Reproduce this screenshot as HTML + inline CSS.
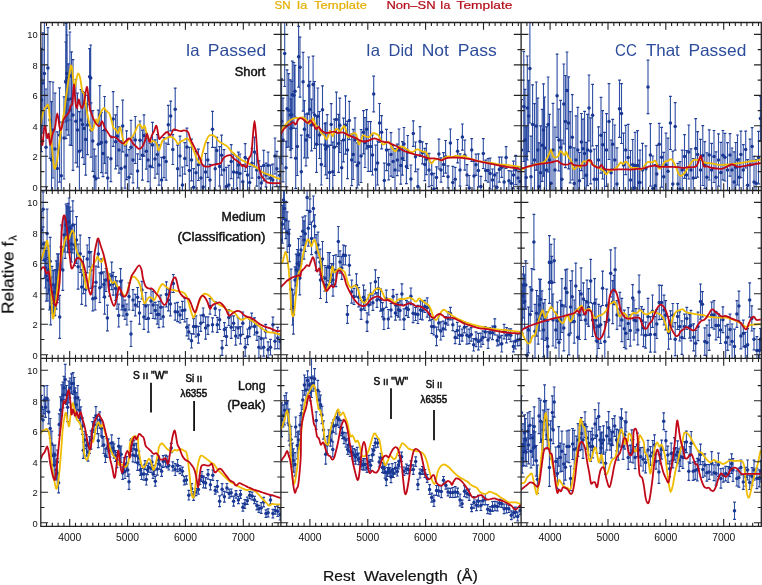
<!DOCTYPE html><html><head><meta charset="utf-8"><style>html,body{margin:0;padding:0;background:#fff;}svg{display:block;}</style></head><body><svg width="762" height="585" viewBox="0 0 762 585" font-family="Liberation Sans, sans-serif"><rect width="762" height="585" fill="#fff"/><clipPath id="c00"><rect x="40.8" y="22.5" width="240.2" height="168"/></clipPath><g clip-path="url(#c00)"><path d="M65.7 42V122M67.1 35V121M69.9 32V120M90.7 45V111M41.5 48.4V151.6M42.8 32.8V133.2M44.4 18.4V128.6M46 89V205.6M47.9 27.7V108.3M50 81.7V158.3M51.5 101.7V218.3M53 82V178M55 93.2V204.6M57.3 131.9V205.3M59.5 87.9V182.1M61.3 122.2V229.2M64 96.8V179M66 23.4V138.6M66.8 17.2V129.8M68.3 63.9V135.1M70 74.8V145.2M71.5 51.9V145.5M73 59.6V170.4M75.9 79.7V162.9M77.5 93.2V166.8M79.4 111.6V190.8M81 89.6V150.4M82.5 91.4V157.6M84.1 92.4V164.4M85.7 103.7V175.1M87.5 95.4V154.6M89.6 48.7V104.7M91 102.8V157.2M92.8 110.6V171.4M94.3 149.1V203.7M95.9 156V201.6M98.3 110.2V178.2M99.8 85.6V144.4M101.4 112.6V172.6M103 130.5V176.7M104.6 96.5V163.5M106 110.8V173.2M107.7 157.1V198.9M110.9 136V181.6M113.2 91.6V146.4M115.6 114.8V168.8M117.2 106.7V165.9M119 126.8V173.2M121.1 140.8V196.4M122.7 100.2V151.8M125 145.8V188.2M126.6 130.8V179.6M129 149.7V204.7M131 120.4V174.2M133 137.2V182.8M135.3 116.5V163.5M137.6 153.8V188M140 121V159.4M142.4 130.2V180.2M144 114.8V156.2M146.3 133.3V169.1M148 138.3V181.7M150.2 143.1V189.3M152.5 122.4V167.6M155 139.8V178.2M157.3 134.7V174.1M159 144.8V185.2M161.6 157.3V202.7M164 137.6V177.6M166.1 143V180.2M168.3 105.3V144.3M170.7 101.1V130.9M172.8 134.7V164.5M175.2 88.1V130.5M177.6 145.1V192.5M180 136.1V175.9M182.4 167V202.8M184.8 142.7V174.1M186.9 128.2V165.6M189.3 147.4V193.4M191.5 139.1V180.9M193.6 168.6V206M196 151.3V194.3M198.4 149.1V180.5M201 159.9V196.1M203.2 165.1V208.9M205.6 153.5V190.5M207.8 142.7V177.3M210 164.4V195.6M212.5 111.3V147.3M215.2 147.4V190.2M216.8 137.3V163.5M219.6 146.7V186.1M221.6 135.2V175.2M224 149.6V190.4M226.4 167.3V205.5M228.8 165.3V204.5M231.2 144.6V178.6M233.6 154.7V189.3M236.8 156.5V188.5M238.4 152.1V177.9M240 154V193.2M242.8 164.7V198.7M245.2 143.7V171.5M247.5 158.7V191.3M249.7 166.4V198.4M252 148.3V178.1M254.5 137.2V166.8M256.7 153.8V186.2M259 160.8V194.4M261.3 166.4V199.6M263.7 150.3V180.9M266 163.1V186.9M268.1 152.2V179M270.5 165.1V190.9M272.8 164.1V195.9M275 138V174M276.9 151.4V186.2M279.8 157.9V192.5" stroke="#2e4ea4" stroke-width="1.1" fill="none"/><path d="M64.3 42h2.8M64.3 122h2.8M65.7 35h2.8M65.7 121h2.8M68.5 32h2.8M68.5 120h2.8M89.3 45h2.8M89.3 111h2.8M40.1 48.4h2.8M40.1 151.6h2.8M41.4 32.8h2.8M41.4 133.2h2.8M43 18.4h2.8M43 128.6h2.8M44.6 89h2.8M44.6 205.6h2.8M46.5 27.7h2.8M46.5 108.3h2.8M48.6 81.7h2.8M48.6 158.3h2.8M50.1 101.7h2.8M50.1 218.3h2.8M51.6 82h2.8M51.6 178h2.8M53.6 93.2h2.8M53.6 204.6h2.8M55.9 131.9h2.8M55.9 205.3h2.8M58.1 87.9h2.8M58.1 182.1h2.8M59.9 122.2h2.8M59.9 229.2h2.8M62.6 96.8h2.8M62.6 179h2.8M64.6 23.4h2.8M64.6 138.6h2.8M65.4 17.2h2.8M65.4 129.8h2.8M66.9 63.9h2.8M66.9 135.1h2.8M68.6 74.8h2.8M68.6 145.2h2.8M70.1 51.9h2.8M70.1 145.5h2.8M71.6 59.6h2.8M71.6 170.4h2.8M74.5 79.7h2.8M74.5 162.9h2.8M76.1 93.2h2.8M76.1 166.8h2.8M78 111.6h2.8M78 190.8h2.8M79.6 89.6h2.8M79.6 150.4h2.8M81.1 91.4h2.8M81.1 157.6h2.8M82.7 92.4h2.8M82.7 164.4h2.8M84.3 103.7h2.8M84.3 175.1h2.8M86.1 95.4h2.8M86.1 154.6h2.8M88.2 48.7h2.8M88.2 104.7h2.8M89.6 102.8h2.8M89.6 157.2h2.8M91.4 110.6h2.8M91.4 171.4h2.8M92.9 149.1h2.8M92.9 203.7h2.8M94.5 156h2.8M94.5 201.6h2.8M96.9 110.2h2.8M96.9 178.2h2.8M98.4 85.6h2.8M98.4 144.4h2.8M100 112.6h2.8M100 172.6h2.8M101.6 130.5h2.8M101.6 176.7h2.8M103.2 96.5h2.8M103.2 163.5h2.8M104.6 110.8h2.8M104.6 173.2h2.8M106.3 157.1h2.8M106.3 198.9h2.8M109.5 136h2.8M109.5 181.6h2.8M111.8 91.6h2.8M111.8 146.4h2.8M114.2 114.8h2.8M114.2 168.8h2.8M115.8 106.7h2.8M115.8 165.9h2.8M117.6 126.8h2.8M117.6 173.2h2.8M119.7 140.8h2.8M119.7 196.4h2.8M121.3 100.2h2.8M121.3 151.8h2.8M123.6 145.8h2.8M123.6 188.2h2.8M125.2 130.8h2.8M125.2 179.6h2.8M127.6 149.7h2.8M127.6 204.7h2.8M129.6 120.4h2.8M129.6 174.2h2.8M131.6 137.2h2.8M131.6 182.8h2.8M133.9 116.5h2.8M133.9 163.5h2.8M136.2 153.8h2.8M136.2 188h2.8M138.6 121h2.8M138.6 159.4h2.8M141 130.2h2.8M141 180.2h2.8M142.6 114.8h2.8M142.6 156.2h2.8M144.9 133.3h2.8M144.9 169.1h2.8M146.6 138.3h2.8M146.6 181.7h2.8M148.8 143.1h2.8M148.8 189.3h2.8M151.1 122.4h2.8M151.1 167.6h2.8M153.6 139.8h2.8M153.6 178.2h2.8M155.9 134.7h2.8M155.9 174.1h2.8M157.6 144.8h2.8M157.6 185.2h2.8M160.2 157.3h2.8M160.2 202.7h2.8M162.6 137.6h2.8M162.6 177.6h2.8M164.7 143h2.8M164.7 180.2h2.8M166.9 105.3h2.8M166.9 144.3h2.8M169.3 101.1h2.8M169.3 130.9h2.8M171.4 134.7h2.8M171.4 164.5h2.8M173.8 88.1h2.8M173.8 130.5h2.8M176.2 145.1h2.8M176.2 192.5h2.8M178.6 136.1h2.8M178.6 175.9h2.8M181 167h2.8M181 202.8h2.8M183.4 142.7h2.8M183.4 174.1h2.8M185.5 128.2h2.8M185.5 165.6h2.8M187.9 147.4h2.8M187.9 193.4h2.8M190.1 139.1h2.8M190.1 180.9h2.8M192.2 168.6h2.8M192.2 206h2.8M194.6 151.3h2.8M194.6 194.3h2.8M197 149.1h2.8M197 180.5h2.8M199.6 159.9h2.8M199.6 196.1h2.8M201.8 165.1h2.8M201.8 208.9h2.8M204.2 153.5h2.8M204.2 190.5h2.8M206.4 142.7h2.8M206.4 177.3h2.8M208.6 164.4h2.8M208.6 195.6h2.8M211.1 111.3h2.8M211.1 147.3h2.8M213.8 147.4h2.8M213.8 190.2h2.8M215.4 137.3h2.8M215.4 163.5h2.8M218.2 146.7h2.8M218.2 186.1h2.8M220.2 135.2h2.8M220.2 175.2h2.8M222.6 149.6h2.8M222.6 190.4h2.8M225 167.3h2.8M225 205.5h2.8M227.4 165.3h2.8M227.4 204.5h2.8M229.8 144.6h2.8M229.8 178.6h2.8M232.2 154.7h2.8M232.2 189.3h2.8M235.4 156.5h2.8M235.4 188.5h2.8M237 152.1h2.8M237 177.9h2.8M238.6 154h2.8M238.6 193.2h2.8M241.4 164.7h2.8M241.4 198.7h2.8M243.8 143.7h2.8M243.8 171.5h2.8M246.1 158.7h2.8M246.1 191.3h2.8M248.3 166.4h2.8M248.3 198.4h2.8M250.6 148.3h2.8M250.6 178.1h2.8M253.1 137.2h2.8M253.1 166.8h2.8M255.3 153.8h2.8M255.3 186.2h2.8M257.6 160.8h2.8M257.6 194.4h2.8M259.9 166.4h2.8M259.9 199.6h2.8M262.3 150.3h2.8M262.3 180.9h2.8M264.6 163.1h2.8M264.6 186.9h2.8M266.7 152.2h2.8M266.7 179h2.8M269.1 165.1h2.8M269.1 190.9h2.8M271.4 164.1h2.8M271.4 195.9h2.8M273.6 138h2.8M273.6 174h2.8M275.5 151.4h2.8M275.5 186.2h2.8M278.4 157.9h2.8M278.4 192.5h2.8" stroke="#1f3d98" stroke-width="1.2" fill="none"/><g fill="#183692"><circle cx="65.7" cy="82" r="1.75"/><circle cx="67.1" cy="78" r="1.75"/><circle cx="69.9" cy="76" r="1.75"/><circle cx="90.7" cy="78" r="1.75"/><circle cx="41.5" cy="100" r="1.75"/><circle cx="42.8" cy="83" r="1.75"/><circle cx="44.4" cy="73.5" r="1.75"/><circle cx="46" cy="147.3" r="1.75"/><circle cx="47.9" cy="68" r="1.75"/><circle cx="50" cy="120" r="1.75"/><circle cx="51.5" cy="160" r="1.75"/><circle cx="53" cy="130" r="1.75"/><circle cx="55" cy="148.9" r="1.75"/><circle cx="57.3" cy="168.6" r="1.75"/><circle cx="59.5" cy="135" r="1.75"/><circle cx="61.3" cy="175.7" r="1.75"/><circle cx="64" cy="137.9" r="1.75"/><circle cx="66" cy="81" r="1.75"/><circle cx="66.8" cy="73.5" r="1.75"/><circle cx="68.3" cy="99.5" r="1.75"/><circle cx="70" cy="110" r="1.75"/><circle cx="71.5" cy="98.7" r="1.75"/><circle cx="73" cy="115" r="1.75"/><circle cx="75.9" cy="121.3" r="1.75"/><circle cx="77.5" cy="130" r="1.75"/><circle cx="79.4" cy="151.2" r="1.75"/><circle cx="81" cy="120" r="1.75"/><circle cx="82.5" cy="124.5" r="1.75"/><circle cx="84.1" cy="128.4" r="1.75"/><circle cx="85.7" cy="139.4" r="1.75"/><circle cx="87.5" cy="125" r="1.75"/><circle cx="89.6" cy="76.7" r="1.75"/><circle cx="91" cy="130" r="1.75"/><circle cx="92.8" cy="141" r="1.75"/><circle cx="94.3" cy="176.4" r="1.75"/><circle cx="95.9" cy="178.8" r="1.75"/><circle cx="98.3" cy="144.2" r="1.75"/><circle cx="99.8" cy="115" r="1.75"/><circle cx="101.4" cy="142.6" r="1.75"/><circle cx="103" cy="153.6" r="1.75"/><circle cx="104.6" cy="130" r="1.75"/><circle cx="106" cy="142" r="1.75"/><circle cx="107.7" cy="178" r="1.75"/><circle cx="110.9" cy="158.8" r="1.75"/><circle cx="113.2" cy="119" r="1.75"/><circle cx="115.6" cy="141.8" r="1.75"/><circle cx="117.2" cy="136.3" r="1.75"/><circle cx="119" cy="150" r="1.75"/><circle cx="121.1" cy="168.6" r="1.75"/><circle cx="122.7" cy="126" r="1.75"/><circle cx="125" cy="167" r="1.75"/><circle cx="126.6" cy="155.2" r="1.75"/><circle cx="129" cy="177.2" r="1.75"/><circle cx="131" cy="147.3" r="1.75"/><circle cx="133" cy="160" r="1.75"/><circle cx="135.3" cy="140" r="1.75"/><circle cx="137.6" cy="170.9" r="1.75"/><circle cx="140" cy="140.2" r="1.75"/><circle cx="142.4" cy="155.2" r="1.75"/><circle cx="144" cy="135.5" r="1.75"/><circle cx="146.3" cy="151.2" r="1.75"/><circle cx="148" cy="160" r="1.75"/><circle cx="150.2" cy="166.2" r="1.75"/><circle cx="152.5" cy="145" r="1.75"/><circle cx="155" cy="159" r="1.75"/><circle cx="157.3" cy="154.4" r="1.75"/><circle cx="159" cy="165" r="1.75"/><circle cx="161.6" cy="180" r="1.75"/><circle cx="164" cy="157.6" r="1.75"/><circle cx="166.1" cy="161.6" r="1.75"/><circle cx="168.3" cy="124.8" r="1.75"/><circle cx="170.7" cy="116" r="1.75"/><circle cx="172.8" cy="149.6" r="1.75"/><circle cx="175.2" cy="109.3" r="1.75"/><circle cx="177.6" cy="168.8" r="1.75"/><circle cx="180" cy="156" r="1.75"/><circle cx="182.4" cy="184.9" r="1.75"/><circle cx="184.8" cy="158.4" r="1.75"/><circle cx="186.9" cy="146.9" r="1.75"/><circle cx="189.3" cy="170.4" r="1.75"/><circle cx="191.5" cy="160" r="1.75"/><circle cx="193.6" cy="187.3" r="1.75"/><circle cx="196" cy="172.8" r="1.75"/><circle cx="198.4" cy="164.8" r="1.75"/><circle cx="201" cy="178" r="1.75"/><circle cx="203.2" cy="187" r="1.75"/><circle cx="205.6" cy="172" r="1.75"/><circle cx="207.8" cy="160" r="1.75"/><circle cx="210" cy="180" r="1.75"/><circle cx="212.5" cy="129.3" r="1.75"/><circle cx="215.2" cy="168.8" r="1.75"/><circle cx="216.8" cy="150.4" r="1.75"/><circle cx="219.6" cy="166.4" r="1.75"/><circle cx="221.6" cy="155.2" r="1.75"/><circle cx="224" cy="170" r="1.75"/><circle cx="226.4" cy="186.4" r="1.75"/><circle cx="228.8" cy="184.9" r="1.75"/><circle cx="231.2" cy="161.6" r="1.75"/><circle cx="233.6" cy="172" r="1.75"/><circle cx="236.8" cy="172.5" r="1.75"/><circle cx="238.4" cy="165" r="1.75"/><circle cx="240" cy="173.6" r="1.75"/><circle cx="242.8" cy="181.7" r="1.75"/><circle cx="245.2" cy="157.6" r="1.75"/><circle cx="247.5" cy="175" r="1.75"/><circle cx="249.7" cy="182.4" r="1.75"/><circle cx="252" cy="163.2" r="1.75"/><circle cx="254.5" cy="152" r="1.75"/><circle cx="256.7" cy="170" r="1.75"/><circle cx="259" cy="177.6" r="1.75"/><circle cx="261.3" cy="183" r="1.75"/><circle cx="263.7" cy="165.6" r="1.75"/><circle cx="266" cy="175" r="1.75"/><circle cx="268.1" cy="165.6" r="1.75"/><circle cx="270.5" cy="178" r="1.75"/><circle cx="272.8" cy="180" r="1.75"/><circle cx="275" cy="156" r="1.75"/><circle cx="276.9" cy="168.8" r="1.75"/><circle cx="279.8" cy="175.2" r="1.75"/></g><path d="M40.8 124.5C41.2 122.4 42.2 114.9 43.1 111.9C44 108.9 45.4 107.2 46.3 106.4C47.2 105.6 47.9 102.2 48.7 107.1C49.5 111.9 50.2 126.3 51 135.5C51.8 144.7 52.7 156.8 53.4 162.3C54.1 167.8 54.4 169.2 55 168.6C55.6 168 56.5 163.7 57.3 159C58.1 154.3 58.9 145.9 59.7 140.2C60.5 134.4 61.2 129.5 62 124.5C62.8 119.5 63.5 116.4 64.4 110C65.3 103.6 66.5 93.4 67.6 86C68.7 78.6 70.1 67.2 71 65.7C71.9 64.2 72.4 73 73 76.7C73.6 80.4 74 87.4 74.6 87.7C75.2 88 75.9 80.7 76.5 78.3C77.1 75.9 77.7 73.5 78.3 73.5C78.9 73.5 79.5 75.4 80.2 78.3C80.9 81.2 81.6 88.3 82.2 90.9C82.8 93.5 83.5 92 84.1 94C84.7 96 85.2 99.8 85.7 103C86.2 106.2 86.4 109.3 87.2 113.4C88 117.5 89.5 124.8 90.4 127.6C91.3 130.4 91.9 131.3 92.8 130C93.7 128.7 95.1 120.9 95.9 119.7C96.7 118.5 96.8 123.7 97.5 122.9C98.2 122.1 98.8 117.5 99.8 115C100.8 112.5 102.8 108.7 103.8 108C104.8 107.3 105.2 110.1 106.1 111C107 111.9 108.4 111.7 109.3 113.4C110.2 115.1 111 118.9 111.7 121.3C112.4 123.7 112.6 126.3 113.2 127.6C113.8 128.9 114.8 128.3 115.6 129.2C116.4 130.1 117.2 133.4 118 133.1C118.8 132.8 119.5 126.7 120.3 127.6C121.1 128.5 121.9 135.7 122.7 138.6C123.5 141.5 124.1 144.7 125 145C125.9 145.3 127.1 141.4 128.2 140.2C129.2 139 130.2 139.1 131.3 137.9C132.4 136.7 133.4 135.1 134.5 133.1C135.6 131.1 136.7 127.4 137.6 126C138.5 124.6 139.2 124.1 140 124.5C140.8 124.9 141.6 128.2 142.4 128.4C143.2 128.7 143.9 124.8 144.7 126C145.5 127.2 146.2 132.9 147.1 135.5C148 138.1 149.1 140.9 150.2 141.8C151.2 142.7 152.3 140.7 153.4 141C154.5 141.3 155.6 141.8 156.5 143.4C157.4 145 157.9 150.9 158.9 150.5C159.9 150.1 161.2 142.8 162.4 140.8C163.7 138.8 165.2 139.1 166.4 138.4C167.6 137.7 168.5 136.9 169.6 136.8C170.7 136.7 171.7 136.9 172.8 137.6C173.9 138.3 175.2 139.7 176 140.8C176.8 141.9 177.1 143.9 177.9 144C178.7 144.1 179.8 142.3 180.8 141.6C181.8 140.9 182.9 140.5 184 140C185.1 139.5 186.1 138 187.2 138.4C188.3 138.8 189.3 140.4 190.4 142.4C191.5 144.4 192.5 147.7 193.6 150.4C194.7 153.1 195.7 156.3 196.8 158.4C197.9 160.5 199.1 164 200 163.2C200.9 162.4 201.5 157.1 202.4 153.6C203.3 150.1 204.5 145.3 205.6 142.4C206.7 139.5 207.7 137.2 208.8 136C209.9 134.8 210.9 135.1 212 135.2C213.1 135.3 214.1 135.9 215.2 136.8C216.3 137.7 217.1 139.6 218.4 140.8C219.7 142 221.7 143.1 223.2 144C224.7 144.9 225.7 145.1 227.2 146.4C228.7 147.7 230.4 150.4 232 152C233.6 153.6 235.2 154.7 236.8 156C238.4 157.3 240.1 158.9 241.7 160C243.3 161.1 244.9 161.6 246.5 162.4C248.1 163.2 249.7 164 251.3 164.8C252.9 165.6 254.5 166.1 256.1 167.2C257.7 168.3 259.3 170.1 260.9 171.2C262.5 172.3 264.1 172.9 265.7 173.6C267.3 174.3 268.9 174.6 270.5 175.2C272.1 175.8 273.6 176.6 275.3 177.3C277 178 279.9 178.9 280.8 179.2" stroke="#f0bc00" stroke-width="1.8" fill="none" stroke-linejoin="round"/><path d="M40.8 135.5C41.1 137.1 41.8 146.6 42.4 145C43 143.4 43.9 127.2 44.7 126C45.5 124.8 46.4 136.6 47.1 137.9C47.8 139.2 48.2 132.7 48.7 133.9C49.2 135.1 49.6 145 50.2 145C50.9 145 51.8 136.8 52.6 133.9C53.4 131 54.2 131 55 127.6C55.8 124.2 56.5 113.4 57.3 113.4C58.1 113.4 59 125 59.7 127.6C60.4 130.2 60.6 130.5 61.3 129.2C61.9 127.9 62.7 122.1 63.6 119.7C64.5 117.3 65.9 116.3 66.8 115C67.7 113.7 68.4 113.4 69.1 111.9C69.8 110.4 70.2 107.2 70.7 105.8C71.2 104.4 71.8 107 72.3 103.5C72.8 100 73.4 84.9 73.9 84.6C74.4 84.3 74.9 98 75.4 101.9C75.9 105.8 76.5 108.4 77 108C77.5 107.6 78.1 100 78.6 99.5C79.1 99 79.6 103.6 80.2 105C80.8 106.4 81.6 108.5 82.2 108C82.8 107.5 83.3 105.4 84.1 101.9C84.9 98.4 86.1 87.8 86.8 87C87.5 86.2 88 93.4 88.5 97.2C89 101 89.8 107.6 90.1 109.8C90.4 112 89.8 108.8 90.4 110.3C91 111.8 92.5 116.6 93.5 119C94.5 121.4 95.7 123.3 96.7 124.5C97.8 125.7 98.9 126.5 99.8 126C100.7 125.5 101.4 121 102.2 121.3C103 121.6 103.7 125.8 104.6 127.6C105.5 129.4 106.7 130.7 107.7 132.3C108.8 133.9 109.9 136.2 110.9 137C112 137.8 113 136.7 114 137C115 137.3 116.2 137.8 117.2 138.6C118.2 139.4 119.2 141 120.3 141.8C121.3 142.6 122.5 143.7 123.5 143.4C124.5 143.1 125.5 141 126.6 140.2C127.6 139.4 128.8 138.1 129.8 138.6C130.9 139.1 131.9 142.1 132.9 143.4C133.9 144.7 135.1 145.6 136.1 146.5C137.1 147.4 138.1 148.9 139.2 148.9C140.2 148.9 141.5 147.7 142.4 146.5C143.3 145.3 143.9 143.9 144.7 141.8C145.5 139.7 146.3 133.9 147.1 133.9C147.9 133.9 148.6 141.5 149.4 141.8C150.2 142.1 151 137.3 151.8 135.5C152.6 133.7 153.4 132.4 154.2 130.8C155 129.2 155.7 124.8 156.5 126C157.3 127.2 158.3 135.8 158.9 137.9C159.5 140 159.3 138.9 160 138.4C160.7 137.9 162 136.3 163.2 135.2C164.4 134.1 166 132 167.2 132C168.4 132 169.3 135.6 170.4 135.2C171.5 134.8 172.4 130.4 173.6 129.6C174.8 128.8 176.4 130.1 177.6 130.4C178.8 130.7 179.7 131.2 180.8 131.2C181.9 131.2 182.8 130.3 184 130.4C185.2 130.5 186.9 130.5 188 132C189.1 133.5 189.5 136.9 190.4 139.2C191.3 141.5 192.5 143.5 193.6 145.6C194.7 147.7 195.7 149.9 196.8 152C197.9 154.1 199.1 156.3 200 158.4C200.9 160.5 201.6 163.5 202.4 164.8C203.2 166.1 203.6 166.1 204.8 166.4C206 166.7 208.3 166.7 209.6 166.4C210.9 166.1 211.5 165.2 212.8 164.8C214.1 164.4 216.3 164.3 217.6 164C218.9 163.7 219.9 164.1 220.8 163.2C221.7 162.3 222.3 159.6 223.2 158.4C224.1 157.2 225.2 156.5 226.4 156C227.6 155.5 229.2 154.8 230.4 155.2C231.6 155.6 232.5 157.5 233.6 158.4C234.7 159.3 235.7 160 236.8 160.8C237.9 161.6 239.1 162.3 240 163.2C240.9 164.1 241.8 166.1 242.5 166.4C243.2 166.7 243.3 164.7 244 164.8C244.7 164.9 245.7 168.3 246.5 167.2C247.3 166.1 248.1 160.7 248.9 158.4C249.7 156.1 250.6 157.3 251.3 153.6C252 149.9 252.4 141.5 252.9 136C253.4 130.5 254 120.8 254.5 120.8C255 120.8 255.5 129.2 256.1 136C256.7 142.8 257.2 155.2 258 161.6C258.8 168 259.9 171.5 260.9 174.4C261.9 177.3 263 177.9 264.1 179.2C265.2 180.5 266 181.7 267.3 182.4C268.6 183.1 269.9 183.1 272.1 183.2C274.4 183.3 279.4 183.2 280.8 183.2" stroke="#c20818" stroke-width="1.8" fill="none" stroke-linejoin="round"/></g><clipPath id="c01"><rect x="280.9" y="22.5" width="240.2" height="168"/></clipPath><g clip-path="url(#c01)"><path d="M281.6 78.8V163.8M283 98.1V181.9M284.7 20.5V86.5M286 141.3V194.3M287.1 69.9V147.5M288.7 73.6V147M290.2 79.8V150.2M291 99.2V157.6M291.8 81.3V148.7M292.3 61.2V128.4M293.9 62.5V128.1M295 65.3V117.1M295.7 128.3V188.3M297.3 117.5V175.5M298.6 26.3V87.1M300 37.2V97.2M301.3 135.2V208.2M303.1 52.3V111.1M304.4 100.6V157.8M306 114.2V165.8M307.6 113.2V157.8M308.7 57V114.4M309.9 81.3V137.7M311.5 99.1V150.9M313.1 56.2V113M314.6 81.5V148.5M316.5 116.1V172.3M317.8 88V144.6M319.5 111.5V158.5M321.3 144.2V185M322.5 85.8V133.8M324.9 123.7V166.3M325.7 122.9V174.9M327.2 114.6V178.4M329.6 145.2V199.8M331.2 103.6V145.4M332.8 142.1V201.3M334.3 119.1V175.5M336.4 92.2V146.6M338.6 114.4V172.4M339.8 98.1V152.5M341.7 140.5V195.1M343.5 118.1V161.9M345.5 95.9V154.1M347.5 121.4V178.6M349.3 101.3V139.7M351.7 134.2V185.6M353.2 129.3V179.5M355 117.9V162.1M357.2 142.8V188M358.7 141V185M361.1 129.5V182.5M363.5 110.7V153.9M365 117.7V167.5M366.6 109.6V148.8M368.2 121.5V171.5M370.6 121.7V171.3M372.5 135V175M373.7 76.2V111.8M375.7 145.2V193.6M377.6 141V185M379.5 103.5V142.3M381.6 115.7V148.9M384.3 163.1V197.7M386.5 129.4V170.6M388.7 149.3V179.9M391 132.6V176.2M393.1 145.7V177.3M395 148.7V191.3M397.3 144.2V175.6M399 129V171M400.8 147V184.2M402.4 141.7V175.1M404 127.5V160.5M406.4 149.1V183.7M407.7 135.5V168.5M410.9 165V192.8M413.3 120.8V146.4M415.5 142V171.6M417.9 169.1V203.9M420 126.7V156.5M422.4 141.8V163.8M424.8 148.3V180.7M426.4 143.7V174.7M429 153.3V186.7M431.7 162.3V185.7M433.9 173.3V204.5M436.5 166.8V188.4M438.9 139.2V169M441 157.8V182.2M443.5 152.6V176.4M445.6 140.5V173.1M448 165.8V187.8M450.4 129V156.8M452.8 166.3V198.5M455.2 167.3V191.1M457.6 139.5V162.9M460 153.8V186.2M462.4 124V150.2M464.8 140.2V170.2M467 164.6V185.4M469.2 175.5V200.7M471.7 138.7V161.3M474 161.4V190.6M476 154.2V175.4M478.4 153.9V186.9M480.9 176.3V196.7M483.3 138.7V168.5M485.7 160.2V180.6M488.1 158.7V182.1M490.1 158.2V189M492.5 169V191M494.7 163.8V186.2M496.9 172.8V201.8M499.3 157.1V182.1M501.7 157V177.4M504.1 165.6V198.4M506.1 146.7V168.5M508.9 170.7V190.9M511.3 171.1V195.3M513.5 161.2V188.8M515.8 155.4V184.6M518 167.5V188.5M520.1 169.6V193.6" stroke="#2e4ea4" stroke-width="1.1" fill="none"/><path d="M280.2 78.8h2.8M280.2 163.8h2.8M281.6 98.1h2.8M281.6 181.9h2.8M283.3 20.5h2.8M283.3 86.5h2.8M284.6 141.3h2.8M284.6 194.3h2.8M285.7 69.9h2.8M285.7 147.5h2.8M287.3 73.6h2.8M287.3 147h2.8M288.8 79.8h2.8M288.8 150.2h2.8M289.6 99.2h2.8M289.6 157.6h2.8M290.4 81.3h2.8M290.4 148.7h2.8M290.9 61.2h2.8M290.9 128.4h2.8M292.5 62.5h2.8M292.5 128.1h2.8M293.6 65.3h2.8M293.6 117.1h2.8M294.3 128.3h2.8M294.3 188.3h2.8M295.9 117.5h2.8M295.9 175.5h2.8M297.2 26.3h2.8M297.2 87.1h2.8M298.6 37.2h2.8M298.6 97.2h2.8M299.9 135.2h2.8M299.9 208.2h2.8M301.7 52.3h2.8M301.7 111.1h2.8M303 100.6h2.8M303 157.8h2.8M304.6 114.2h2.8M304.6 165.8h2.8M306.2 113.2h2.8M306.2 157.8h2.8M307.3 57h2.8M307.3 114.4h2.8M308.5 81.3h2.8M308.5 137.7h2.8M310.1 99.1h2.8M310.1 150.9h2.8M311.7 56.2h2.8M311.7 113h2.8M313.2 81.5h2.8M313.2 148.5h2.8M315.1 116.1h2.8M315.1 172.3h2.8M316.4 88h2.8M316.4 144.6h2.8M318.1 111.5h2.8M318.1 158.5h2.8M319.9 144.2h2.8M319.9 185h2.8M321.1 85.8h2.8M321.1 133.8h2.8M323.5 123.7h2.8M323.5 166.3h2.8M324.3 122.9h2.8M324.3 174.9h2.8M325.8 114.6h2.8M325.8 178.4h2.8M328.2 145.2h2.8M328.2 199.8h2.8M329.8 103.6h2.8M329.8 145.4h2.8M331.4 142.1h2.8M331.4 201.3h2.8M332.9 119.1h2.8M332.9 175.5h2.8M335 92.2h2.8M335 146.6h2.8M337.2 114.4h2.8M337.2 172.4h2.8M338.4 98.1h2.8M338.4 152.5h2.8M340.3 140.5h2.8M340.3 195.1h2.8M342.1 118.1h2.8M342.1 161.9h2.8M344.1 95.9h2.8M344.1 154.1h2.8M346.1 121.4h2.8M346.1 178.6h2.8M347.9 101.3h2.8M347.9 139.7h2.8M350.3 134.2h2.8M350.3 185.6h2.8M351.8 129.3h2.8M351.8 179.5h2.8M353.6 117.9h2.8M353.6 162.1h2.8M355.8 142.8h2.8M355.8 188h2.8M357.3 141h2.8M357.3 185h2.8M359.7 129.5h2.8M359.7 182.5h2.8M362.1 110.7h2.8M362.1 153.9h2.8M363.6 117.7h2.8M363.6 167.5h2.8M365.2 109.6h2.8M365.2 148.8h2.8M366.8 121.5h2.8M366.8 171.5h2.8M369.2 121.7h2.8M369.2 171.3h2.8M371.1 135h2.8M371.1 175h2.8M372.3 76.2h2.8M372.3 111.8h2.8M374.3 145.2h2.8M374.3 193.6h2.8M376.2 141h2.8M376.2 185h2.8M378.1 103.5h2.8M378.1 142.3h2.8M380.2 115.7h2.8M380.2 148.9h2.8M382.9 163.1h2.8M382.9 197.7h2.8M385.1 129.4h2.8M385.1 170.6h2.8M387.3 149.3h2.8M387.3 179.9h2.8M389.6 132.6h2.8M389.6 176.2h2.8M391.7 145.7h2.8M391.7 177.3h2.8M393.6 148.7h2.8M393.6 191.3h2.8M395.9 144.2h2.8M395.9 175.6h2.8M397.6 129h2.8M397.6 171h2.8M399.4 147h2.8M399.4 184.2h2.8M401 141.7h2.8M401 175.1h2.8M402.6 127.5h2.8M402.6 160.5h2.8M405 149.1h2.8M405 183.7h2.8M406.3 135.5h2.8M406.3 168.5h2.8M409.5 165h2.8M409.5 192.8h2.8M411.9 120.8h2.8M411.9 146.4h2.8M414.1 142h2.8M414.1 171.6h2.8M416.5 169.1h2.8M416.5 203.9h2.8M418.6 126.7h2.8M418.6 156.5h2.8M421 141.8h2.8M421 163.8h2.8M423.4 148.3h2.8M423.4 180.7h2.8M425 143.7h2.8M425 174.7h2.8M427.6 153.3h2.8M427.6 186.7h2.8M430.3 162.3h2.8M430.3 185.7h2.8M432.5 173.3h2.8M432.5 204.5h2.8M435.1 166.8h2.8M435.1 188.4h2.8M437.5 139.2h2.8M437.5 169h2.8M439.6 157.8h2.8M439.6 182.2h2.8M442.1 152.6h2.8M442.1 176.4h2.8M444.2 140.5h2.8M444.2 173.1h2.8M446.6 165.8h2.8M446.6 187.8h2.8M449 129h2.8M449 156.8h2.8M451.4 166.3h2.8M451.4 198.5h2.8M453.8 167.3h2.8M453.8 191.1h2.8M456.2 139.5h2.8M456.2 162.9h2.8M458.6 153.8h2.8M458.6 186.2h2.8M461 124h2.8M461 150.2h2.8M463.4 140.2h2.8M463.4 170.2h2.8M465.6 164.6h2.8M465.6 185.4h2.8M467.8 175.5h2.8M467.8 200.7h2.8M470.3 138.7h2.8M470.3 161.3h2.8M472.6 161.4h2.8M472.6 190.6h2.8M474.6 154.2h2.8M474.6 175.4h2.8M477 153.9h2.8M477 186.9h2.8M479.5 176.3h2.8M479.5 196.7h2.8M481.9 138.7h2.8M481.9 168.5h2.8M484.3 160.2h2.8M484.3 180.6h2.8M486.7 158.7h2.8M486.7 182.1h2.8M488.7 158.2h2.8M488.7 189h2.8M491.1 169h2.8M491.1 191h2.8M493.3 163.8h2.8M493.3 186.2h2.8M495.5 172.8h2.8M495.5 201.8h2.8M497.9 157.1h2.8M497.9 182.1h2.8M500.3 157h2.8M500.3 177.4h2.8M502.7 165.6h2.8M502.7 198.4h2.8M504.7 146.7h2.8M504.7 168.5h2.8M507.5 170.7h2.8M507.5 190.9h2.8M509.9 171.1h2.8M509.9 195.3h2.8M512.1 161.2h2.8M512.1 188.8h2.8M514.4 155.4h2.8M514.4 184.6h2.8M516.6 167.5h2.8M516.6 188.5h2.8M518.7 169.6h2.8M518.7 193.6h2.8" stroke="#1f3d98" stroke-width="1.2" fill="none"/><g fill="#183692"><circle cx="281.6" cy="121.3" r="1.75"/><circle cx="283" cy="140" r="1.75"/><circle cx="284.7" cy="53.5" r="1.75"/><circle cx="286" cy="167.8" r="1.75"/><circle cx="287.1" cy="108.7" r="1.75"/><circle cx="288.7" cy="110.3" r="1.75"/><circle cx="290.2" cy="115" r="1.75"/><circle cx="291" cy="128.4" r="1.75"/><circle cx="291.8" cy="115" r="1.75"/><circle cx="292.3" cy="94.8" r="1.75"/><circle cx="293.9" cy="95.3" r="1.75"/><circle cx="295" cy="91.2" r="1.75"/><circle cx="295.7" cy="158.3" r="1.75"/><circle cx="297.3" cy="146.5" r="1.75"/><circle cx="298.6" cy="56.7" r="1.75"/><circle cx="300" cy="67.2" r="1.75"/><circle cx="301.3" cy="171.7" r="1.75"/><circle cx="303.1" cy="81.7" r="1.75"/><circle cx="304.4" cy="129.2" r="1.75"/><circle cx="306" cy="140" r="1.75"/><circle cx="307.6" cy="135.5" r="1.75"/><circle cx="308.7" cy="85.7" r="1.75"/><circle cx="309.9" cy="109.5" r="1.75"/><circle cx="311.5" cy="125" r="1.75"/><circle cx="313.1" cy="84.6" r="1.75"/><circle cx="314.6" cy="115" r="1.75"/><circle cx="316.5" cy="144.2" r="1.75"/><circle cx="317.8" cy="116.3" r="1.75"/><circle cx="319.5" cy="135" r="1.75"/><circle cx="321.3" cy="164.6" r="1.75"/><circle cx="322.5" cy="109.8" r="1.75"/><circle cx="324.9" cy="145" r="1.75"/><circle cx="325.7" cy="148.9" r="1.75"/><circle cx="327.2" cy="146.5" r="1.75"/><circle cx="329.6" cy="172.5" r="1.75"/><circle cx="331.2" cy="124.5" r="1.75"/><circle cx="332.8" cy="171.7" r="1.75"/><circle cx="334.3" cy="147.3" r="1.75"/><circle cx="336.4" cy="119.4" r="1.75"/><circle cx="338.6" cy="143.4" r="1.75"/><circle cx="339.8" cy="125.3" r="1.75"/><circle cx="341.7" cy="167.8" r="1.75"/><circle cx="343.5" cy="140" r="1.75"/><circle cx="345.5" cy="125" r="1.75"/><circle cx="347.5" cy="150" r="1.75"/><circle cx="349.3" cy="120.5" r="1.75"/><circle cx="351.7" cy="159.9" r="1.75"/><circle cx="353.2" cy="154.4" r="1.75"/><circle cx="355" cy="140" r="1.75"/><circle cx="357.2" cy="165.4" r="1.75"/><circle cx="358.7" cy="163" r="1.75"/><circle cx="361.1" cy="156" r="1.75"/><circle cx="363.5" cy="132.3" r="1.75"/><circle cx="365" cy="142.6" r="1.75"/><circle cx="366.6" cy="129.2" r="1.75"/><circle cx="368.2" cy="146.5" r="1.75"/><circle cx="370.6" cy="146.5" r="1.75"/><circle cx="372.5" cy="155" r="1.75"/><circle cx="373.7" cy="94" r="1.75"/><circle cx="375.7" cy="169.4" r="1.75"/><circle cx="377.6" cy="163" r="1.75"/><circle cx="379.5" cy="122.9" r="1.75"/><circle cx="381.6" cy="132.3" r="1.75"/><circle cx="384.3" cy="180.4" r="1.75"/><circle cx="386.5" cy="150" r="1.75"/><circle cx="388.7" cy="164.6" r="1.75"/><circle cx="391" cy="154.4" r="1.75"/><circle cx="393.1" cy="161.5" r="1.75"/><circle cx="395" cy="170" r="1.75"/><circle cx="397.3" cy="159.9" r="1.75"/><circle cx="399" cy="150" r="1.75"/><circle cx="400.8" cy="165.6" r="1.75"/><circle cx="402.4" cy="158.4" r="1.75"/><circle cx="404" cy="144" r="1.75"/><circle cx="406.4" cy="166.4" r="1.75"/><circle cx="407.7" cy="152" r="1.75"/><circle cx="410.9" cy="178.9" r="1.75"/><circle cx="413.3" cy="133.6" r="1.75"/><circle cx="415.5" cy="156.8" r="1.75"/><circle cx="417.9" cy="186.5" r="1.75"/><circle cx="420" cy="141.6" r="1.75"/><circle cx="422.4" cy="152.8" r="1.75"/><circle cx="424.8" cy="164.5" r="1.75"/><circle cx="426.4" cy="159.2" r="1.75"/><circle cx="429" cy="170" r="1.75"/><circle cx="431.7" cy="174" r="1.75"/><circle cx="433.9" cy="188.9" r="1.75"/><circle cx="436.5" cy="177.6" r="1.75"/><circle cx="438.9" cy="154.1" r="1.75"/><circle cx="441" cy="170" r="1.75"/><circle cx="443.5" cy="164.5" r="1.75"/><circle cx="445.6" cy="156.8" r="1.75"/><circle cx="448" cy="176.8" r="1.75"/><circle cx="450.4" cy="142.9" r="1.75"/><circle cx="452.8" cy="182.4" r="1.75"/><circle cx="455.2" cy="179.2" r="1.75"/><circle cx="457.6" cy="151.2" r="1.75"/><circle cx="460" cy="170" r="1.75"/><circle cx="462.4" cy="137.1" r="1.75"/><circle cx="464.8" cy="155.2" r="1.75"/><circle cx="467" cy="175" r="1.75"/><circle cx="469.2" cy="188.1" r="1.75"/><circle cx="471.7" cy="150" r="1.75"/><circle cx="474" cy="176" r="1.75"/><circle cx="476" cy="164.8" r="1.75"/><circle cx="478.4" cy="170.4" r="1.75"/><circle cx="480.9" cy="186.5" r="1.75"/><circle cx="483.3" cy="153.6" r="1.75"/><circle cx="485.7" cy="170.4" r="1.75"/><circle cx="488.1" cy="170.4" r="1.75"/><circle cx="490.1" cy="173.6" r="1.75"/><circle cx="492.5" cy="180" r="1.75"/><circle cx="494.7" cy="175" r="1.75"/><circle cx="496.9" cy="187.3" r="1.75"/><circle cx="499.3" cy="169.6" r="1.75"/><circle cx="501.7" cy="167.2" r="1.75"/><circle cx="504.1" cy="182" r="1.75"/><circle cx="506.1" cy="157.6" r="1.75"/><circle cx="508.9" cy="180.8" r="1.75"/><circle cx="511.3" cy="183.2" r="1.75"/><circle cx="513.5" cy="175" r="1.75"/><circle cx="515.8" cy="170" r="1.75"/><circle cx="518" cy="178" r="1.75"/><circle cx="520.1" cy="181.6" r="1.75"/></g><path d="M280.8 132C281.2 131.3 282.1 129.1 283.1 127.6C284.2 126.1 285.8 124.2 287.1 122.9C288.4 121.6 289.7 120.5 291 119.7C292.3 118.9 293.7 118.5 295 118.2C296.3 117.9 297.6 118 298.9 117.9C300.2 117.8 301.6 117.1 302.8 117.4C304 117.7 304.9 118.7 306 119.7C307.1 120.8 308.2 123.4 309.1 123.7C310 124 310.8 122.2 311.5 121.3C312.2 120.4 312.5 117.7 313.1 118.2C313.8 118.7 314.5 122.9 315.4 124.5C316.3 126.1 317.6 126.2 318.6 127.6C319.6 129 320.4 131.8 321.3 133.1C322.2 134.4 323.2 134.4 324.1 135.5C325 136.6 325.7 139.5 326.5 139.4C327.3 139.3 328.2 136.1 328.8 134.7C329.4 133.3 329.7 130.5 330.4 130.8C331.1 131.1 332 136.4 332.8 136.3C333.6 136.2 334.3 131.2 335.1 130C335.9 128.8 336.8 128.9 337.5 129.2C338.2 129.5 338.8 131.6 339.5 131.6C340.2 131.6 340.9 130.1 341.7 129.2C342.5 128.3 343.6 125.7 344.3 126C345 126.3 345.5 129 346.1 130.8C346.7 132.7 347.2 136.4 348 137.1C348.8 137.8 349.9 135.4 350.9 134.7C351.9 134 353.1 133.1 354 133.1C354.9 133.1 355.6 132.8 356.4 134.7C357.2 136.5 357.9 143.3 358.7 144.2C359.5 145.1 360.4 141.6 361.1 140.2C361.8 138.8 361.9 136.2 362.7 135.5C363.5 134.8 364.8 136 365.8 136.3C366.9 136.6 367.8 137.6 369 137.1C370.2 136.6 371.7 133.6 372.9 133.1C374.1 132.6 375.2 133.5 376.1 133.9C377 134.3 377.8 134.8 378.4 135.5C379 136.2 379.3 136.5 380 137.9C380.7 139.3 381.5 143.3 382.4 144.2C383.3 145.1 384.4 143.8 385.5 143.4C386.6 143 387.8 141.4 388.7 141.8C389.6 142.2 390.2 144.4 391 145.7C391.8 147 392.6 148.8 393.4 149.7C394.2 150.6 394.9 151.6 395.7 151.2C396.5 150.8 397.4 148.1 398.1 147.3C398.8 146.5 399.1 146.5 400 146.5C400.9 146.5 402 146.7 403.2 147.2C404.4 147.7 405.9 148.8 407.2 149.6C408.5 150.4 410 151.7 411.2 152C412.4 152.3 413.6 151.6 414.4 151.2C415.2 150.8 415.2 149.9 416 149.6C416.8 149.3 418.1 149.2 419.2 149.6C420.3 149.9 421.3 151.3 422.4 151.7C423.5 152.1 424.7 151.3 425.6 152C426.5 152.7 427.2 154.3 428 156C428.8 157.7 429.7 161.2 430.4 162.4C431.1 163.6 431.3 163.6 432 163.2C432.7 162.8 433.3 160.7 434.4 160C435.5 159.3 437.2 159.1 438.4 159.2C439.6 159.3 440.5 160.7 441.6 160.4C442.7 160.1 443.7 158.2 444.8 157.6C445.9 156.9 446.7 156.6 448 156.5C449.3 156.4 451.3 157 452.8 156.8C454.3 156.7 455.6 155.6 456.8 155.6C458 155.6 458.8 156.7 460 156.8C461.2 156.9 462.8 155.9 464 156C465.2 156.1 465.9 157.1 467.2 157.6C468.5 158.1 470.4 158.7 472 159.2C473.6 159.7 475.2 160.4 476.8 160.8C478.4 161.2 480.1 161.3 481.7 161.6C483.3 161.9 484.6 162.1 486.5 162.4C488.4 162.7 490.8 162.8 492.9 163.2C495 163.5 497.2 164.2 499.3 164.5C501.4 164.8 503.6 164.6 505.7 164.8C507.8 165 509.6 165.2 512.1 165.6C514.6 166 519.3 166.8 520.8 167" stroke="#f0bc00" stroke-width="1.8" fill="none" stroke-linejoin="round"/><path d="M280.8 134.5C281.2 133.8 282.1 131.4 283.1 130C284.2 128.6 285.8 127 287.1 126C288.4 125 289.9 124.4 291 123.7C292.1 123 292.6 122 293.4 122.1C294.2 122.2 294.9 124.9 295.7 124.5C296.5 124.1 297.3 120.8 298.1 119.7C298.9 118.7 299.6 118.2 300.5 118.2C301.4 118.2 302.4 118.9 303.6 119.7C304.8 120.5 306.4 122.8 307.6 122.9C308.8 123 309.6 120.1 310.7 120.5C311.8 120.9 313 123.8 313.9 125.3C314.8 126.8 315.4 128.9 316.2 129.2C317 129.4 317.8 126.7 318.6 126.8C319.4 126.9 320 129.1 320.9 130C321.8 130.9 323.1 131.8 324.1 132.3C325.2 132.8 326.1 133.1 327.2 133.1C328.2 133.1 329.2 132.6 330.4 132.3C331.6 132.1 333 131.5 334.3 131.6C335.6 131.7 337 133 338.3 133.1C339.6 133.2 340.9 132.2 342.2 132.3C343.5 132.4 344.7 133.2 346.1 133.9C347.6 134.6 349.3 135.6 350.9 136.3C352.5 137 354.2 137.2 355.6 137.9C357 138.6 358.2 139.6 359.5 140.2C360.8 140.8 362.2 141.4 363.5 141.5C364.8 141.6 366.1 141.3 367.4 141C368.7 140.7 370.1 139.8 371.3 139.4C372.5 139 373.4 138.3 374.5 138.3C375.6 138.3 376.6 139 377.6 139.4C378.7 139.8 379.8 140.6 380.8 141C381.9 141.4 382.6 141.5 383.9 141.8C385.2 142.1 387.4 142.2 388.7 142.6C390 143 390.6 143.7 391.8 144.2C393 144.7 394.3 145 395.7 145.7C397.1 146.4 398.5 147.6 400 148.5C401.5 149.4 403.2 150.5 404.8 151.2C406.4 151.9 408 152.3 409.6 152.8C411.2 153.3 412.8 154 414.4 154.4C416 154.8 417.6 154.8 419.2 155.2C420.8 155.6 422.4 156.3 424 156.8C425.6 157.3 427.2 158.1 428.8 158.4C430.4 158.7 432 158.3 433.6 158.4C435.2 158.5 437.1 158.9 438.4 159.2C439.7 159.5 440.4 160.5 441.6 160.4C442.8 160.3 444 158.9 445.6 158.4C447.2 157.9 449.2 157.7 451.2 157.6C453.2 157.5 455.5 157.5 457.6 157.6C459.7 157.7 461.9 157.8 464 158.1C466.1 158.4 468.3 158.8 470.4 159.2C472.5 159.6 474.6 160.3 476.8 160.8C479 161.3 481.2 161.9 483.3 162.4C485.4 162.9 487.6 163.2 489.7 163.6C491.8 164 494 164.4 496.1 164.8C498.2 165.2 500.4 165.7 502.5 166.1C504.6 166.5 506.8 166.9 508.9 167.2C511 167.5 513.3 167.6 515.3 168C517.3 168.4 519.9 169.2 520.8 169.4" stroke="#c20818" stroke-width="1.8" fill="none" stroke-linejoin="round"/></g><clipPath id="c02"><rect x="521.1" y="22.5" width="240.2" height="168"/></clipPath><g clip-path="url(#c02)"><path d="M519.8 138.4V224.8M521.5 99.7V200.3M523.8 51.5V161.5M525 89.4V190.6M526.2 126.8V228.4M527.3 56V160M528.6 80.4V151.6M529.9 14V123M531 136.1V217.5M532.6 84.8V164.2M534.5 103.7V216.3M536.3 82V170.2M537.8 98.1V201.9M539 142.8V230.2M540.6 125.9V219.7M542.2 109.3V181.3M543.5 83.8V176.2M544.6 97V199M546.5 126.8V213.2M548.1 77V172M549.5 114.3V205.7M551 150.5V215.9M553 103.3V196.7M555 127.1V212.9M557.1 54.1V137.3M558.8 109.2V170.8M560.6 100.4V194.6M561.9 140.2V218.2M563.8 64V144M565.4 75.5V167.7M567 52V128.8M568.6 76.9V168.9M570.2 111.6V182.8M572.3 94.6V180M574.2 147.9V219.3M576 115.8V204.2M577.8 107.4V192.6M579.5 152.5V209.1M581.4 113.5V170.7M583 119.1V178.5M584.6 111.4V195.8M586.2 142.4V208M587.6 114.3V185.7M589 75V141M590.7 117.9V183.9M592.6 84.4V146M594.2 149.2V209.2M596.6 145.7V212.7M598.5 126.8V193.2M601 97.3V173.1M602.6 110.6V179M604.5 132.3V207.7M606.5 113.7V186.3M609 83.7V159.5M611.1 140V205.6M612.7 119.4V169.2M614.8 125V195M617 147.8V220.2M619.5 80.2V137.4M621.5 83.7V143.5M623.5 133.1V196.9M625.7 125.4V174.6M628.2 124.3V190.9M630.5 150.5V209.5M632.7 139.5V190.1M634.3 165.9V210.1M635.1 132.4V198.8M637.5 130.6V200.6M639.1 160.1V204.7M640 150.2V214.6M642.5 143.4V196.6M645.9 145.9V191.7M648 60.2V113.6M650.4 123.7V186.1M652.8 156V221M655.2 164.7V206.7M656.8 145.4V202.8M659.2 123.4V165.2M661.6 127.3V187.1M663.7 152.3V201.3M666 133.2V196.8M668 138.2V204.2M670.4 96.3V149.5M672.8 151.1V216.9M675.2 102.7V150.1M677.9 163.4V204.6M680 161.6V216.2M682.2 150.2V189.8M684.5 134.6V178.4M686.5 150.5V199.5M688.8 125V179M691 148.9V191.1M693.3 158.5V197.5M695.7 118.6V178.4M697.6 131.6V177.2M700.5 139.3V200.7M702.8 125.7V185.5M704.8 141.6V188.4M706.9 152.9V201.7M709.2 129.8V180M711.6 143.4V196.6M714 130.5V182.5M716 151.8V202.8M718.5 133.8V186.2M720.9 142.4V202.6M722.9 130.5V179.9M724.9 133.4V181M727.5 142.7V197.3M730 133.6V176.2M732 148V192M734.1 151.8V212.4M735.7 142.5V191.9M737.5 135V185M739.3 158.9V195.7M740.9 131.1V177.7M743.3 144.7V195.3M745.7 131.2V168M747.6 159.7V210.9M750 139.2V190.8M752.1 127.6V165.2M754 156.4V207.8M756.1 159.6V207M758.5 131.4V183.8M760.4 96.1V140.7" stroke="#2e4ea4" stroke-width="1.1" fill="none"/><path d="M518.4 138.4h2.8M518.4 224.8h2.8M520.1 99.7h2.8M520.1 200.3h2.8M522.4 51.5h2.8M522.4 161.5h2.8M523.6 89.4h2.8M523.6 190.6h2.8M524.8 126.8h2.8M524.8 228.4h2.8M525.9 56h2.8M525.9 160h2.8M527.2 80.4h2.8M527.2 151.6h2.8M528.5 14h2.8M528.5 123h2.8M529.6 136.1h2.8M529.6 217.5h2.8M531.2 84.8h2.8M531.2 164.2h2.8M533.1 103.7h2.8M533.1 216.3h2.8M534.9 82h2.8M534.9 170.2h2.8M536.4 98.1h2.8M536.4 201.9h2.8M537.6 142.8h2.8M537.6 230.2h2.8M539.2 125.9h2.8M539.2 219.7h2.8M540.8 109.3h2.8M540.8 181.3h2.8M542.1 83.8h2.8M542.1 176.2h2.8M543.2 97h2.8M543.2 199h2.8M545.1 126.8h2.8M545.1 213.2h2.8M546.7 77h2.8M546.7 172h2.8M548.1 114.3h2.8M548.1 205.7h2.8M549.6 150.5h2.8M549.6 215.9h2.8M551.6 103.3h2.8M551.6 196.7h2.8M553.6 127.1h2.8M553.6 212.9h2.8M555.7 54.1h2.8M555.7 137.3h2.8M557.4 109.2h2.8M557.4 170.8h2.8M559.2 100.4h2.8M559.2 194.6h2.8M560.5 140.2h2.8M560.5 218.2h2.8M562.4 64h2.8M562.4 144h2.8M564 75.5h2.8M564 167.7h2.8M565.6 52h2.8M565.6 128.8h2.8M567.2 76.9h2.8M567.2 168.9h2.8M568.8 111.6h2.8M568.8 182.8h2.8M570.9 94.6h2.8M570.9 180h2.8M572.8 147.9h2.8M572.8 219.3h2.8M574.6 115.8h2.8M574.6 204.2h2.8M576.4 107.4h2.8M576.4 192.6h2.8M578.1 152.5h2.8M578.1 209.1h2.8M580 113.5h2.8M580 170.7h2.8M581.6 119.1h2.8M581.6 178.5h2.8M583.2 111.4h2.8M583.2 195.8h2.8M584.8 142.4h2.8M584.8 208h2.8M586.2 114.3h2.8M586.2 185.7h2.8M587.6 75h2.8M587.6 141h2.8M589.3 117.9h2.8M589.3 183.9h2.8M591.2 84.4h2.8M591.2 146h2.8M592.8 149.2h2.8M592.8 209.2h2.8M595.2 145.7h2.8M595.2 212.7h2.8M597.1 126.8h2.8M597.1 193.2h2.8M599.6 97.3h2.8M599.6 173.1h2.8M601.2 110.6h2.8M601.2 179h2.8M603.1 132.3h2.8M603.1 207.7h2.8M605.1 113.7h2.8M605.1 186.3h2.8M607.6 83.7h2.8M607.6 159.5h2.8M609.7 140h2.8M609.7 205.6h2.8M611.3 119.4h2.8M611.3 169.2h2.8M613.4 125h2.8M613.4 195h2.8M615.6 147.8h2.8M615.6 220.2h2.8M618.1 80.2h2.8M618.1 137.4h2.8M620.1 83.7h2.8M620.1 143.5h2.8M622.1 133.1h2.8M622.1 196.9h2.8M624.3 125.4h2.8M624.3 174.6h2.8M626.8 124.3h2.8M626.8 190.9h2.8M629.1 150.5h2.8M629.1 209.5h2.8M631.3 139.5h2.8M631.3 190.1h2.8M632.9 165.9h2.8M632.9 210.1h2.8M633.7 132.4h2.8M633.7 198.8h2.8M636.1 130.6h2.8M636.1 200.6h2.8M637.7 160.1h2.8M637.7 204.7h2.8M638.6 150.2h2.8M638.6 214.6h2.8M641.1 143.4h2.8M641.1 196.6h2.8M644.5 145.9h2.8M644.5 191.7h2.8M646.6 60.2h2.8M646.6 113.6h2.8M649 123.7h2.8M649 186.1h2.8M651.4 156h2.8M651.4 221h2.8M653.8 164.7h2.8M653.8 206.7h2.8M655.4 145.4h2.8M655.4 202.8h2.8M657.8 123.4h2.8M657.8 165.2h2.8M660.2 127.3h2.8M660.2 187.1h2.8M662.3 152.3h2.8M662.3 201.3h2.8M664.6 133.2h2.8M664.6 196.8h2.8M666.6 138.2h2.8M666.6 204.2h2.8M669 96.3h2.8M669 149.5h2.8M671.4 151.1h2.8M671.4 216.9h2.8M673.8 102.7h2.8M673.8 150.1h2.8M676.5 163.4h2.8M676.5 204.6h2.8M678.6 161.6h2.8M678.6 216.2h2.8M680.8 150.2h2.8M680.8 189.8h2.8M683.1 134.6h2.8M683.1 178.4h2.8M685.1 150.5h2.8M685.1 199.5h2.8M687.4 125h2.8M687.4 179h2.8M689.6 148.9h2.8M689.6 191.1h2.8M691.9 158.5h2.8M691.9 197.5h2.8M694.3 118.6h2.8M694.3 178.4h2.8M696.2 131.6h2.8M696.2 177.2h2.8M699.1 139.3h2.8M699.1 200.7h2.8M701.4 125.7h2.8M701.4 185.5h2.8M703.4 141.6h2.8M703.4 188.4h2.8M705.5 152.9h2.8M705.5 201.7h2.8M707.8 129.8h2.8M707.8 180h2.8M710.2 143.4h2.8M710.2 196.6h2.8M712.6 130.5h2.8M712.6 182.5h2.8M714.6 151.8h2.8M714.6 202.8h2.8M717.1 133.8h2.8M717.1 186.2h2.8M719.5 142.4h2.8M719.5 202.6h2.8M721.5 130.5h2.8M721.5 179.9h2.8M723.5 133.4h2.8M723.5 181h2.8M726.1 142.7h2.8M726.1 197.3h2.8M728.6 133.6h2.8M728.6 176.2h2.8M730.6 148h2.8M730.6 192h2.8M732.7 151.8h2.8M732.7 212.4h2.8M734.3 142.5h2.8M734.3 191.9h2.8M736.1 135h2.8M736.1 185h2.8M737.9 158.9h2.8M737.9 195.7h2.8M739.5 131.1h2.8M739.5 177.7h2.8M741.9 144.7h2.8M741.9 195.3h2.8M744.3 131.2h2.8M744.3 168h2.8M746.2 159.7h2.8M746.2 210.9h2.8M748.6 139.2h2.8M748.6 190.8h2.8M750.7 127.6h2.8M750.7 165.2h2.8M752.6 156.4h2.8M752.6 207.8h2.8M754.7 159.6h2.8M754.7 207h2.8M757.1 131.4h2.8M757.1 183.8h2.8M759 96.1h2.8M759 140.7h2.8" stroke="#1f3d98" stroke-width="1.2" fill="none"/><g fill="#183692"><circle cx="519.8" cy="181.6" r="1.75"/><circle cx="521.5" cy="150" r="1.75"/><circle cx="523.8" cy="106.5" r="1.75"/><circle cx="525" cy="140" r="1.75"/><circle cx="526.2" cy="177.6" r="1.75"/><circle cx="527.3" cy="108" r="1.75"/><circle cx="528.6" cy="116" r="1.75"/><circle cx="529.9" cy="68.5" r="1.75"/><circle cx="531" cy="176.8" r="1.75"/><circle cx="532.6" cy="124.5" r="1.75"/><circle cx="534.5" cy="160" r="1.75"/><circle cx="536.3" cy="126.1" r="1.75"/><circle cx="537.8" cy="150" r="1.75"/><circle cx="539" cy="186.5" r="1.75"/><circle cx="540.6" cy="172.8" r="1.75"/><circle cx="542.2" cy="145.3" r="1.75"/><circle cx="543.5" cy="130" r="1.75"/><circle cx="544.6" cy="148" r="1.75"/><circle cx="546.5" cy="170" r="1.75"/><circle cx="548.1" cy="124.5" r="1.75"/><circle cx="549.5" cy="160" r="1.75"/><circle cx="551" cy="183.2" r="1.75"/><circle cx="553" cy="150" r="1.75"/><circle cx="555" cy="170" r="1.75"/><circle cx="557.1" cy="95.7" r="1.75"/><circle cx="558.8" cy="140" r="1.75"/><circle cx="560.6" cy="147.5" r="1.75"/><circle cx="561.9" cy="179.2" r="1.75"/><circle cx="563.8" cy="104" r="1.75"/><circle cx="565.4" cy="121.6" r="1.75"/><circle cx="567" cy="90.4" r="1.75"/><circle cx="568.6" cy="122.9" r="1.75"/><circle cx="570.2" cy="147.2" r="1.75"/><circle cx="572.3" cy="137.3" r="1.75"/><circle cx="574.2" cy="183.6" r="1.75"/><circle cx="576" cy="160" r="1.75"/><circle cx="577.8" cy="150" r="1.75"/><circle cx="579.5" cy="180.8" r="1.75"/><circle cx="581.4" cy="142.1" r="1.75"/><circle cx="583" cy="148.8" r="1.75"/><circle cx="584.6" cy="153.6" r="1.75"/><circle cx="586.2" cy="175.2" r="1.75"/><circle cx="587.6" cy="150" r="1.75"/><circle cx="589" cy="108" r="1.75"/><circle cx="590.7" cy="150.9" r="1.75"/><circle cx="592.6" cy="115.2" r="1.75"/><circle cx="594.2" cy="179.2" r="1.75"/><circle cx="596.6" cy="179.2" r="1.75"/><circle cx="598.5" cy="160" r="1.75"/><circle cx="601" cy="135.2" r="1.75"/><circle cx="602.6" cy="144.8" r="1.75"/><circle cx="604.5" cy="170" r="1.75"/><circle cx="606.5" cy="150" r="1.75"/><circle cx="609" cy="121.6" r="1.75"/><circle cx="611.1" cy="172.8" r="1.75"/><circle cx="612.7" cy="144.3" r="1.75"/><circle cx="614.8" cy="160" r="1.75"/><circle cx="617" cy="184" r="1.75"/><circle cx="619.5" cy="108.8" r="1.75"/><circle cx="621.5" cy="113.6" r="1.75"/><circle cx="623.5" cy="165" r="1.75"/><circle cx="625.7" cy="150" r="1.75"/><circle cx="628.2" cy="157.6" r="1.75"/><circle cx="630.5" cy="180" r="1.75"/><circle cx="632.7" cy="164.8" r="1.75"/><circle cx="634.3" cy="188" r="1.75"/><circle cx="635.1" cy="165.6" r="1.75"/><circle cx="637.5" cy="165.6" r="1.75"/><circle cx="639.1" cy="182.4" r="1.75"/><circle cx="640" cy="182.4" r="1.75"/><circle cx="642.5" cy="170" r="1.75"/><circle cx="645.9" cy="168.8" r="1.75"/><circle cx="648" cy="86.9" r="1.75"/><circle cx="650.4" cy="154.9" r="1.75"/><circle cx="652.8" cy="188.5" r="1.75"/><circle cx="655.2" cy="185.7" r="1.75"/><circle cx="656.8" cy="174.1" r="1.75"/><circle cx="659.2" cy="144.3" r="1.75"/><circle cx="661.6" cy="157.2" r="1.75"/><circle cx="663.7" cy="176.8" r="1.75"/><circle cx="666" cy="165" r="1.75"/><circle cx="668" cy="171.2" r="1.75"/><circle cx="670.4" cy="122.9" r="1.75"/><circle cx="672.8" cy="184" r="1.75"/><circle cx="675.2" cy="126.4" r="1.75"/><circle cx="677.9" cy="184" r="1.75"/><circle cx="680" cy="188.9" r="1.75"/><circle cx="682.2" cy="170" r="1.75"/><circle cx="684.5" cy="156.5" r="1.75"/><circle cx="686.5" cy="175" r="1.75"/><circle cx="688.8" cy="152" r="1.75"/><circle cx="691" cy="170" r="1.75"/><circle cx="693.3" cy="178" r="1.75"/><circle cx="695.7" cy="148.5" r="1.75"/><circle cx="697.6" cy="154.4" r="1.75"/><circle cx="700.5" cy="170" r="1.75"/><circle cx="702.8" cy="155.6" r="1.75"/><circle cx="704.8" cy="165" r="1.75"/><circle cx="706.9" cy="177.3" r="1.75"/><circle cx="709.2" cy="154.9" r="1.75"/><circle cx="711.6" cy="170" r="1.75"/><circle cx="714" cy="156.5" r="1.75"/><circle cx="716" cy="177.3" r="1.75"/><circle cx="718.5" cy="160" r="1.75"/><circle cx="720.9" cy="172.5" r="1.75"/><circle cx="722.9" cy="155.2" r="1.75"/><circle cx="724.9" cy="157.2" r="1.75"/><circle cx="727.5" cy="170" r="1.75"/><circle cx="730" cy="154.9" r="1.75"/><circle cx="732" cy="170" r="1.75"/><circle cx="734.1" cy="182.1" r="1.75"/><circle cx="735.7" cy="167.2" r="1.75"/><circle cx="737.5" cy="160" r="1.75"/><circle cx="739.3" cy="177.3" r="1.75"/><circle cx="740.9" cy="154.4" r="1.75"/><circle cx="743.3" cy="170" r="1.75"/><circle cx="745.7" cy="149.6" r="1.75"/><circle cx="747.6" cy="185.3" r="1.75"/><circle cx="750" cy="165" r="1.75"/><circle cx="752.1" cy="146.4" r="1.75"/><circle cx="754" cy="182.1" r="1.75"/><circle cx="756.1" cy="183.3" r="1.75"/><circle cx="758.5" cy="157.6" r="1.75"/><circle cx="760.4" cy="118.4" r="1.75"/></g><path d="M520.8 170.8C521 170.6 521.2 170.2 522.2 169.6C523.2 169 525.4 167.9 527 167.2C528.6 166.5 530.2 166.1 531.8 165.6C533.4 165.1 535 164.4 536.6 164C538.2 163.6 540.1 163.6 541.4 163.2C542.7 162.8 543.7 162.4 544.6 161.6C545.5 160.8 546.3 159.5 547 158.4C547.7 157.3 547.9 156.7 548.6 155.2C549.3 153.7 550.3 149.6 551 149.6C551.7 149.6 551.9 153.9 552.6 155.2C553.3 156.5 554.1 157.5 555 157.6C555.9 157.7 557.3 157.1 558.2 156C559.1 154.9 559.6 151.7 560.3 151.2C561 150.7 561.8 152.1 562.5 152.8C563.2 153.5 564 155.3 564.6 155.2C565.2 155.1 565.5 151.6 566.2 152C566.9 152.4 567.8 156.3 568.6 157.6C569.4 158.9 570.2 158.1 571 160C571.8 161.9 572.6 167.5 573.4 168.8C574.2 170.1 575 168.5 575.8 168C576.6 167.5 577.4 165.7 578.2 165.6C579 165.5 579.8 167.9 580.6 167.2C581.4 166.5 582.1 162.5 583 161.6C583.9 160.7 585.3 161.9 586.2 161.6C587.1 161.3 587.8 159.7 588.6 160C589.4 160.3 590.1 162.3 591 163.2C591.9 164.1 593.1 164.9 594.2 165.6C595.3 166.3 596.3 166.7 597.4 167.2C598.5 167.7 599.6 168.1 600.7 168.8C601.8 169.5 603 170.3 603.9 171.2C604.8 172.1 605.5 174.4 606.3 174.4C607.1 174.4 607.8 171.9 608.7 171.2C609.6 170.5 610.8 170.8 611.9 170.4C613 170 614 169.6 615.1 168.8C616.2 168 617.4 166.7 618.3 165.6C619.2 164.5 619.9 162.7 620.7 162.4C621.5 162.1 622.3 164.1 623.1 164C623.9 163.9 624.7 161.7 625.5 161.6C626.3 161.5 627.1 162.3 627.9 163.2C628.7 164.1 629.2 166.4 630.3 167.2C631.4 168 633.1 167.9 634.3 168C635.5 168.1 636.5 167.7 637.5 168C638.5 168.3 639 169.6 640 169.6C641 169.6 642.3 168.9 643.2 168C644.1 167.1 644.8 165 645.6 164C646.4 163 646.9 162.3 648 162C649.1 161.7 650.8 162.6 652 162.4C653.2 162.2 654.3 160.3 655.2 160.8C656.1 161.3 656.9 164.3 657.6 165.6C658.3 166.9 658.7 168.8 659.5 168.8C660.3 168.8 661.5 166.8 662.4 165.6C663.3 164.4 663.9 162.4 664.8 161.6C665.7 160.8 666.9 161.2 668 160.8C669.1 160.4 670.3 158.9 671.2 159.2C672.1 159.5 672.8 161.1 673.6 162.4C674.4 163.7 675.2 165.3 676 167.2C676.8 169.1 677.6 172.1 678.4 173.6C679.2 175.1 679.9 176 680.8 176C681.7 176 682.9 174.8 684 173.6C685.1 172.4 686.1 170.4 687.2 168.8C688.3 167.2 689.3 165.5 690.4 164C691.5 162.5 692.4 160.7 693.6 160C694.8 159.3 696.4 160.1 697.6 160C698.8 159.9 699.7 158.8 700.8 159.2C701.9 159.6 702.7 161.7 704 162.4C705.3 163.1 707.2 163 708.8 163.2C710.4 163.4 712 163.4 713.6 163.7C715.2 164 716.8 164.6 718.4 164.8C720 165 721.4 164.9 723.3 164.8C725.2 164.7 727.6 164.6 729.7 164.4C731.8 164.2 733.7 163.9 736.1 163.6C738.5 163.3 741.4 162.8 744.1 162.4C746.8 162 749.3 161.6 752.1 161.2C754.9 160.8 759.3 159.9 760.8 159.7" stroke="#f0bc00" stroke-width="1.8" fill="none" stroke-linejoin="round"/><path d="M520.8 168C521.3 168 522.5 168.3 523.8 168C525.1 167.7 526.7 166.9 528.6 166.4C530.5 165.9 532.9 165.2 535 164.8C537.1 164.4 539.3 164 541.4 163.7C543.5 163.4 545.9 163.2 547.8 162.9C549.7 162.6 551 162.3 552.6 162C554.2 161.7 556.1 160.6 557.4 160.8C558.7 161 559.5 162.6 560.6 163.2C561.7 163.8 562.6 164.3 563.8 164.5C565 164.7 566.6 164.8 567.8 164.5C569 164.2 570.1 162.8 571 162.9C571.9 163 572.3 164.4 573.4 164.8C574.5 165.2 575.9 165.5 577.4 165.6C578.9 165.7 580.7 165.7 582.2 165.6C583.7 165.5 585.3 166 586.2 165.2C587.1 164.4 587 161.5 587.8 160.8C588.6 160.1 590.2 160.1 591 160.8C591.8 161.5 591.8 163.8 592.6 164.8C593.4 165.8 594.7 166.3 595.8 166.8C596.9 167.3 598 168 599 167.7C600 167.4 600.7 164.6 601.5 164.8C602.3 165 602.7 168 603.9 168.8C605.1 169.6 606.8 169.5 608.7 169.6C610.6 169.7 612.7 169.6 615.1 169.6C617.5 169.6 620.4 169.3 623.1 169.3C625.8 169.3 628.7 169.7 631.1 169.6C633.5 169.5 636 168.9 637.5 168.8C639 168.7 638.8 168.9 640 168.8C641.2 168.7 643.2 168.4 644.8 168C646.4 167.6 647.9 166.8 649.6 166.4C651.3 166 653.6 165.5 655.2 165.6C656.8 165.7 657.5 166.6 659.2 166.8C660.9 167 663.5 166.9 665.6 166.9C667.7 166.9 669.9 166.8 672 166.8C674.1 166.9 676.5 167 678.4 167.2C680.3 167.4 681.6 168 683.2 168C684.8 168 686.4 167.3 688 167.2C689.6 167.1 691.3 167.5 692.8 167.2C694.3 166.9 695.7 167.1 696.8 165.6C697.9 164.1 698.9 160 699.6 158.4C700.3 156.8 700.3 155.6 700.8 156C701.3 156.4 701.9 159.1 702.4 160.8C702.9 162.5 703.2 165.5 704 166.4C704.8 167.3 705.9 166.1 707.2 166.4C708.5 166.7 710.4 167.7 712 168C713.6 168.3 715.2 168.4 716.8 168.5C718.4 168.6 720.1 169.1 721.7 168.8C723.3 168.5 724.9 167.6 726.5 166.9C728.1 166.2 730 164.8 731.3 164.5C732.6 164.2 733.4 164.8 734.5 165.2C735.6 165.6 736.1 166.8 737.7 166.9C739.3 167.1 741.7 166.5 744.1 166.1C746.5 165.7 749.3 165 752.1 164.5C754.9 164 759.3 163.2 760.8 163" stroke="#c20818" stroke-width="1.8" fill="none" stroke-linejoin="round"/></g><clipPath id="c10"><rect x="40.8" y="190.5" width="240.2" height="168"/></clipPath><g clip-path="url(#c10)"><path d="M45.5 248V288M47.8 259V301M49.4 270V310M51.3 277V313M54.2 284V316M55.8 270V306M58 264V300M66 204V246M67.5 208V252M70 207V249M72.8 211V253M41.5 211.4V248.6M43.1 191.8V226.8M43.1 227.1V260.7M44.8 242.1V277.9M46.3 250.6V301.2M47.1 209.2V257.6M48.5 246.1V293.9M50.2 237.4V285M50.7 289.9V324.9M52 266.3V303.7M53.4 270.6V314.4M55 269.5V315.5M56.2 260.8V309.2M57.3 253.9V302.7M58.5 253.8V286.2M59.7 295.4V338.4M61.3 225V269.2M62.8 249.5V290.3M64 218V252M65.2 218.4V258.4M66.8 205.8V238M68 203.4V252.6M69.1 198V245.8M70.3 211.4V252.6M71.5 225.8V262M72.8 200.8V249.2M74.5 224.3V265.7M76.5 216.7V263.3M78.1 244.2V289.2M80.2 235.1V272.5M81.7 269.6V304.4M83.5 256.4V293.6M85.7 272.7V305.9M87.2 245V272.8M89.3 237.7V266.9M91 251.7V288.3M92.8 286.8V310.8M95.1 286.2V309.8M95.9 266.1V298.3M98.3 241V267.2M99.8 272.9V302.5M101.4 258.9V287.1M103.8 271.8V297.4M104.6 279.7V314.1M106 268.5V291.5M107.4 305.2V330.8M109.5 273.9V296.1M111.7 262.1V289.7M113.2 272.4V295.2M115.6 276.7V300.3M117 280.8V309.2M118.7 304.2V327M120.6 268.6V294.2M121.8 280.1V309.9M123.1 296V315.8M125 300.2V319.4M126.9 304V325M129 282.8V310M131 321.3V346.5M133 289.7V310.3M135.3 294.4V315.8M137.6 287.5V306.9M139.5 301.6V324.2M142 281.3V298.9M143.9 304.5V329.3M145.8 292.5V319.3M148.3 304.9V332.1M151 288.9V313.3M153.1 291.7V318.5M155.3 302.4V318.8M157.3 304.9V324.1M158.9 301.4V327.6M160.8 295.2V319.2M163.2 306.8V326.8M166.4 281.8V307M168.4 289.1V310.9M170.4 292.2V315.8M173.3 274.5V292.5M175.2 303.2V320.2M177.6 302.4V321.6M180 306.9V322.9M182.4 301.3V319.5M184.8 298.3V321.9M186.9 318.5V335.9M188.8 324.9V339.1M191.5 333.6V348M193.6 318.7V334.1M196 315.9V336.9M198.4 326.4V343.2M200.8 315.1V331.3M203.2 308V322.4M205.6 316.8V339.2M208 316.9V334.3M210 298.7V314.1M212.5 317.8V331.8M215.2 301.5V315.5M217.3 317.3V332.3M219.6 309.9V329.5M222.1 340.6V355.4M224.4 322.7V336.5M226.4 327.4V345.4M228.8 309.7V325.5M231.2 316V338.4M233.6 315.9V330.5M235.7 326.9V345.1M238.1 317.8V338.2M240.5 326.6V343.8M242.8 312V334.4M245.2 338.3V356.1M247.6 329V344.6M249.7 319.4V336.6M251.7 313.1V326.9M254.5 317.8V335M256.9 324.6V340.4M258.9 336.4V358M261.2 327.9V348.9M263.7 338.2V356.2M265.7 324.3V338.1M268.1 341.9V357.7M270.5 339.4V355M272.9 317.1V332.5M275 333.4V349M277.7 327.3V348.7M280.1 334.2V349" stroke="#2e4ea4" stroke-width="1.1" fill="none"/><path d="M44.1 248h2.8M44.1 288h2.8M46.4 259h2.8M46.4 301h2.8M48 270h2.8M48 310h2.8M49.9 277h2.8M49.9 313h2.8M52.8 284h2.8M52.8 316h2.8M54.4 270h2.8M54.4 306h2.8M56.6 264h2.8M56.6 300h2.8M64.6 204h2.8M64.6 246h2.8M66.1 208h2.8M66.1 252h2.8M68.6 207h2.8M68.6 249h2.8M71.4 211h2.8M71.4 253h2.8M40.1 211.4h2.8M40.1 248.6h2.8M41.7 191.8h2.8M41.7 226.8h2.8M41.7 227.1h2.8M41.7 260.7h2.8M43.4 242.1h2.8M43.4 277.9h2.8M44.9 250.6h2.8M44.9 301.2h2.8M45.7 209.2h2.8M45.7 257.6h2.8M47.1 246.1h2.8M47.1 293.9h2.8M48.8 237.4h2.8M48.8 285h2.8M49.3 289.9h2.8M49.3 324.9h2.8M50.6 266.3h2.8M50.6 303.7h2.8M52 270.6h2.8M52 314.4h2.8M53.6 269.5h2.8M53.6 315.5h2.8M54.8 260.8h2.8M54.8 309.2h2.8M55.9 253.9h2.8M55.9 302.7h2.8M57.1 253.8h2.8M57.1 286.2h2.8M58.3 295.4h2.8M58.3 338.4h2.8M59.9 225h2.8M59.9 269.2h2.8M61.4 249.5h2.8M61.4 290.3h2.8M62.6 218h2.8M62.6 252h2.8M63.8 218.4h2.8M63.8 258.4h2.8M65.4 205.8h2.8M65.4 238h2.8M66.6 203.4h2.8M66.6 252.6h2.8M67.7 198h2.8M67.7 245.8h2.8M68.9 211.4h2.8M68.9 252.6h2.8M70.1 225.8h2.8M70.1 262h2.8M71.4 200.8h2.8M71.4 249.2h2.8M73.1 224.3h2.8M73.1 265.7h2.8M75.1 216.7h2.8M75.1 263.3h2.8M76.7 244.2h2.8M76.7 289.2h2.8M78.8 235.1h2.8M78.8 272.5h2.8M80.3 269.6h2.8M80.3 304.4h2.8M82.1 256.4h2.8M82.1 293.6h2.8M84.3 272.7h2.8M84.3 305.9h2.8M85.8 245h2.8M85.8 272.8h2.8M87.9 237.7h2.8M87.9 266.9h2.8M89.6 251.7h2.8M89.6 288.3h2.8M91.4 286.8h2.8M91.4 310.8h2.8M93.7 286.2h2.8M93.7 309.8h2.8M94.5 266.1h2.8M94.5 298.3h2.8M96.9 241h2.8M96.9 267.2h2.8M98.4 272.9h2.8M98.4 302.5h2.8M100 258.9h2.8M100 287.1h2.8M102.4 271.8h2.8M102.4 297.4h2.8M103.2 279.7h2.8M103.2 314.1h2.8M104.6 268.5h2.8M104.6 291.5h2.8M106 305.2h2.8M106 330.8h2.8M108.1 273.9h2.8M108.1 296.1h2.8M110.3 262.1h2.8M110.3 289.7h2.8M111.8 272.4h2.8M111.8 295.2h2.8M114.2 276.7h2.8M114.2 300.3h2.8M115.6 280.8h2.8M115.6 309.2h2.8M117.3 304.2h2.8M117.3 327h2.8M119.2 268.6h2.8M119.2 294.2h2.8M120.4 280.1h2.8M120.4 309.9h2.8M121.7 296h2.8M121.7 315.8h2.8M123.6 300.2h2.8M123.6 319.4h2.8M125.5 304h2.8M125.5 325h2.8M127.6 282.8h2.8M127.6 310h2.8M129.6 321.3h2.8M129.6 346.5h2.8M131.6 289.7h2.8M131.6 310.3h2.8M133.9 294.4h2.8M133.9 315.8h2.8M136.2 287.5h2.8M136.2 306.9h2.8M138.1 301.6h2.8M138.1 324.2h2.8M140.6 281.3h2.8M140.6 298.9h2.8M142.5 304.5h2.8M142.5 329.3h2.8M144.4 292.5h2.8M144.4 319.3h2.8M146.9 304.9h2.8M146.9 332.1h2.8M149.6 288.9h2.8M149.6 313.3h2.8M151.7 291.7h2.8M151.7 318.5h2.8M153.9 302.4h2.8M153.9 318.8h2.8M155.9 304.9h2.8M155.9 324.1h2.8M157.5 301.4h2.8M157.5 327.6h2.8M159.4 295.2h2.8M159.4 319.2h2.8M161.8 306.8h2.8M161.8 326.8h2.8M165 281.8h2.8M165 307h2.8M167 289.1h2.8M167 310.9h2.8M169 292.2h2.8M169 315.8h2.8M171.9 274.5h2.8M171.9 292.5h2.8M173.8 303.2h2.8M173.8 320.2h2.8M176.2 302.4h2.8M176.2 321.6h2.8M178.6 306.9h2.8M178.6 322.9h2.8M181 301.3h2.8M181 319.5h2.8M183.4 298.3h2.8M183.4 321.9h2.8M185.5 318.5h2.8M185.5 335.9h2.8M187.4 324.9h2.8M187.4 339.1h2.8M190.1 333.6h2.8M190.1 348h2.8M192.2 318.7h2.8M192.2 334.1h2.8M194.6 315.9h2.8M194.6 336.9h2.8M197 326.4h2.8M197 343.2h2.8M199.4 315.1h2.8M199.4 331.3h2.8M201.8 308h2.8M201.8 322.4h2.8M204.2 316.8h2.8M204.2 339.2h2.8M206.6 316.9h2.8M206.6 334.3h2.8M208.6 298.7h2.8M208.6 314.1h2.8M211.1 317.8h2.8M211.1 331.8h2.8M213.8 301.5h2.8M213.8 315.5h2.8M215.9 317.3h2.8M215.9 332.3h2.8M218.2 309.9h2.8M218.2 329.5h2.8M220.7 340.6h2.8M220.7 355.4h2.8M223 322.7h2.8M223 336.5h2.8M225 327.4h2.8M225 345.4h2.8M227.4 309.7h2.8M227.4 325.5h2.8M229.8 316h2.8M229.8 338.4h2.8M232.2 315.9h2.8M232.2 330.5h2.8M234.3 326.9h2.8M234.3 345.1h2.8M236.7 317.8h2.8M236.7 338.2h2.8M239.1 326.6h2.8M239.1 343.8h2.8M241.4 312h2.8M241.4 334.4h2.8M243.8 338.3h2.8M243.8 356.1h2.8M246.2 329h2.8M246.2 344.6h2.8M248.3 319.4h2.8M248.3 336.6h2.8M250.3 313.1h2.8M250.3 326.9h2.8M253.1 317.8h2.8M253.1 335h2.8M255.5 324.6h2.8M255.5 340.4h2.8M257.5 336.4h2.8M257.5 358h2.8M259.8 327.9h2.8M259.8 348.9h2.8M262.3 338.2h2.8M262.3 356.2h2.8M264.3 324.3h2.8M264.3 338.1h2.8M266.7 341.9h2.8M266.7 357.7h2.8M269.1 339.4h2.8M269.1 355h2.8M271.5 317.1h2.8M271.5 332.5h2.8M273.6 333.4h2.8M273.6 349h2.8M276.3 327.3h2.8M276.3 348.7h2.8M278.7 334.2h2.8M278.7 349h2.8" stroke="#1f3d98" stroke-width="1.2" fill="none"/><g fill="#183692"><circle cx="45.5" cy="268" r="1.75"/><circle cx="47.8" cy="280" r="1.75"/><circle cx="49.4" cy="290" r="1.75"/><circle cx="51.3" cy="295" r="1.75"/><circle cx="54.2" cy="300" r="1.75"/><circle cx="55.8" cy="288" r="1.75"/><circle cx="58" cy="282" r="1.75"/><circle cx="66" cy="225" r="1.75"/><circle cx="67.5" cy="230" r="1.75"/><circle cx="70" cy="228" r="1.75"/><circle cx="72.8" cy="232" r="1.75"/><circle cx="41.5" cy="230" r="1.75"/><circle cx="43.1" cy="209.3" r="1.75"/><circle cx="43.1" cy="243.9" r="1.75"/><circle cx="44.8" cy="260" r="1.75"/><circle cx="46.3" cy="275.9" r="1.75"/><circle cx="47.1" cy="233.4" r="1.75"/><circle cx="48.5" cy="270" r="1.75"/><circle cx="50.2" cy="261.2" r="1.75"/><circle cx="50.7" cy="307.4" r="1.75"/><circle cx="52" cy="285" r="1.75"/><circle cx="53.4" cy="292.5" r="1.75"/><circle cx="55" cy="292.5" r="1.75"/><circle cx="56.2" cy="285" r="1.75"/><circle cx="57.3" cy="278.3" r="1.75"/><circle cx="58.5" cy="270" r="1.75"/><circle cx="59.7" cy="316.9" r="1.75"/><circle cx="61.3" cy="247.1" r="1.75"/><circle cx="62.8" cy="269.9" r="1.75"/><circle cx="64" cy="235" r="1.75"/><circle cx="65.2" cy="238.4" r="1.75"/><circle cx="66.8" cy="221.9" r="1.75"/><circle cx="68" cy="228" r="1.75"/><circle cx="69.1" cy="221.9" r="1.75"/><circle cx="70.3" cy="232" r="1.75"/><circle cx="71.5" cy="243.9" r="1.75"/><circle cx="72.8" cy="225" r="1.75"/><circle cx="74.5" cy="245" r="1.75"/><circle cx="76.5" cy="240" r="1.75"/><circle cx="78.1" cy="266.7" r="1.75"/><circle cx="80.2" cy="253.8" r="1.75"/><circle cx="81.7" cy="287" r="1.75"/><circle cx="83.5" cy="275" r="1.75"/><circle cx="85.7" cy="289.3" r="1.75"/><circle cx="87.2" cy="258.9" r="1.75"/><circle cx="89.3" cy="252.3" r="1.75"/><circle cx="91" cy="270" r="1.75"/><circle cx="92.8" cy="298.8" r="1.75"/><circle cx="95.1" cy="298" r="1.75"/><circle cx="95.9" cy="282.2" r="1.75"/><circle cx="98.3" cy="254.1" r="1.75"/><circle cx="99.8" cy="287.7" r="1.75"/><circle cx="101.4" cy="273" r="1.75"/><circle cx="103.8" cy="284.6" r="1.75"/><circle cx="104.6" cy="296.9" r="1.75"/><circle cx="106" cy="280" r="1.75"/><circle cx="107.4" cy="318" r="1.75"/><circle cx="109.5" cy="285" r="1.75"/><circle cx="111.7" cy="275.9" r="1.75"/><circle cx="113.2" cy="283.8" r="1.75"/><circle cx="115.6" cy="288.5" r="1.75"/><circle cx="117" cy="295" r="1.75"/><circle cx="118.7" cy="315.6" r="1.75"/><circle cx="120.6" cy="281.4" r="1.75"/><circle cx="121.8" cy="295" r="1.75"/><circle cx="123.1" cy="305.9" r="1.75"/><circle cx="125" cy="309.8" r="1.75"/><circle cx="126.9" cy="314.5" r="1.75"/><circle cx="129" cy="296.4" r="1.75"/><circle cx="131" cy="333.9" r="1.75"/><circle cx="133" cy="300" r="1.75"/><circle cx="135.3" cy="305.1" r="1.75"/><circle cx="137.6" cy="297.2" r="1.75"/><circle cx="139.5" cy="312.9" r="1.75"/><circle cx="142" cy="290.1" r="1.75"/><circle cx="143.9" cy="316.9" r="1.75"/><circle cx="145.8" cy="305.9" r="1.75"/><circle cx="148.3" cy="318.5" r="1.75"/><circle cx="151" cy="301.1" r="1.75"/><circle cx="153.1" cy="305.1" r="1.75"/><circle cx="155.3" cy="310.6" r="1.75"/><circle cx="157.3" cy="314.5" r="1.75"/><circle cx="158.9" cy="314.5" r="1.75"/><circle cx="160.8" cy="307.2" r="1.75"/><circle cx="163.2" cy="316.8" r="1.75"/><circle cx="166.4" cy="294.4" r="1.75"/><circle cx="168.4" cy="300" r="1.75"/><circle cx="170.4" cy="304" r="1.75"/><circle cx="173.3" cy="283.5" r="1.75"/><circle cx="175.2" cy="311.7" r="1.75"/><circle cx="177.6" cy="312" r="1.75"/><circle cx="180" cy="314.9" r="1.75"/><circle cx="182.4" cy="310.4" r="1.75"/><circle cx="184.8" cy="310.1" r="1.75"/><circle cx="186.9" cy="327.2" r="1.75"/><circle cx="188.8" cy="332" r="1.75"/><circle cx="191.5" cy="340.8" r="1.75"/><circle cx="193.6" cy="326.4" r="1.75"/><circle cx="196" cy="326.4" r="1.75"/><circle cx="198.4" cy="334.8" r="1.75"/><circle cx="200.8" cy="323.2" r="1.75"/><circle cx="203.2" cy="315.2" r="1.75"/><circle cx="205.6" cy="328" r="1.75"/><circle cx="208" cy="325.6" r="1.75"/><circle cx="210" cy="306.4" r="1.75"/><circle cx="212.5" cy="324.8" r="1.75"/><circle cx="215.2" cy="308.5" r="1.75"/><circle cx="217.3" cy="324.8" r="1.75"/><circle cx="219.6" cy="319.7" r="1.75"/><circle cx="222.1" cy="348" r="1.75"/><circle cx="224.4" cy="329.6" r="1.75"/><circle cx="226.4" cy="336.4" r="1.75"/><circle cx="228.8" cy="317.6" r="1.75"/><circle cx="231.2" cy="327.2" r="1.75"/><circle cx="233.6" cy="323.2" r="1.75"/><circle cx="235.7" cy="336" r="1.75"/><circle cx="238.1" cy="328" r="1.75"/><circle cx="240.5" cy="335.2" r="1.75"/><circle cx="242.8" cy="323.2" r="1.75"/><circle cx="245.2" cy="347.2" r="1.75"/><circle cx="247.6" cy="336.8" r="1.75"/><circle cx="249.7" cy="328" r="1.75"/><circle cx="251.7" cy="320" r="1.75"/><circle cx="254.5" cy="326.4" r="1.75"/><circle cx="256.9" cy="332.5" r="1.75"/><circle cx="258.9" cy="347.2" r="1.75"/><circle cx="261.2" cy="338.4" r="1.75"/><circle cx="263.7" cy="347.2" r="1.75"/><circle cx="265.7" cy="331.2" r="1.75"/><circle cx="268.1" cy="349.8" r="1.75"/><circle cx="270.5" cy="347.2" r="1.75"/><circle cx="272.9" cy="324.8" r="1.75"/><circle cx="275" cy="341.2" r="1.75"/><circle cx="277.7" cy="338" r="1.75"/><circle cx="280.1" cy="341.6" r="1.75"/></g><path d="M40.8 260.4C41.2 259.3 42.3 256.4 43.1 254.1C43.9 251.8 44.8 248.5 45.5 246.3C46.2 244.1 46.6 240 47.1 240.8C47.6 241.6 48.2 246.2 48.7 251C49.2 255.8 49.8 263.4 50.2 269.9C50.6 276.4 50.6 282.2 51 290C51.4 297.8 52.1 312.8 52.6 316.9C53.1 321 53.7 316.7 54.2 314.5C54.7 312.3 55.2 308 55.7 303.5C56.2 299 56.8 292.9 57.3 287.7C57.8 282.4 58.2 277.6 59 272C59.8 266.4 61.1 258.9 62 254.1C62.9 249.3 63.7 246 64.4 243.1C65.1 240.2 65.3 237.3 66 236.8C66.7 236.3 67.5 240.5 68.3 240C69.1 239.5 70 235.3 70.7 233.7C71.4 232.1 72 230.2 72.6 230.5C73.2 230.8 73.8 232.3 74.3 235.2C74.8 238.1 75.3 244.7 75.9 247.8C76.5 251 77.1 252.5 77.8 254.1C78.5 255.7 79.4 255.2 80.2 257.3C81 259.4 81.8 263.6 82.5 266.7C83.2 269.8 83.4 272.4 84.1 276C84.8 279.6 85.7 287.6 86.5 288.5C87.3 289.4 88.1 284.3 88.8 281.4C89.5 278.5 89.7 273.7 90.4 271C91.1 268.3 91.9 267 92.8 265.2C93.7 263.4 95.1 261.8 95.9 260.4C96.7 258.9 96.9 256.5 97.5 256.5C98.1 256.5 98.8 259.5 99.5 260.4C100.2 261.3 101.1 262.4 101.7 262C102.3 261.6 102.7 257.8 103.3 258.1C103.9 258.4 104.7 261.3 105.4 263.6C106.1 265.9 106.9 269.4 107.7 272C108.5 274.6 109.3 277.3 110.1 279.1C110.9 280.9 111.6 282.6 112.4 283C113.2 283.4 114 280.9 114.8 281.4C115.6 281.9 116.4 285 117.2 286.2C118 287.4 118.7 287.4 119.5 288.5C120.3 289.6 121.1 291.3 121.9 292.5C122.7 293.7 123.5 295.4 124.3 295.6C125.1 295.9 125.8 295.8 126.6 294C127.4 292.2 128.2 287.2 129 284.6C129.8 282 130.5 279.6 131.3 278.3C132.1 277 132.9 276.7 133.7 276.7C134.5 276.7 135.3 277.5 136.1 278.3C136.9 279.1 137.6 279.8 138.4 281.4C139.2 283 140 284.7 140.8 287.7C141.6 290.7 142.4 297 143.1 299.6C143.8 302.2 144 303.5 144.7 303.5C145.4 303.5 146.3 300.7 147.1 299.6C147.9 298.6 148.6 297.5 149.4 297.2C150.2 296.9 151 297.5 151.8 298C152.6 298.5 153.4 300.7 154.2 300.3C155 299.9 155.7 297.4 156.5 295.6C157.3 293.8 158.3 290.7 158.9 289.3C159.5 287.9 159.4 288.1 160 287.2C160.6 286.3 161.5 284.1 162.4 284C163.3 283.9 164.5 285.6 165.6 286.4C166.7 287.2 167.7 288.3 168.8 288.8C169.9 289.3 170.9 289.3 172 289.6C173.1 289.9 174.1 290.1 175.2 290.4C176.3 290.7 177.3 290.9 178.4 291.2C179.5 291.5 180.5 291.6 181.6 292C182.7 292.4 183.9 292.7 184.8 293.6C185.7 294.5 186.4 295.5 187.2 297.6C188 299.7 188.8 303.6 189.6 306.4C190.4 309.2 191.3 312.5 192 314.4C192.7 316.3 193 317.9 193.6 317.6C194.2 317.3 194.7 315.1 195.5 312.8C196.3 310.5 197.4 306.7 198.4 304C199.4 301.3 200.4 298.5 201.3 296.8C202.2 295.1 203 294.3 204 293.9C205 293.5 206.1 293.9 207.2 294.4C208.3 294.9 209.5 295.9 210.4 296.8C211.3 297.7 212 299.1 212.8 300C213.6 300.9 214.4 301.8 215.2 302.4C216 303 216.7 303.2 217.6 303.7C218.5 304.2 219.7 305 220.8 305.6C221.9 306.2 222.9 306.4 224 307.2C225.1 307.9 226.1 309.5 227.2 310.1C228.3 310.7 229.5 310.4 230.4 310.7C231.3 311 232 311.6 232.8 312C233.6 312.4 234.4 312.5 235.2 313.3C236 314.1 236.8 315.8 237.6 316.8C238.4 317.8 239.3 318.7 240.1 319.2C240.9 319.7 241.7 319.8 242.5 319.7C243.3 319.6 244.1 318.8 244.9 318.4C245.7 318 246.4 317.3 247.3 317.6C248.2 317.9 249.3 319.2 250.5 320C251.7 320.8 253.2 321.5 254.5 322.4C255.8 323.3 257.2 324.5 258.5 325.6C259.8 326.7 261.2 327.8 262.5 328.8C263.8 329.8 265.2 331 266.5 331.6C267.8 332.2 269.2 332.3 270.5 332.5C271.8 332.7 273.2 332.5 274.5 332.8C275.8 333.1 277.4 333.8 278.5 334.1C279.6 334.4 280.4 334.7 280.8 334.8" stroke="#f0bc00" stroke-width="1.8" fill="none" stroke-linejoin="round"/><path d="M40.8 270C41.1 269.6 41.8 267.8 42.4 267.5C43 267.2 44.1 267.3 44.7 268.3C45.4 269.3 45.6 273 46.3 273.6C47 274.2 48.1 270.7 48.7 272C49.4 273.3 49.6 277.5 50.2 281.4C50.9 285.3 51.8 291.7 52.6 295.6C53.4 299.5 54.4 303.6 55 305C55.6 306.4 56 305.9 56.5 304.3C57 302.7 57.6 299.4 58.1 295.6C58.6 291.8 59.3 287 59.7 281.4C60.1 275.8 60.1 271 60.5 262C60.9 253 61.4 235.1 62 227.4C62.6 219.7 63.2 216.7 63.9 215.6C64.6 214.5 65.3 217.3 66 221.1C66.7 224.9 67.3 232.4 68 238.4C68.7 244.4 69.3 252.3 69.9 257.3C70.5 262.3 70.8 267 71.5 268.3C72.2 269.6 73.1 266.8 73.9 265.2C74.7 263.6 75.4 260.1 76.2 258.9C77 257.7 77.8 258 78.6 258.1C79.4 258.2 80.1 258.8 80.9 259.7C81.7 260.6 82.5 261.4 83.3 263.6C84.1 265.8 85 270 85.7 273C86.4 276 86.6 278.1 87.2 281.4C87.8 284.6 88.9 290.4 89.6 292.5C90.3 294.6 90.7 295.3 91.2 294C91.7 292.7 92.4 288.1 92.8 284.6C93.2 281.1 93.2 277.8 93.5 273C93.8 268.2 93.8 260.8 94.3 255.7C94.8 250.6 96 245.2 96.7 242.3C97.4 239.4 97.7 237.9 98.3 238.4C98.9 238.9 99.8 243.1 100.6 245.5C101.4 247.9 102.2 249.8 103 252.6C103.8 255.3 104.6 258.1 105.4 262C106.2 265.9 107.2 271.7 107.7 276C108.2 280.3 108 283.9 108.5 287.7C109 291.5 110 295.8 110.9 298.8C111.8 301.8 113.1 305.8 114 305.9C114.9 306 115.6 302.6 116.4 299.6C117.2 296.6 118.1 289.4 118.7 287.7C119.3 286 119.6 288 120.3 289.3C121 290.6 121.9 294.4 122.7 295.6C123.5 296.8 124.2 296.9 125 296.4C125.8 295.9 126.6 294.7 127.4 292.5C128.2 290.3 129.2 285.6 129.8 283C130.5 280.4 130.7 278.4 131.3 276.7C132 274.9 133.2 273.4 133.7 272.5C134.2 271.6 133.6 272.7 134.5 271.5C135.4 270.3 137.7 265.8 138.9 265.5C140.1 265.2 140.9 267.7 141.6 270C142.3 272.3 142.4 276.4 143.1 279.1C143.8 281.8 144.6 284.6 145.5 286.2C146.4 287.8 147.6 288.1 148.7 288.5C149.8 288.9 150.9 288.1 151.8 288.5C152.7 288.9 153.4 290 154.2 290.9C155 291.8 155.7 293.1 156.5 294C157.3 294.9 158.1 295.1 158.9 296.4C159.8 297.7 160.8 300.2 161.6 301.6C162.4 303 163.2 304.5 164 304.8C164.8 305.1 165.6 304.7 166.4 303.2C167.2 301.7 168 299.1 168.8 296C169.6 292.9 170.4 287.7 171.2 284.8C172 281.9 172.9 279.6 173.6 278.4C174.3 277.2 175 277.1 175.5 277.6C176 278.1 176.2 279.3 176.8 281.6C177.4 283.9 178.3 288.8 179.2 291.2C180.1 293.6 181.3 294.9 182.4 296C183.5 297.1 184.5 297.4 185.6 297.9C186.7 298.4 187.9 298.2 188.8 299.2C189.7 300.2 190.4 302.1 191.2 304C192 305.9 192.9 309.1 193.6 310.4C194.3 311.7 194.8 312.8 195.5 312C196.2 311.2 196.8 307.9 197.6 305.6C198.3 303.3 199.2 300 200 298.4C200.8 296.8 201.6 295.8 202.4 295.7C203.2 295.6 204.2 296.5 205.1 297.6C206 298.7 206.8 300.5 207.6 302.4C208.4 304.3 209.3 308.3 210 308.8C210.7 309.3 211.3 306.4 212 305.6C212.7 304.8 213.6 304.4 214.4 304C215.2 303.6 216 303.5 216.8 303.2C217.6 302.9 218.4 302.3 219.2 302.4C220 302.5 220.8 303 221.6 303.7C222.4 304.4 223.2 305.3 224 306.4C224.8 307.5 225.6 308.9 226.4 310.4C227.2 311.9 228 314.8 228.8 315.5C229.6 316.2 230.3 315 231.2 314.4C232.1 313.8 233.3 312.6 234.4 312C235.5 311.4 236.5 310.9 237.6 310.9C238.7 310.9 239.8 311.3 240.9 312C242 312.7 243 314.4 244.1 315.2C245.2 316 246.2 316.4 247.3 316.8C248.4 317.2 249.3 317.1 250.5 317.6C251.7 318.1 253.2 319.1 254.5 320C255.8 320.9 257.2 322.3 258.5 323.2C259.8 324.1 261.2 324.9 262.5 325.6C263.8 326.3 265.2 326.7 266.5 327.2C267.8 327.7 269.2 327.9 270.5 328.4C271.8 328.9 273.2 329.9 274.5 330.4C275.8 330.9 277.4 331.2 278.5 331.2C279.6 331.2 280.4 330.7 280.8 330.6" stroke="#c20818" stroke-width="1.8" fill="none" stroke-linejoin="round"/></g><clipPath id="c11"><rect x="280.9" y="190.5" width="240.2" height="168"/></clipPath><g clip-path="url(#c11)"><path d="M281 222V258M282.4 205.3V243.1M283.5 180.7V219.3M284.4 188V229M285.8 201.3V238.7M287.1 211.9V252.3M288.7 221V246.4M289.4 229.3V261.7M291 269.2V309.4M292.6 289.8V325M293.4 294.9V334.1M295 266.9V293.1M296.2 254.1V285.9M297.3 249.5V277.7M298.5 238.6V271.4M299.7 261.7V294.9M299.9 253.1V277.3M301 236.3V263.7M302.8 217.2V245.4M304 220.9V259.1M305.2 215.9V251.5M307.1 184.4V210.4M308.3 210.3V246.1M309.9 198.9V224.3M311.5 222.1V254.7M313.4 196V221M314.6 214.8V237.8M316.2 234.6V270.6M318 232.1V257.9M320 249.1V274.9M320.5 261.5V298.5M322.5 241.5V276.3M324.9 265.5V291.1M326.5 267.6V302.4M328 252.5V280.9M329.6 252.6V282.4M331.5 263.5V286.5M333 263.8V296.2M333.5 255.5V284.5M335.9 254.8V286.6M338.3 226.5V256.5M340 250.9V273.1M341.8 256.7V279.3M343.3 245V264.8M345.4 245.8V265M347.4 305.6V323.4M349.3 255.2V275.2M351.7 280.2V303.2M354 288.3V304.5M356.4 273.8V297M358.7 287.5V306.9M361.1 300.3V319.3M363.5 285.2V309.2M365 290.1V310.5M367.1 312.9V331.3M368.8 295V315M370.6 283V305M372.9 295V310.4M375.4 269.8V293.8M377 292.7V307.3M378.4 277.7V299.3M380.5 288.9V311.1M382.4 302.7V316.9M383.9 308.3V329.5M386.3 290.2V307.4M388.3 309.5V328.3M391 303.3V316.9M393.1 289.6V303.2M395.4 305.6V320.2M396.9 294.4V315.6M398.4 302.5V317.1M400 300.8V320M401.9 283.8V304.4M404 308.9V329.5M406.4 300.3V315.7M408.3 301.9V317.3M410.9 288V304.6M413.1 304V322.6M415.5 307.5V320.5M417.9 305.3V323.5M420.5 300.9V319.3M422.4 301V319.8M424.8 300.3V312.5M427.2 297.9V317.1M429.6 308.2V320.6M431.7 319.3V333.5M433.9 318.7V334.9M436.5 327.2V345.6M438.7 316V329.8M440.8 321.8V340M443.2 321.2V336.4M445.6 316.5V329.9M448 311.7V325.1M450.4 307.4V319.8M452.8 319V330.6M455.2 331.6V343.6M457.3 322.4V338.4M459.6 326.1V344.3M462.1 329.2V341.2M464.4 321.6V332.8M466.9 326.3V344.1M469.2 329.1V343.7M471.2 327.6V341.2M473.6 338.6V351M476 331.8V346.6M478.4 333.4V349.8M480.9 333.2V346.8M482.9 330.9V344.3M485.3 326.6V337.4M488.1 331.6V348.4M490 327.5V338.1M492.5 326V339.6M494.8 318.8V334.8M497.3 335V346M499.3 329.7V344.9M501.7 335.4V352M504.1 324.4V338.8M506.5 327.5V342.9M508.9 328.8V339.4M510.8 328.8V341.6M513.4 341V351.8M515.3 333.5V348.9M517.7 334.1V345.9M520.1 332.8V345.6" stroke="#2e4ea4" stroke-width="1.1" fill="none"/><path d="M279.6 222h2.8M279.6 258h2.8M281 205.3h2.8M281 243.1h2.8M282.1 180.7h2.8M282.1 219.3h2.8M283 188h2.8M283 229h2.8M284.4 201.3h2.8M284.4 238.7h2.8M285.7 211.9h2.8M285.7 252.3h2.8M287.3 221h2.8M287.3 246.4h2.8M288 229.3h2.8M288 261.7h2.8M289.6 269.2h2.8M289.6 309.4h2.8M291.2 289.8h2.8M291.2 325h2.8M292 294.9h2.8M292 334.1h2.8M293.6 266.9h2.8M293.6 293.1h2.8M294.8 254.1h2.8M294.8 285.9h2.8M295.9 249.5h2.8M295.9 277.7h2.8M297.1 238.6h2.8M297.1 271.4h2.8M298.3 261.7h2.8M298.3 294.9h2.8M298.5 253.1h2.8M298.5 277.3h2.8M299.6 236.3h2.8M299.6 263.7h2.8M301.4 217.2h2.8M301.4 245.4h2.8M302.6 220.9h2.8M302.6 259.1h2.8M303.8 215.9h2.8M303.8 251.5h2.8M305.7 184.4h2.8M305.7 210.4h2.8M306.9 210.3h2.8M306.9 246.1h2.8M308.5 198.9h2.8M308.5 224.3h2.8M310.1 222.1h2.8M310.1 254.7h2.8M312 196h2.8M312 221h2.8M313.2 214.8h2.8M313.2 237.8h2.8M314.8 234.6h2.8M314.8 270.6h2.8M316.6 232.1h2.8M316.6 257.9h2.8M318.6 249.1h2.8M318.6 274.9h2.8M319.1 261.5h2.8M319.1 298.5h2.8M321.1 241.5h2.8M321.1 276.3h2.8M323.5 265.5h2.8M323.5 291.1h2.8M325.1 267.6h2.8M325.1 302.4h2.8M326.6 252.5h2.8M326.6 280.9h2.8M328.2 252.6h2.8M328.2 282.4h2.8M330.1 263.5h2.8M330.1 286.5h2.8M331.6 263.8h2.8M331.6 296.2h2.8M332.1 255.5h2.8M332.1 284.5h2.8M334.5 254.8h2.8M334.5 286.6h2.8M336.9 226.5h2.8M336.9 256.5h2.8M338.6 250.9h2.8M338.6 273.1h2.8M340.4 256.7h2.8M340.4 279.3h2.8M341.9 245h2.8M341.9 264.8h2.8M344 245.8h2.8M344 265h2.8M346 305.6h2.8M346 323.4h2.8M347.9 255.2h2.8M347.9 275.2h2.8M350.3 280.2h2.8M350.3 303.2h2.8M352.6 288.3h2.8M352.6 304.5h2.8M355 273.8h2.8M355 297h2.8M357.3 287.5h2.8M357.3 306.9h2.8M359.7 300.3h2.8M359.7 319.3h2.8M362.1 285.2h2.8M362.1 309.2h2.8M363.6 290.1h2.8M363.6 310.5h2.8M365.7 312.9h2.8M365.7 331.3h2.8M367.4 295h2.8M367.4 315h2.8M369.2 283h2.8M369.2 305h2.8M371.5 295h2.8M371.5 310.4h2.8M374 269.8h2.8M374 293.8h2.8M375.6 292.7h2.8M375.6 307.3h2.8M377 277.7h2.8M377 299.3h2.8M379.1 288.9h2.8M379.1 311.1h2.8M381 302.7h2.8M381 316.9h2.8M382.5 308.3h2.8M382.5 329.5h2.8M384.9 290.2h2.8M384.9 307.4h2.8M386.9 309.5h2.8M386.9 328.3h2.8M389.6 303.3h2.8M389.6 316.9h2.8M391.7 289.6h2.8M391.7 303.2h2.8M394 305.6h2.8M394 320.2h2.8M395.5 294.4h2.8M395.5 315.6h2.8M397 302.5h2.8M397 317.1h2.8M398.6 300.8h2.8M398.6 320h2.8M400.5 283.8h2.8M400.5 304.4h2.8M402.6 308.9h2.8M402.6 329.5h2.8M405 300.3h2.8M405 315.7h2.8M406.9 301.9h2.8M406.9 317.3h2.8M409.5 288h2.8M409.5 304.6h2.8M411.7 304h2.8M411.7 322.6h2.8M414.1 307.5h2.8M414.1 320.5h2.8M416.5 305.3h2.8M416.5 323.5h2.8M419.1 300.9h2.8M419.1 319.3h2.8M421 301h2.8M421 319.8h2.8M423.4 300.3h2.8M423.4 312.5h2.8M425.8 297.9h2.8M425.8 317.1h2.8M428.2 308.2h2.8M428.2 320.6h2.8M430.3 319.3h2.8M430.3 333.5h2.8M432.5 318.7h2.8M432.5 334.9h2.8M435.1 327.2h2.8M435.1 345.6h2.8M437.3 316h2.8M437.3 329.8h2.8M439.4 321.8h2.8M439.4 340h2.8M441.8 321.2h2.8M441.8 336.4h2.8M444.2 316.5h2.8M444.2 329.9h2.8M446.6 311.7h2.8M446.6 325.1h2.8M449 307.4h2.8M449 319.8h2.8M451.4 319h2.8M451.4 330.6h2.8M453.8 331.6h2.8M453.8 343.6h2.8M455.9 322.4h2.8M455.9 338.4h2.8M458.2 326.1h2.8M458.2 344.3h2.8M460.7 329.2h2.8M460.7 341.2h2.8M463 321.6h2.8M463 332.8h2.8M465.5 326.3h2.8M465.5 344.1h2.8M467.8 329.1h2.8M467.8 343.7h2.8M469.8 327.6h2.8M469.8 341.2h2.8M472.2 338.6h2.8M472.2 351h2.8M474.6 331.8h2.8M474.6 346.6h2.8M477 333.4h2.8M477 349.8h2.8M479.5 333.2h2.8M479.5 346.8h2.8M481.5 330.9h2.8M481.5 344.3h2.8M483.9 326.6h2.8M483.9 337.4h2.8M486.7 331.6h2.8M486.7 348.4h2.8M488.6 327.5h2.8M488.6 338.1h2.8M491.1 326h2.8M491.1 339.6h2.8M493.4 318.8h2.8M493.4 334.8h2.8M495.9 335h2.8M495.9 346h2.8M497.9 329.7h2.8M497.9 344.9h2.8M500.3 335.4h2.8M500.3 352h2.8M502.7 324.4h2.8M502.7 338.8h2.8M505.1 327.5h2.8M505.1 342.9h2.8M507.5 328.8h2.8M507.5 339.4h2.8M509.4 328.8h2.8M509.4 341.6h2.8M512 341h2.8M512 351.8h2.8M513.9 333.5h2.8M513.9 348.9h2.8M516.3 334.1h2.8M516.3 345.9h2.8M518.7 332.8h2.8M518.7 345.6h2.8" stroke="#1f3d98" stroke-width="1.2" fill="none"/><g fill="#183692"><circle cx="281" cy="240" r="1.75"/><circle cx="282.4" cy="224.2" r="1.75"/><circle cx="283.5" cy="200" r="1.75"/><circle cx="284.4" cy="208.5" r="1.75"/><circle cx="285.8" cy="220" r="1.75"/><circle cx="287.1" cy="232.1" r="1.75"/><circle cx="288.7" cy="233.7" r="1.75"/><circle cx="289.4" cy="245.5" r="1.75"/><circle cx="291" cy="289.3" r="1.75"/><circle cx="292.6" cy="307.4" r="1.75"/><circle cx="293.4" cy="314.5" r="1.75"/><circle cx="295" cy="280" r="1.75"/><circle cx="296.2" cy="270" r="1.75"/><circle cx="297.3" cy="263.6" r="1.75"/><circle cx="298.5" cy="255" r="1.75"/><circle cx="299.7" cy="278.3" r="1.75"/><circle cx="299.9" cy="265.2" r="1.75"/><circle cx="301" cy="250" r="1.75"/><circle cx="302.8" cy="231.3" r="1.75"/><circle cx="304" cy="240" r="1.75"/><circle cx="305.2" cy="233.7" r="1.75"/><circle cx="307.1" cy="197.4" r="1.75"/><circle cx="308.3" cy="228.2" r="1.75"/><circle cx="309.9" cy="211.6" r="1.75"/><circle cx="311.5" cy="238.4" r="1.75"/><circle cx="313.4" cy="208.5" r="1.75"/><circle cx="314.6" cy="226.3" r="1.75"/><circle cx="316.2" cy="252.6" r="1.75"/><circle cx="318" cy="245" r="1.75"/><circle cx="320" cy="262" r="1.75"/><circle cx="320.5" cy="280" r="1.75"/><circle cx="322.5" cy="258.9" r="1.75"/><circle cx="324.9" cy="278.3" r="1.75"/><circle cx="326.5" cy="285" r="1.75"/><circle cx="328" cy="266.7" r="1.75"/><circle cx="329.6" cy="267.5" r="1.75"/><circle cx="331.5" cy="275" r="1.75"/><circle cx="333" cy="280" r="1.75"/><circle cx="333.5" cy="270" r="1.75"/><circle cx="335.9" cy="270.7" r="1.75"/><circle cx="338.3" cy="241.5" r="1.75"/><circle cx="340" cy="262" r="1.75"/><circle cx="341.8" cy="268" r="1.75"/><circle cx="343.3" cy="254.9" r="1.75"/><circle cx="345.4" cy="255.4" r="1.75"/><circle cx="347.4" cy="314.5" r="1.75"/><circle cx="349.3" cy="265.2" r="1.75"/><circle cx="351.7" cy="291.7" r="1.75"/><circle cx="354" cy="296.4" r="1.75"/><circle cx="356.4" cy="285.4" r="1.75"/><circle cx="358.7" cy="297.2" r="1.75"/><circle cx="361.1" cy="309.8" r="1.75"/><circle cx="363.5" cy="297.2" r="1.75"/><circle cx="365" cy="300.3" r="1.75"/><circle cx="367.1" cy="322.1" r="1.75"/><circle cx="368.8" cy="305" r="1.75"/><circle cx="370.6" cy="294" r="1.75"/><circle cx="372.9" cy="302.7" r="1.75"/><circle cx="375.4" cy="281.8" r="1.75"/><circle cx="377" cy="300" r="1.75"/><circle cx="378.4" cy="288.5" r="1.75"/><circle cx="380.5" cy="300" r="1.75"/><circle cx="382.4" cy="309.8" r="1.75"/><circle cx="383.9" cy="318.9" r="1.75"/><circle cx="386.3" cy="298.8" r="1.75"/><circle cx="388.3" cy="318.9" r="1.75"/><circle cx="391" cy="310.1" r="1.75"/><circle cx="393.1" cy="296.4" r="1.75"/><circle cx="395.4" cy="312.9" r="1.75"/><circle cx="396.9" cy="305" r="1.75"/><circle cx="398.4" cy="309.8" r="1.75"/><circle cx="400" cy="310.4" r="1.75"/><circle cx="401.9" cy="294.1" r="1.75"/><circle cx="404" cy="319.2" r="1.75"/><circle cx="406.4" cy="308" r="1.75"/><circle cx="408.3" cy="309.6" r="1.75"/><circle cx="410.9" cy="296.3" r="1.75"/><circle cx="413.1" cy="313.3" r="1.75"/><circle cx="415.5" cy="314" r="1.75"/><circle cx="417.9" cy="314.4" r="1.75"/><circle cx="420.5" cy="310.1" r="1.75"/><circle cx="422.4" cy="310.4" r="1.75"/><circle cx="424.8" cy="306.4" r="1.75"/><circle cx="427.2" cy="307.5" r="1.75"/><circle cx="429.6" cy="314.4" r="1.75"/><circle cx="431.7" cy="326.4" r="1.75"/><circle cx="433.9" cy="326.8" r="1.75"/><circle cx="436.5" cy="336.4" r="1.75"/><circle cx="438.7" cy="322.9" r="1.75"/><circle cx="440.8" cy="330.9" r="1.75"/><circle cx="443.2" cy="328.8" r="1.75"/><circle cx="445.6" cy="323.2" r="1.75"/><circle cx="448" cy="318.4" r="1.75"/><circle cx="450.4" cy="313.6" r="1.75"/><circle cx="452.8" cy="324.8" r="1.75"/><circle cx="455.2" cy="337.6" r="1.75"/><circle cx="457.3" cy="330.4" r="1.75"/><circle cx="459.6" cy="335.2" r="1.75"/><circle cx="462.1" cy="335.2" r="1.75"/><circle cx="464.4" cy="327.2" r="1.75"/><circle cx="466.9" cy="335.2" r="1.75"/><circle cx="469.2" cy="336.4" r="1.75"/><circle cx="471.2" cy="334.4" r="1.75"/><circle cx="473.6" cy="344.8" r="1.75"/><circle cx="476" cy="339.2" r="1.75"/><circle cx="478.4" cy="341.6" r="1.75"/><circle cx="480.9" cy="340" r="1.75"/><circle cx="482.9" cy="337.6" r="1.75"/><circle cx="485.3" cy="332" r="1.75"/><circle cx="488.1" cy="340" r="1.75"/><circle cx="490" cy="332.8" r="1.75"/><circle cx="492.5" cy="332.8" r="1.75"/><circle cx="494.8" cy="326.8" r="1.75"/><circle cx="497.3" cy="340.5" r="1.75"/><circle cx="499.3" cy="337.3" r="1.75"/><circle cx="501.7" cy="343.7" r="1.75"/><circle cx="504.1" cy="331.6" r="1.75"/><circle cx="506.5" cy="335.2" r="1.75"/><circle cx="508.9" cy="334.1" r="1.75"/><circle cx="510.8" cy="335.2" r="1.75"/><circle cx="513.4" cy="346.4" r="1.75"/><circle cx="515.3" cy="341.2" r="1.75"/><circle cx="517.7" cy="340" r="1.75"/><circle cx="520.1" cy="339.2" r="1.75"/></g><path d="M280.8 263.4C281.1 263.2 281.9 263 282.4 262C282.9 261 283.4 259 283.9 257.3C284.4 255.6 285 251.8 285.5 251.8C286 251.8 286.6 254.3 287.1 257.3C287.6 260.3 288.2 264.3 288.7 269.9C289.2 275.5 289.8 284.5 290.2 290.9C290.6 297.3 290.9 304 291.3 308.2C291.7 312.4 292.1 315.3 292.6 316.1C293.1 316.9 293.7 316 294.2 312.9C294.7 309.8 295.2 302.4 295.7 297.2C296.2 291.9 296.8 285.6 297.3 281.4C297.9 277.2 298.5 273.9 299 272C299.5 270.1 299.9 272.6 300.5 269.9C301.1 267.2 302 259.6 302.8 255.7C303.6 251.8 304.4 249 305.2 246.3C306 243.6 306.9 240.5 307.6 239.7C308.3 238.9 309 240.4 309.6 241.5C310.2 242.6 310.8 246.6 311.5 246.3C312.2 246.1 313.2 240.5 313.9 240C314.6 239.5 315.2 241.3 315.9 243.1C316.5 244.9 317.1 248.4 317.8 251C318.5 253.6 319.6 256 320.2 258.9C320.8 261.8 321.3 264.8 321.7 268.3C322.1 271.8 321.8 276.1 322.5 279.9C323.2 283.7 324.8 289.7 325.7 290.9C326.6 292.1 327.2 288.8 328 287C328.8 285.2 329.7 283.3 330.4 279.9C331.1 276.5 331.7 268 332.3 266.7C332.9 265.4 333.3 271.2 333.8 272C334.3 272.8 334.9 271.9 335.5 271.5C336.1 271.1 336.8 270.4 337.5 269.9C338.2 269.4 338.7 268.3 339.5 268.3C340.3 268.3 341.3 269.3 342.2 269.9C343.1 270.5 344 270.9 344.6 272C345.2 273.1 345.5 274.6 346.1 276.7C346.8 278.8 347.7 282.8 348.5 284.6C349.3 286.4 350.1 287.4 350.9 287.7C351.7 288 352.4 286.6 353.2 286.2C354 285.8 354.8 284.9 355.6 285.4C356.4 285.9 357.2 287.2 358 289.3C358.8 291.4 359.5 295.9 360.3 298C361.1 300.1 361.9 301.1 362.7 301.9C363.5 302.7 364.2 303.2 365 302.7C365.8 302.2 366.6 300.2 367.4 298.8C368.2 297.4 369 294.8 369.8 294C370.6 293.2 371.3 294.6 372.1 294C372.9 293.4 373.6 291 374.5 290.1C375.4 289.2 376.6 288.6 377.6 288.5C378.7 288.4 379.9 288.4 380.8 289.3C381.7 290.2 382.3 292.3 383.1 294C383.9 295.7 384.6 298.8 385.5 299.6C386.4 300.4 387.6 298.8 388.7 298.8C389.8 298.8 390.8 299 391.8 299.6C392.9 300.2 394.1 302.6 395 302.7C395.9 302.8 396.5 300.9 397.3 300.3C398.1 299.7 399 299.2 400 299C401 298.8 402.1 299.3 403.2 299.2C404.3 299.1 405.3 298.7 406.4 298.4C407.5 298.1 408.5 297.5 409.6 297.6C410.7 297.7 411.7 298.5 412.8 299.2C413.9 299.9 414.9 301.7 416 301.6C417.1 301.5 418.1 298.5 419.2 298.4C420.3 298.3 421.3 300 422.4 300.8C423.5 301.6 424.5 302.4 425.6 303.2C426.7 304 427.9 304.4 428.8 305.6C429.7 306.8 430.4 308.4 431.2 310.4C432 312.4 432.8 316 433.6 317.6C434.4 319.2 435.2 320.1 436 320C436.8 319.9 437.5 318.2 438.4 316.8C439.3 315.4 440.4 312.9 441.3 311.7C442.2 310.5 443 309.6 444 309.6C445 309.7 446.1 311.3 447.2 312C448.3 312.7 449.3 313.2 450.4 314C451.5 314.8 452.4 315.7 453.6 316.5C454.8 317.3 456.1 318 457.6 318.7C459.1 319.4 460.8 320.1 462.4 320.8C464 321.5 465.3 322.2 467.2 322.9C469.1 323.6 471.5 324.2 473.6 324.8C475.7 325.4 477.9 325.9 480 326.4C482.1 326.9 484.4 327.3 486.5 327.7C488.6 328.1 490.8 328.5 492.9 328.8C495 329.1 497.2 329.4 499.3 329.6C501.4 329.8 503.6 329.8 505.7 330C507.8 330.2 509.6 330.6 512.1 330.9C514.6 331.2 519.3 331.6 520.8 331.8" stroke="#f0bc00" stroke-width="1.8" fill="none" stroke-linejoin="round"/><path d="M280.8 287C281.2 286.6 282.1 285.7 283.1 284.6C284.2 283.6 285.8 281.8 287.1 280.7C288.4 279.6 289.8 279 291 278.3C292.2 277.6 293.1 277.1 294.2 276.7C295.2 276.3 296.5 276.3 297.3 276C298.1 275.7 298.4 275.1 298.9 275.1C299.4 275.1 300.1 276.5 300.5 275.9C300.9 275.3 300.7 272.8 301.3 271.5C301.9 270.2 303.5 269.4 304.4 268.3C305.3 267.2 306 265.6 306.8 265.2C307.6 264.8 308.5 266.5 309.1 266C309.8 265.5 310 263.4 310.7 262C311.4 260.6 312.4 257 313.1 257.3C313.8 257.6 314.4 261.2 315 263.6C315.6 266 316.3 270.7 317 271.5C317.7 272.3 318.5 268.1 319.1 268.3C319.7 268.6 320.2 271.3 320.6 273C321 274.7 321.1 276.4 321.7 278.3C322.3 280.2 323.3 282.5 324.1 284.6C324.9 286.7 325.7 290.2 326.5 290.9C327.3 291.5 328 289.4 328.8 288.5C329.6 287.6 330.4 285.6 331.2 285.4C332 285.1 332.7 287.7 333.5 287C334.3 286.3 335.3 283.6 335.9 281.4C336.5 279.2 336.6 275.8 337 274C337.4 272.2 337.7 271.2 338.3 270.7C338.9 270.2 339.8 270.5 340.6 271.1C341.4 271.7 342.3 273.2 343 274.4C343.7 275.6 344.1 276.7 344.6 278.3C345.1 279.9 345.5 282 346.1 283.8C346.8 285.6 347.7 287.6 348.5 289.3C349.3 291 350.1 292.6 350.9 294C351.7 295.4 352.4 296.8 353.2 298C354 299.2 354.7 300.1 355.6 301.1C356.5 302.2 357.6 303.5 358.7 304.3C359.8 305.1 360.8 305.6 361.9 305.9C362.9 306.2 363.9 306.4 365 305.9C366.1 305.4 367.1 303.9 368.2 302.7C369.2 301.5 370.2 299.7 371.3 298.8C372.4 297.9 373.4 297.6 374.5 297.2C375.6 296.8 376.6 296.3 377.6 296.4C378.7 296.5 379.8 297.4 380.8 298C381.9 298.6 382.8 300 383.9 300.3C384.9 300.6 386.1 299.9 387.1 300C388.2 300.1 389.1 300.5 390.2 301.1C391.2 301.7 392.3 303 393.4 303.5C394.4 304 395.4 304.1 396.5 304.3C397.6 304.5 398.9 304.7 400 304.9C401.1 305.1 402 305.8 403.2 305.6C404.4 305.5 406 304.4 407.2 304C408.4 303.6 409.3 303.1 410.4 303.2C411.5 303.3 412.5 304.3 413.6 304.8C414.7 305.3 415.7 306.1 416.8 306.4C417.9 306.7 418.9 306.1 420 306.4C421.1 306.7 422.1 307.3 423.2 308C424.3 308.7 425.3 309.3 426.4 310.4C427.5 311.5 428.7 313.2 429.6 314.4C430.5 315.6 431.2 317.1 432 317.6C432.8 318.1 433.6 318 434.4 317.6C435.2 317.2 435.9 315.8 436.8 315.2C437.7 314.6 438.8 314 439.7 314C440.6 314 441.5 314.6 442.4 315.2C443.3 315.8 444.2 317.2 445.1 317.6C446 318 447 317.6 448 317.6C449 317.6 450.1 317.5 451.2 317.6C452.3 317.7 453.3 318 454.4 318.4C455.5 318.8 456.5 319.5 457.6 320C458.7 320.5 459.5 320.9 460.8 321.6C462.1 322.3 464 323.3 465.6 324C467.2 324.7 468.8 325.1 470.4 325.6C472 326.1 473.6 326.7 475.2 327.2C476.8 327.7 478.4 328.1 480 328.4C481.6 328.7 483.3 328.6 484.9 328.8C486.5 329 487.8 329.2 489.7 329.6C491.6 330 494 330.5 496.1 330.9C498.2 331.3 500.4 331.7 502.5 332C504.6 332.3 506.8 332.6 508.9 332.8C511 333 513.3 333.1 515.3 333.2C517.3 333.3 519.9 333.5 520.8 333.6" stroke="#c20818" stroke-width="1.8" fill="none" stroke-linejoin="round"/></g><clipPath id="c12"><rect x="521.1" y="190.5" width="240.2" height="168"/></clipPath><g clip-path="url(#c12)"><path d="M519.8 271.4V328.6M521 291.1V348.9M522.2 284.2V333.4M523 274.2V317.8M523.5 266.5V303.5M524.6 274.9V328.3M525.8 260.8V309.2M527 327.6V383M528.5 307.1V352.9M530.2 286.8V342M531.8 268.6V311.4M533.9 214.3V269.7M535 304.4V358M536.6 290.5V336.1M538.2 295.8V344.2M539.4 279.2V330.8M540.6 279.3V319.1M542 290.9V339.1M543.5 303.1V356.9M545 299.5V340.5M547 311.9V364.9M547.8 321.3V371.5M549.4 235.6V289.2M549.4 261.4V303.4M551 244.3V280.5M551.8 256.3V308.5M553 294V346M554.2 239V282.6M555.8 312.2V347.8M557.4 302V339.6M559 318.8V366M560.5 300.3V339.7M561.9 278.7V332.5M563.8 305.2V350.8M565.4 269.8V306.8M567 269.1V315.9M569 314.7V354.9M570.6 280.7V333.1M572.2 270.9V322.7M574.2 300V343.2M575.8 263.2V309M577.8 313.9V360.7M579.5 290.5V339.5M581.1 267.9V320.3M583.4 282.8V315M585.3 300.5V339.5M587 280.1V324.1M588.6 288.7V326.3M590.7 259.3V302.7M592.6 303.5V336.5M594.6 278.7V327.7M596 299.2V340.8M597.1 325V358.2M598.7 304.3V348.5M600.7 306.3V343.3M602.6 271.1V305.5M604.8 321.6V361.6M606.7 289.1V322.1M608.7 302.9V337.1M610.7 249.8V296.8M612.7 280.6V323.6M614 275.4V304.6M615.1 247.9V291.5M617 300.7V329.3M619.9 292.3V325.9M621.8 298.3V341.7M624.3 310.1V347.5M625.9 317.5V348.9M628.2 307.7V339.5M630.3 314.7V346.1M632.7 284.7V311.1M634 300V340M635.9 308.6V333M637.8 315.2V344.8M639.1 275V309M641.6 306.6V335M643.5 309.4V346.6M645.6 322.2V348.2M648 298.3V335.3M650.4 316.6V352.2M652.5 295V327.4M654.9 316.6V352.2M656.8 309.5V338.5M659.2 285.1V319.7M661.6 285.4V319.4M664 295.2V325M665.6 300.6V329.8M668.5 316.5V349.1M670.5 310.9V339.1M672.8 303.5V326.9M675.2 322.7V355.7M677.6 303.5V329.5M679.7 311.8V341M681.9 320.9V354.3M684.5 314.2V338.6M686.8 307.3V329.5M689.6 314.6V338.2M690.9 310.4V340.8M693.6 323.8V350.8M695.7 330.4V356M698 312.2V340.6M700.5 284V319.2M702.4 291.6V317M704.8 327.8V355.4M706.9 325.2V359.6M709.2 320V350.4M711.7 302.2V327.6M714 300.7V329.1M716 311.4V339.8M718.4 313.8V337.4M720.5 316.5V343.5M722.9 306.8V332.6M725.7 325.9V358.9M727.7 324.3V350.3M730 314.2V345M732.1 324V359.2M734.5 329.2V363.6M736.9 300.7V327.3M738.9 291.1V320.9M740.9 323.1V348.9M743.3 320.2V347M745.3 332.3V360.5M747.6 328.6V361M749.7 282.8V317.2M751.8 305.8V331M754 328.6V349.8M756.9 336.7V364.1M759.3 339.5V361.3M760.4 328.5V349.9" stroke="#2e4ea4" stroke-width="1.1" fill="none"/><path d="M518.4 271.4h2.8M518.4 328.6h2.8M519.6 291.1h2.8M519.6 348.9h2.8M520.8 284.2h2.8M520.8 333.4h2.8M521.6 274.2h2.8M521.6 317.8h2.8M522.1 266.5h2.8M522.1 303.5h2.8M523.2 274.9h2.8M523.2 328.3h2.8M524.4 260.8h2.8M524.4 309.2h2.8M525.6 327.6h2.8M525.6 383h2.8M527.1 307.1h2.8M527.1 352.9h2.8M528.8 286.8h2.8M528.8 342h2.8M530.4 268.6h2.8M530.4 311.4h2.8M532.5 214.3h2.8M532.5 269.7h2.8M533.6 304.4h2.8M533.6 358h2.8M535.2 290.5h2.8M535.2 336.1h2.8M536.8 295.8h2.8M536.8 344.2h2.8M538 279.2h2.8M538 330.8h2.8M539.2 279.3h2.8M539.2 319.1h2.8M540.6 290.9h2.8M540.6 339.1h2.8M542.1 303.1h2.8M542.1 356.9h2.8M543.6 299.5h2.8M543.6 340.5h2.8M545.6 311.9h2.8M545.6 364.9h2.8M546.4 321.3h2.8M546.4 371.5h2.8M548 235.6h2.8M548 289.2h2.8M548 261.4h2.8M548 303.4h2.8M549.6 244.3h2.8M549.6 280.5h2.8M550.4 256.3h2.8M550.4 308.5h2.8M551.6 294h2.8M551.6 346h2.8M552.8 239h2.8M552.8 282.6h2.8M554.4 312.2h2.8M554.4 347.8h2.8M556 302h2.8M556 339.6h2.8M557.6 318.8h2.8M557.6 366h2.8M559.1 300.3h2.8M559.1 339.7h2.8M560.5 278.7h2.8M560.5 332.5h2.8M562.4 305.2h2.8M562.4 350.8h2.8M564 269.8h2.8M564 306.8h2.8M565.6 269.1h2.8M565.6 315.9h2.8M567.6 314.7h2.8M567.6 354.9h2.8M569.2 280.7h2.8M569.2 333.1h2.8M570.8 270.9h2.8M570.8 322.7h2.8M572.8 300h2.8M572.8 343.2h2.8M574.4 263.2h2.8M574.4 309h2.8M576.4 313.9h2.8M576.4 360.7h2.8M578.1 290.5h2.8M578.1 339.5h2.8M579.7 267.9h2.8M579.7 320.3h2.8M582 282.8h2.8M582 315h2.8M583.9 300.5h2.8M583.9 339.5h2.8M585.6 280.1h2.8M585.6 324.1h2.8M587.2 288.7h2.8M587.2 326.3h2.8M589.3 259.3h2.8M589.3 302.7h2.8M591.2 303.5h2.8M591.2 336.5h2.8M593.2 278.7h2.8M593.2 327.7h2.8M594.6 299.2h2.8M594.6 340.8h2.8M595.7 325h2.8M595.7 358.2h2.8M597.3 304.3h2.8M597.3 348.5h2.8M599.3 306.3h2.8M599.3 343.3h2.8M601.2 271.1h2.8M601.2 305.5h2.8M603.4 321.6h2.8M603.4 361.6h2.8M605.3 289.1h2.8M605.3 322.1h2.8M607.3 302.9h2.8M607.3 337.1h2.8M609.3 249.8h2.8M609.3 296.8h2.8M611.3 280.6h2.8M611.3 323.6h2.8M612.6 275.4h2.8M612.6 304.6h2.8M613.7 247.9h2.8M613.7 291.5h2.8M615.6 300.7h2.8M615.6 329.3h2.8M618.5 292.3h2.8M618.5 325.9h2.8M620.4 298.3h2.8M620.4 341.7h2.8M622.9 310.1h2.8M622.9 347.5h2.8M624.5 317.5h2.8M624.5 348.9h2.8M626.8 307.7h2.8M626.8 339.5h2.8M628.9 314.7h2.8M628.9 346.1h2.8M631.3 284.7h2.8M631.3 311.1h2.8M632.6 300h2.8M632.6 340h2.8M634.5 308.6h2.8M634.5 333h2.8M636.4 315.2h2.8M636.4 344.8h2.8M637.7 275h2.8M637.7 309h2.8M640.2 306.6h2.8M640.2 335h2.8M642.1 309.4h2.8M642.1 346.6h2.8M644.2 322.2h2.8M644.2 348.2h2.8M646.6 298.3h2.8M646.6 335.3h2.8M649 316.6h2.8M649 352.2h2.8M651.1 295h2.8M651.1 327.4h2.8M653.5 316.6h2.8M653.5 352.2h2.8M655.4 309.5h2.8M655.4 338.5h2.8M657.8 285.1h2.8M657.8 319.7h2.8M660.2 285.4h2.8M660.2 319.4h2.8M662.6 295.2h2.8M662.6 325h2.8M664.2 300.6h2.8M664.2 329.8h2.8M667.1 316.5h2.8M667.1 349.1h2.8M669.1 310.9h2.8M669.1 339.1h2.8M671.4 303.5h2.8M671.4 326.9h2.8M673.8 322.7h2.8M673.8 355.7h2.8M676.2 303.5h2.8M676.2 329.5h2.8M678.3 311.8h2.8M678.3 341h2.8M680.5 320.9h2.8M680.5 354.3h2.8M683.1 314.2h2.8M683.1 338.6h2.8M685.4 307.3h2.8M685.4 329.5h2.8M688.2 314.6h2.8M688.2 338.2h2.8M689.5 310.4h2.8M689.5 340.8h2.8M692.2 323.8h2.8M692.2 350.8h2.8M694.3 330.4h2.8M694.3 356h2.8M696.6 312.2h2.8M696.6 340.6h2.8M699.1 284h2.8M699.1 319.2h2.8M701 291.6h2.8M701 317h2.8M703.4 327.8h2.8M703.4 355.4h2.8M705.5 325.2h2.8M705.5 359.6h2.8M707.8 320h2.8M707.8 350.4h2.8M710.3 302.2h2.8M710.3 327.6h2.8M712.6 300.7h2.8M712.6 329.1h2.8M714.6 311.4h2.8M714.6 339.8h2.8M717 313.8h2.8M717 337.4h2.8M719.1 316.5h2.8M719.1 343.5h2.8M721.5 306.8h2.8M721.5 332.6h2.8M724.3 325.9h2.8M724.3 358.9h2.8M726.3 324.3h2.8M726.3 350.3h2.8M728.6 314.2h2.8M728.6 345h2.8M730.7 324h2.8M730.7 359.2h2.8M733.1 329.2h2.8M733.1 363.6h2.8M735.5 300.7h2.8M735.5 327.3h2.8M737.5 291.1h2.8M737.5 320.9h2.8M739.5 323.1h2.8M739.5 348.9h2.8M741.9 320.2h2.8M741.9 347h2.8M743.9 332.3h2.8M743.9 360.5h2.8M746.2 328.6h2.8M746.2 361h2.8M748.3 282.8h2.8M748.3 317.2h2.8M750.4 305.8h2.8M750.4 331h2.8M752.6 328.6h2.8M752.6 349.8h2.8M755.5 336.7h2.8M755.5 364.1h2.8M757.9 339.5h2.8M757.9 361.3h2.8M759 328.5h2.8M759 349.9h2.8" stroke="#1f3d98" stroke-width="1.2" fill="none"/><g fill="#183692"><circle cx="519.8" cy="300" r="1.75"/><circle cx="521" cy="320" r="1.75"/><circle cx="522.2" cy="308.8" r="1.75"/><circle cx="523" cy="296" r="1.75"/><circle cx="523.5" cy="285" r="1.75"/><circle cx="524.6" cy="301.6" r="1.75"/><circle cx="525.8" cy="285" r="1.75"/><circle cx="527" cy="355.3" r="1.75"/><circle cx="528.5" cy="330" r="1.75"/><circle cx="530.2" cy="314.4" r="1.75"/><circle cx="531.8" cy="290" r="1.75"/><circle cx="533.9" cy="242" r="1.75"/><circle cx="535" cy="331.2" r="1.75"/><circle cx="536.6" cy="313.3" r="1.75"/><circle cx="538.2" cy="320" r="1.75"/><circle cx="539.4" cy="305" r="1.75"/><circle cx="540.6" cy="299.2" r="1.75"/><circle cx="542" cy="315" r="1.75"/><circle cx="543.5" cy="330" r="1.75"/><circle cx="545" cy="320" r="1.75"/><circle cx="547" cy="338.4" r="1.75"/><circle cx="547.8" cy="346.4" r="1.75"/><circle cx="549.4" cy="262.4" r="1.75"/><circle cx="549.4" cy="282.4" r="1.75"/><circle cx="551" cy="262.4" r="1.75"/><circle cx="551.8" cy="282.4" r="1.75"/><circle cx="553" cy="320" r="1.75"/><circle cx="554.2" cy="260.8" r="1.75"/><circle cx="555.8" cy="330" r="1.75"/><circle cx="557.4" cy="320.8" r="1.75"/><circle cx="559" cy="342.4" r="1.75"/><circle cx="560.5" cy="320" r="1.75"/><circle cx="561.9" cy="305.6" r="1.75"/><circle cx="563.8" cy="328" r="1.75"/><circle cx="565.4" cy="288.3" r="1.75"/><circle cx="567" cy="292.5" r="1.75"/><circle cx="569" cy="334.8" r="1.75"/><circle cx="570.6" cy="306.9" r="1.75"/><circle cx="572.2" cy="296.8" r="1.75"/><circle cx="574.2" cy="321.6" r="1.75"/><circle cx="575.8" cy="286.1" r="1.75"/><circle cx="577.8" cy="337.3" r="1.75"/><circle cx="579.5" cy="315" r="1.75"/><circle cx="581.1" cy="294.1" r="1.75"/><circle cx="583.4" cy="298.9" r="1.75"/><circle cx="585.3" cy="320" r="1.75"/><circle cx="587" cy="302.1" r="1.75"/><circle cx="588.6" cy="307.5" r="1.75"/><circle cx="590.7" cy="281" r="1.75"/><circle cx="592.6" cy="320" r="1.75"/><circle cx="594.6" cy="303.2" r="1.75"/><circle cx="596" cy="320" r="1.75"/><circle cx="597.1" cy="341.6" r="1.75"/><circle cx="598.7" cy="326.4" r="1.75"/><circle cx="600.7" cy="324.8" r="1.75"/><circle cx="602.6" cy="288.3" r="1.75"/><circle cx="604.8" cy="341.6" r="1.75"/><circle cx="606.7" cy="305.6" r="1.75"/><circle cx="608.7" cy="320" r="1.75"/><circle cx="610.7" cy="273.3" r="1.75"/><circle cx="612.7" cy="302.1" r="1.75"/><circle cx="614" cy="290" r="1.75"/><circle cx="615.1" cy="269.7" r="1.75"/><circle cx="617" cy="315" r="1.75"/><circle cx="619.9" cy="309.1" r="1.75"/><circle cx="621.8" cy="320" r="1.75"/><circle cx="624.3" cy="328.8" r="1.75"/><circle cx="625.9" cy="333.2" r="1.75"/><circle cx="628.2" cy="323.6" r="1.75"/><circle cx="630.3" cy="330.4" r="1.75"/><circle cx="632.7" cy="297.9" r="1.75"/><circle cx="634" cy="320" r="1.75"/><circle cx="635.9" cy="320.8" r="1.75"/><circle cx="637.8" cy="330" r="1.75"/><circle cx="639.1" cy="292" r="1.75"/><circle cx="641.6" cy="320.8" r="1.75"/><circle cx="643.5" cy="328" r="1.75"/><circle cx="645.6" cy="335.2" r="1.75"/><circle cx="648" cy="316.8" r="1.75"/><circle cx="650.4" cy="334.4" r="1.75"/><circle cx="652.5" cy="311.2" r="1.75"/><circle cx="654.9" cy="334.4" r="1.75"/><circle cx="656.8" cy="324" r="1.75"/><circle cx="659.2" cy="302.4" r="1.75"/><circle cx="661.6" cy="302.4" r="1.75"/><circle cx="664" cy="310.1" r="1.75"/><circle cx="665.6" cy="315.2" r="1.75"/><circle cx="668.5" cy="332.8" r="1.75"/><circle cx="670.5" cy="325" r="1.75"/><circle cx="672.8" cy="315.2" r="1.75"/><circle cx="675.2" cy="339.2" r="1.75"/><circle cx="677.6" cy="316.5" r="1.75"/><circle cx="679.7" cy="326.4" r="1.75"/><circle cx="681.9" cy="337.6" r="1.75"/><circle cx="684.5" cy="326.4" r="1.75"/><circle cx="686.8" cy="318.4" r="1.75"/><circle cx="689.6" cy="326.4" r="1.75"/><circle cx="690.9" cy="325.6" r="1.75"/><circle cx="693.6" cy="337.3" r="1.75"/><circle cx="695.7" cy="343.2" r="1.75"/><circle cx="698" cy="326.4" r="1.75"/><circle cx="700.5" cy="301.6" r="1.75"/><circle cx="702.4" cy="304.3" r="1.75"/><circle cx="704.8" cy="341.6" r="1.75"/><circle cx="706.9" cy="342.4" r="1.75"/><circle cx="709.2" cy="335.2" r="1.75"/><circle cx="711.7" cy="314.9" r="1.75"/><circle cx="714" cy="314.9" r="1.75"/><circle cx="716" cy="325.6" r="1.75"/><circle cx="718.4" cy="325.6" r="1.75"/><circle cx="720.5" cy="330" r="1.75"/><circle cx="722.9" cy="319.7" r="1.75"/><circle cx="725.7" cy="342.4" r="1.75"/><circle cx="727.7" cy="337.3" r="1.75"/><circle cx="730" cy="329.6" r="1.75"/><circle cx="732.1" cy="341.6" r="1.75"/><circle cx="734.5" cy="346.4" r="1.75"/><circle cx="736.9" cy="314" r="1.75"/><circle cx="738.9" cy="306" r="1.75"/><circle cx="740.9" cy="336" r="1.75"/><circle cx="743.3" cy="333.6" r="1.75"/><circle cx="745.3" cy="346.4" r="1.75"/><circle cx="747.6" cy="344.8" r="1.75"/><circle cx="749.7" cy="300" r="1.75"/><circle cx="751.8" cy="318.4" r="1.75"/><circle cx="754" cy="339.2" r="1.75"/><circle cx="756.9" cy="350.4" r="1.75"/><circle cx="759.3" cy="350.4" r="1.75"/><circle cx="760.4" cy="339.2" r="1.75"/></g><path d="M520.8 330C520.9 330.2 520.8 329.8 521.4 331.2C522 332.6 523.5 336.4 524.6 338.4C525.7 340.4 526.9 342.5 527.8 343.2C528.7 343.9 529.4 343.6 530.2 342.4C531 341.2 531.8 337.2 532.6 336C533.4 334.8 534.2 337.1 535 335.2C535.8 333.3 536.6 327.9 537.4 324.8C538.2 321.7 538.9 319.2 539.8 316.8C540.7 314.4 541.9 310 542.7 310.1C543.6 310.2 544 317.2 544.9 317.6C545.8 318.1 546.8 314.6 547.8 312.8C548.8 311 550 307.2 551 306.9C552 306.6 553 309.9 553.9 311.2C554.8 312.4 555.6 312.8 556.6 314.4C557.6 316 558.7 319.3 559.8 320.8C560.9 322.3 562 323.7 563 323.2C564 322.7 564.9 318.9 565.7 317.6C566.5 316.3 567 314.5 567.8 315.2C568.5 315.9 569.4 321.2 570.2 321.6C571 322 571.8 319.2 572.6 317.6C573.4 316 574.1 313.2 575 311.7C575.9 310.2 577.1 309.8 578.2 308.8C579.3 307.8 580.5 305.5 581.4 305.6C582.3 305.7 583 308.8 583.8 309.6C584.6 310.4 585.3 310.5 586.2 310.4C587.1 310.3 588.3 308.1 589.4 308.8C590.5 309.5 591.7 312.8 592.6 314.4C593.5 316 594 318.1 595 318.4C596 318.7 597.1 316.7 598.3 316C599.5 315.3 601 315.3 602.3 314.4C603.6 313.5 605.1 312.1 606.3 310.4C607.5 308.7 608.6 305.2 609.5 304C610.4 302.8 611.1 303.6 611.9 303.2C612.7 302.8 613.5 301.1 614.3 301.6C615.1 302.1 615.9 304 616.7 306.4C617.5 308.8 618.3 314.7 619.1 316C619.9 317.3 620.7 314.9 621.5 314.4C622.3 313.9 623.1 312.7 623.9 312.8C624.7 312.9 625.5 314.1 626.3 315.2C627.1 316.3 627.9 319.2 628.7 319.2C629.5 319.2 630.3 316.3 631.1 315.2C631.9 314.1 632.6 313.1 633.5 312.8C634.4 312.5 635.6 313.8 636.7 313.3C637.8 312.9 638.9 310.2 640 310.1C641.1 310 642.1 312.1 643.2 312.8C644.3 313.5 645.3 314.3 646.4 314.4C647.5 314.5 648.5 313.8 649.6 313.3C650.7 312.9 651.7 311.8 652.8 311.7C653.9 311.6 654.9 312.4 656 312.8C657.1 313.2 658.1 313.3 659.2 314C660.3 314.7 661.5 315.5 662.4 316.8C663.3 318.1 664.1 319.9 664.8 321.6C665.5 323.3 665.9 325.5 666.4 327.2C666.9 328.9 667.5 331 668 331.6C668.5 332.2 669.1 332.3 669.6 330.9C670.1 329.5 670.5 325.7 671.2 323.2C671.9 320.7 672.7 318 673.6 316C674.5 314 675.7 312.2 676.8 311.2C677.9 310.2 679.1 310.5 680 310.1C680.9 309.8 681.6 308.9 682.4 309.1C683.2 309.3 683.9 310.6 684.8 311.2C685.7 311.8 686.7 312.4 688 312.8C689.3 313.2 691.2 313.3 692.8 313.6C694.4 313.9 696 314.2 697.6 314.4C699.2 314.6 700.8 314.5 702.4 314.9C704 315.2 705.6 316.1 707.2 316.5C708.8 316.9 710.4 316.9 712 317.1C713.6 317.3 715.2 317.5 716.8 317.6C718.4 317.7 720.1 317.6 721.7 317.6C723.3 317.6 724.9 317.3 726.5 317.6C728.1 317.9 729.7 318.7 731.3 319.2C732.9 319.7 734.6 320.2 736.1 320.8C737.6 321.4 738.8 322.1 740.1 322.9C741.4 323.7 742.6 325 743.7 325.6C744.8 326.2 745.4 326.9 746.5 326.8C747.6 326.7 749 325.2 750.5 324.8C752 324.4 753.6 324.6 755.3 324.5C757 324.4 759.9 324.1 760.8 324" stroke="#f0bc00" stroke-width="1.8" fill="none" stroke-linejoin="round"/><path d="M520.8 331C521.3 330.6 522.5 329.6 523.8 328.8C525.1 328 527 327.1 528.6 326.4C530.2 325.7 531.8 325.1 533.4 324.5C535 323.9 536.6 323.4 538.2 322.9C539.8 322.4 541.4 321.8 543 321.3C544.6 320.8 546.2 320.4 547.8 320C549.4 319.6 551 319.1 552.6 318.7C554.2 318.3 555.8 318 557.4 317.6C559 317.2 560.6 316.9 562.2 316.5C563.8 316.1 565.4 315.6 567 315.2C568.6 314.8 570.5 314.3 571.8 313.9C573.1 313.5 574.1 313.4 575 312.8C575.9 312.2 576.6 310.4 577.4 310.4C578.1 310.4 578.8 313.3 579.5 312.8C580.2 312.3 581.1 307.2 581.8 307.2C582.5 307.2 583.2 311.6 583.8 312.8C584.4 314 584.9 314.8 585.4 314.4C585.9 314 586.3 311.1 587 310.4C587.7 309.7 588.7 310.1 589.4 310.4C590.1 310.7 590.9 310.4 591.4 312C591.9 313.6 592.1 317.1 592.6 320C593.1 322.9 593.7 326.9 594.2 329.6C594.7 332.3 595.1 334.4 595.8 336C596.5 337.6 597.5 338.5 598.3 338.9C599.1 339.3 599.9 339.1 600.7 338.4C601.5 337.6 602.3 336.4 603.1 334.4C603.9 332.4 604.8 329.6 605.5 326.4C606.2 323.2 606.8 320 607.5 315.2C608.2 310.4 608.8 301.7 609.5 297.6C610.2 293.6 611.1 292.2 611.9 290.9C612.7 289.6 613.5 289.4 614.3 289.9C615.1 290.3 616 291.8 616.7 293.6C617.4 295.4 617.9 298 618.6 300.8C619.3 303.6 620 308 620.7 310.4C621.5 312.8 622.3 314 623.1 315.2C623.9 316.4 624.7 317 625.5 317.6C626.3 318.2 627 318.6 627.9 318.7C628.8 318.8 630 318.6 631.1 318.4C632.2 318.2 633.2 317.7 634.3 317.6C635.4 317.5 636.5 317.5 637.5 317.6C638.5 317.7 639.2 317.2 640 318.4C640.8 319.6 641.6 323.1 642.4 324.8C643.2 326.5 644 327.9 644.8 328.4C645.6 328.9 646.4 328.9 647.2 328C648 327.1 648.8 324.4 649.6 323.2C650.4 322 651.2 322.3 652 320.8C652.8 319.3 653.6 316.4 654.4 314.4C655.2 312.4 656 310.3 656.8 308.8C657.6 307.3 658.4 306.3 659.2 305.6C660 304.9 660.8 304.5 661.6 304.8C662.4 305.1 663.2 306 664 307.2C664.8 308.4 665.6 309.9 666.4 312C667.2 314.1 668 317.3 668.8 320C669.6 322.7 670.4 325.9 671.2 328C672 330.1 672.8 331.5 673.6 332.8C674.4 334.1 675.2 335.6 676 336C676.8 336.4 677.6 336 678.4 335.2C679.2 334.4 680 332.1 680.8 331.2C681.6 330.3 682.3 330.3 683.2 329.6C684.1 328.9 685.3 327.3 686.4 327.2C687.5 327.1 688.5 328.3 689.6 328.8C690.7 329.3 691.9 330.3 692.8 330.4C693.7 330.5 694.4 330.4 695.2 329.6C696 328.8 696.7 327 697.6 325.6C698.5 324.2 699.7 322.2 700.8 321.3C701.9 320.4 703.1 320.6 704 320C704.9 319.4 705.6 318.6 706.4 317.6C707.2 316.6 708 315.1 708.8 313.9C709.6 312.6 710.5 310.8 711.2 310.1C712 309.4 712.6 309.3 713.3 309.6C714 309.9 714.4 311.3 715.2 312C716.1 312.7 717.3 313.1 718.4 313.9C719.5 314.6 720.6 316.1 721.7 316.5C722.8 316.9 723.8 315.9 724.9 316C726 316.1 727 316.4 728.1 316.8C729.2 317.2 730.2 317.9 731.3 318.4C732.4 318.9 733.4 319.3 734.5 319.7C735.6 320.1 736.6 320.2 737.7 320.8C738.8 321.4 739.9 322.1 740.9 323.2C741.9 324.3 742.8 326.2 743.7 327.2C744.6 328.2 745.6 330 746.5 329.3C747.4 328.6 748.1 325 748.9 323.2C749.7 321.4 750.4 319.5 751.3 318.4C752.1 317.3 753.1 316.5 754 316.8C754.9 317.1 755.5 319.6 756.6 320C757.7 320.4 760.1 319.6 760.8 319.5" stroke="#c20818" stroke-width="1.8" fill="none" stroke-linejoin="round"/></g><clipPath id="c20"><rect x="40.8" y="358.4" width="240.2" height="168"/></clipPath><g clip-path="url(#c20)"><path d="M41.6 395.4V419M43 409.3V430.7M44.2 386.1V413.9M45.5 397.1V417.3M47.1 385.5V411.5M48.7 400V423.8M50.2 418.5V438.3M51.8 431.2V456.6M53.4 445.3V464.7M54.2 453V477.4M55 445.1V464.9M56.2 460V480M57.3 450V474M57.3 458.6V487.6M58.6 472.7V492.9M59.2 413.8V435.2M60.5 396.8V423.2M61.8 384.9V415.1M63 382.2V407.8M64 376.3V399.7M65.2 364.4V394.8M66.5 385.5V404.5M67.6 392.8V421.6M68.8 381.1V402.9M70 378V398M71.5 373.8V393.4M73.1 372.7V394.5M74.3 377.5V405.3M75.2 387.9V408.1M76.2 392.6V417M77.8 385.5V409.9M79.4 399.9V420.7M80.8 406.9V429.1M82.5 417.9V434.3M83.3 442.1V458.3M84.8 431.4V448.6M86.5 434.9V456.1M88 442.9V461.1M89.5 436.7V453.3M91 430.8V449.2M92.5 421.7V438.3M94 417.6V432.4M95.9 406.7V424.9M97.5 416.3V433.7M98.3 433.9V447.7M99.8 411.9V428.1M101 420.2V435.8M102.2 428V446.2M103.8 436.5V453.5M105.4 448.9V462.5M107 438.7V457.3M108.5 439V451M110 442.9V457.1M111.7 434.9V451.3M113 442V454M114 443.9V458.1M115.5 450.5V461.5M117 452.3V467.7M118.7 438.4V454.2M120 447.8V462.2M121.1 446V462.4M122.7 466.9V479.3M124 457.6V472.4M125 464.5V478.5M126.6 456.7V470.5M127.8 463.6V476.4M129 474V489.4M130.5 440.1V455.9M131.5 438.7V451.3M132.9 448.1V461.9M134 440.1V449.9M135.3 448.8V462.6M136.5 443.4V456.6M137.6 455.2V470.4M139 451V465M140.3 464.7V475.3M141.6 468.3V479.5M143.9 467.6V480.2M145 460.6V469.4M146.3 473.8V485M147.5 465.3V474.7M148.7 463.1V472.1M151 464.1V472.5M152 455.9V468.1M153.1 469.5V478.3M154.2 465.4V474.6M155.3 476.4V486.2M157.3 463V475.2M158.5 456V464M159.7 459.5V469.3M161.6 466.1V476.3M163.2 455.7V467.5M165.6 455V466.6M167.2 456.1V467.9M168.8 461.2V470M171.2 443.3V452.7M172.8 461.8V471M175.2 463.7V475.5M177.6 459.5V471.7M180 465.5V473.7M182.4 467.1V475.3M184.3 476.6V485M186.4 475.8V484.2M188.8 490.4V500M191.7 483.7V493.9M193.6 491.7V500.3M196 488.4V495.6M198.4 485V494.2M200 475.5V484.5M201.9 471.5V481.5M203.5 476.1V487.9M205.6 477.6V488.2M208 469.6V479.2M210.4 479.7V489.9M212.8 470V480.4M215.2 486.7V494.1M217.3 480.7V492.1M219.6 495.8V506.6M222.1 483.7V494.9M224.4 491.4V502.2M226.9 483.5V492.5M229.2 489.1V498.1M231.2 489V496.6M233.6 496.2V506.2M236 490.7V498.1M238.4 496.3V503.7M240.5 490.4V498.4M242.9 503.3V511.1M244.9 499.7V508.3M247.3 497.2V504.4M249.7 491.7V498.7M252.1 492.2V499.8M254.5 496.3V503.7M256.9 501.3V509.9M258.9 505.3V512.3M261.2 502.6V513.4M263.7 497.3V506.9M266 509.8V517.4M268.1 508.8V516.8M270.5 495.8V504.2M272.9 509.4V517.8M275.3 506.7V514.1M277.7 505.9V516.5M280.1 508.8V520" stroke="#2e4ea4" stroke-width="1.1" fill="none"/><path d="M40.2 395.4h2.8M40.2 419h2.8M41.6 409.3h2.8M41.6 430.7h2.8M42.8 386.1h2.8M42.8 413.9h2.8M44.1 397.1h2.8M44.1 417.3h2.8M45.7 385.5h2.8M45.7 411.5h2.8M47.3 400h2.8M47.3 423.8h2.8M48.8 418.5h2.8M48.8 438.3h2.8M50.4 431.2h2.8M50.4 456.6h2.8M52 445.3h2.8M52 464.7h2.8M52.8 453h2.8M52.8 477.4h2.8M53.6 445.1h2.8M53.6 464.9h2.8M54.8 460h2.8M54.8 480h2.8M55.9 450h2.8M55.9 474h2.8M55.9 458.6h2.8M55.9 487.6h2.8M57.2 472.7h2.8M57.2 492.9h2.8M57.8 413.8h2.8M57.8 435.2h2.8M59.1 396.8h2.8M59.1 423.2h2.8M60.4 384.9h2.8M60.4 415.1h2.8M61.6 382.2h2.8M61.6 407.8h2.8M62.6 376.3h2.8M62.6 399.7h2.8M63.8 364.4h2.8M63.8 394.8h2.8M65.1 385.5h2.8M65.1 404.5h2.8M66.2 392.8h2.8M66.2 421.6h2.8M67.4 381.1h2.8M67.4 402.9h2.8M68.6 378h2.8M68.6 398h2.8M70.1 373.8h2.8M70.1 393.4h2.8M71.7 372.7h2.8M71.7 394.5h2.8M72.9 377.5h2.8M72.9 405.3h2.8M73.8 387.9h2.8M73.8 408.1h2.8M74.8 392.6h2.8M74.8 417h2.8M76.4 385.5h2.8M76.4 409.9h2.8M78 399.9h2.8M78 420.7h2.8M79.4 406.9h2.8M79.4 429.1h2.8M81.1 417.9h2.8M81.1 434.3h2.8M81.9 442.1h2.8M81.9 458.3h2.8M83.4 431.4h2.8M83.4 448.6h2.8M85.1 434.9h2.8M85.1 456.1h2.8M86.6 442.9h2.8M86.6 461.1h2.8M88.1 436.7h2.8M88.1 453.3h2.8M89.6 430.8h2.8M89.6 449.2h2.8M91.1 421.7h2.8M91.1 438.3h2.8M92.6 417.6h2.8M92.6 432.4h2.8M94.5 406.7h2.8M94.5 424.9h2.8M96.1 416.3h2.8M96.1 433.7h2.8M96.9 433.9h2.8M96.9 447.7h2.8M98.4 411.9h2.8M98.4 428.1h2.8M99.6 420.2h2.8M99.6 435.8h2.8M100.8 428h2.8M100.8 446.2h2.8M102.4 436.5h2.8M102.4 453.5h2.8M104 448.9h2.8M104 462.5h2.8M105.6 438.7h2.8M105.6 457.3h2.8M107.1 439h2.8M107.1 451h2.8M108.6 442.9h2.8M108.6 457.1h2.8M110.3 434.9h2.8M110.3 451.3h2.8M111.6 442h2.8M111.6 454h2.8M112.6 443.9h2.8M112.6 458.1h2.8M114.1 450.5h2.8M114.1 461.5h2.8M115.6 452.3h2.8M115.6 467.7h2.8M117.3 438.4h2.8M117.3 454.2h2.8M118.6 447.8h2.8M118.6 462.2h2.8M119.7 446h2.8M119.7 462.4h2.8M121.3 466.9h2.8M121.3 479.3h2.8M122.6 457.6h2.8M122.6 472.4h2.8M123.6 464.5h2.8M123.6 478.5h2.8M125.2 456.7h2.8M125.2 470.5h2.8M126.4 463.6h2.8M126.4 476.4h2.8M127.6 474h2.8M127.6 489.4h2.8M129.1 440.1h2.8M129.1 455.9h2.8M130.1 438.7h2.8M130.1 451.3h2.8M131.5 448.1h2.8M131.5 461.9h2.8M132.6 440.1h2.8M132.6 449.9h2.8M133.9 448.8h2.8M133.9 462.6h2.8M135.1 443.4h2.8M135.1 456.6h2.8M136.2 455.2h2.8M136.2 470.4h2.8M137.6 451h2.8M137.6 465h2.8M138.9 464.7h2.8M138.9 475.3h2.8M140.2 468.3h2.8M140.2 479.5h2.8M142.5 467.6h2.8M142.5 480.2h2.8M143.6 460.6h2.8M143.6 469.4h2.8M144.9 473.8h2.8M144.9 485h2.8M146.1 465.3h2.8M146.1 474.7h2.8M147.3 463.1h2.8M147.3 472.1h2.8M149.6 464.1h2.8M149.6 472.5h2.8M150.6 455.9h2.8M150.6 468.1h2.8M151.7 469.5h2.8M151.7 478.3h2.8M152.8 465.4h2.8M152.8 474.6h2.8M153.9 476.4h2.8M153.9 486.2h2.8M155.9 463h2.8M155.9 475.2h2.8M157.1 456h2.8M157.1 464h2.8M158.3 459.5h2.8M158.3 469.3h2.8M160.2 466.1h2.8M160.2 476.3h2.8M161.8 455.7h2.8M161.8 467.5h2.8M164.2 455h2.8M164.2 466.6h2.8M165.8 456.1h2.8M165.8 467.9h2.8M167.4 461.2h2.8M167.4 470h2.8M169.8 443.3h2.8M169.8 452.7h2.8M171.4 461.8h2.8M171.4 471h2.8M173.8 463.7h2.8M173.8 475.5h2.8M176.2 459.5h2.8M176.2 471.7h2.8M178.6 465.5h2.8M178.6 473.7h2.8M181 467.1h2.8M181 475.3h2.8M182.9 476.6h2.8M182.9 485h2.8M185 475.8h2.8M185 484.2h2.8M187.4 490.4h2.8M187.4 500h2.8M190.3 483.7h2.8M190.3 493.9h2.8M192.2 491.7h2.8M192.2 500.3h2.8M194.6 488.4h2.8M194.6 495.6h2.8M197 485h2.8M197 494.2h2.8M198.6 475.5h2.8M198.6 484.5h2.8M200.5 471.5h2.8M200.5 481.5h2.8M202.1 476.1h2.8M202.1 487.9h2.8M204.2 477.6h2.8M204.2 488.2h2.8M206.6 469.6h2.8M206.6 479.2h2.8M209 479.7h2.8M209 489.9h2.8M211.4 470h2.8M211.4 480.4h2.8M213.8 486.7h2.8M213.8 494.1h2.8M215.9 480.7h2.8M215.9 492.1h2.8M218.2 495.8h2.8M218.2 506.6h2.8M220.7 483.7h2.8M220.7 494.9h2.8M223 491.4h2.8M223 502.2h2.8M225.5 483.5h2.8M225.5 492.5h2.8M227.8 489.1h2.8M227.8 498.1h2.8M229.8 489h2.8M229.8 496.6h2.8M232.2 496.2h2.8M232.2 506.2h2.8M234.6 490.7h2.8M234.6 498.1h2.8M237 496.3h2.8M237 503.7h2.8M239.1 490.4h2.8M239.1 498.4h2.8M241.5 503.3h2.8M241.5 511.1h2.8M243.5 499.7h2.8M243.5 508.3h2.8M245.9 497.2h2.8M245.9 504.4h2.8M248.3 491.7h2.8M248.3 498.7h2.8M250.7 492.2h2.8M250.7 499.8h2.8M253.1 496.3h2.8M253.1 503.7h2.8M255.5 501.3h2.8M255.5 509.9h2.8M257.5 505.3h2.8M257.5 512.3h2.8M259.8 502.6h2.8M259.8 513.4h2.8M262.3 497.3h2.8M262.3 506.9h2.8M264.6 509.8h2.8M264.6 517.4h2.8M266.7 508.8h2.8M266.7 516.8h2.8M269.1 495.8h2.8M269.1 504.2h2.8M271.5 509.4h2.8M271.5 517.8h2.8M273.9 506.7h2.8M273.9 514.1h2.8M276.3 505.9h2.8M276.3 516.5h2.8M278.7 508.8h2.8M278.7 520h2.8" stroke="#1f3d98" stroke-width="1.2" fill="none"/><g fill="#183692"><circle cx="41.6" cy="407.2" r="1.75"/><circle cx="43" cy="420" r="1.75"/><circle cx="44.2" cy="400" r="1.75"/><circle cx="45.5" cy="407.2" r="1.75"/><circle cx="47.1" cy="398.5" r="1.75"/><circle cx="48.7" cy="411.9" r="1.75"/><circle cx="50.2" cy="428.4" r="1.75"/><circle cx="51.8" cy="443.9" r="1.75"/><circle cx="53.4" cy="455" r="1.75"/><circle cx="54.2" cy="465.2" r="1.75"/><circle cx="55" cy="455" r="1.75"/><circle cx="56.2" cy="470" r="1.75"/><circle cx="57.3" cy="462" r="1.75"/><circle cx="57.3" cy="473.1" r="1.75"/><circle cx="58.6" cy="482.8" r="1.75"/><circle cx="59.2" cy="424.5" r="1.75"/><circle cx="60.5" cy="410" r="1.75"/><circle cx="61.8" cy="400" r="1.75"/><circle cx="63" cy="395" r="1.75"/><circle cx="64" cy="388" r="1.75"/><circle cx="65.2" cy="379.6" r="1.75"/><circle cx="66.5" cy="395" r="1.75"/><circle cx="67.6" cy="407.2" r="1.75"/><circle cx="68.8" cy="392" r="1.75"/><circle cx="70" cy="388" r="1.75"/><circle cx="71.5" cy="383.6" r="1.75"/><circle cx="73.1" cy="383.6" r="1.75"/><circle cx="74.3" cy="391.4" r="1.75"/><circle cx="75.2" cy="398" r="1.75"/><circle cx="76.2" cy="404.8" r="1.75"/><circle cx="77.8" cy="397.7" r="1.75"/><circle cx="79.4" cy="410.3" r="1.75"/><circle cx="80.8" cy="418" r="1.75"/><circle cx="82.5" cy="426.1" r="1.75"/><circle cx="83.3" cy="450.2" r="1.75"/><circle cx="84.8" cy="440" r="1.75"/><circle cx="86.5" cy="445.5" r="1.75"/><circle cx="88" cy="452" r="1.75"/><circle cx="89.5" cy="445" r="1.75"/><circle cx="91" cy="440" r="1.75"/><circle cx="92.5" cy="430" r="1.75"/><circle cx="94" cy="425" r="1.75"/><circle cx="95.9" cy="415.8" r="1.75"/><circle cx="97.5" cy="425" r="1.75"/><circle cx="98.3" cy="440.8" r="1.75"/><circle cx="99.8" cy="420" r="1.75"/><circle cx="101" cy="428" r="1.75"/><circle cx="102.2" cy="437.1" r="1.75"/><circle cx="103.8" cy="445" r="1.75"/><circle cx="105.4" cy="455.7" r="1.75"/><circle cx="107" cy="448" r="1.75"/><circle cx="108.5" cy="445" r="1.75"/><circle cx="110" cy="450" r="1.75"/><circle cx="111.7" cy="443.1" r="1.75"/><circle cx="113" cy="448" r="1.75"/><circle cx="114" cy="451" r="1.75"/><circle cx="115.5" cy="456" r="1.75"/><circle cx="117" cy="460" r="1.75"/><circle cx="118.7" cy="446.3" r="1.75"/><circle cx="120" cy="455" r="1.75"/><circle cx="121.1" cy="454.2" r="1.75"/><circle cx="122.7" cy="473.1" r="1.75"/><circle cx="124" cy="465" r="1.75"/><circle cx="125" cy="471.5" r="1.75"/><circle cx="126.6" cy="463.6" r="1.75"/><circle cx="127.8" cy="470" r="1.75"/><circle cx="129" cy="481.7" r="1.75"/><circle cx="130.5" cy="448" r="1.75"/><circle cx="131.5" cy="445" r="1.75"/><circle cx="132.9" cy="455" r="1.75"/><circle cx="134" cy="445" r="1.75"/><circle cx="135.3" cy="455.7" r="1.75"/><circle cx="136.5" cy="450" r="1.75"/><circle cx="137.6" cy="462.8" r="1.75"/><circle cx="139" cy="458" r="1.75"/><circle cx="140.3" cy="470" r="1.75"/><circle cx="141.6" cy="473.9" r="1.75"/><circle cx="143.9" cy="473.9" r="1.75"/><circle cx="145" cy="465" r="1.75"/><circle cx="146.3" cy="479.4" r="1.75"/><circle cx="147.5" cy="470" r="1.75"/><circle cx="148.7" cy="467.6" r="1.75"/><circle cx="151" cy="468.3" r="1.75"/><circle cx="152" cy="462" r="1.75"/><circle cx="153.1" cy="473.9" r="1.75"/><circle cx="154.2" cy="470" r="1.75"/><circle cx="155.3" cy="481.3" r="1.75"/><circle cx="157.3" cy="469.1" r="1.75"/><circle cx="158.5" cy="460" r="1.75"/><circle cx="159.7" cy="464.4" r="1.75"/><circle cx="161.6" cy="471.2" r="1.75"/><circle cx="163.2" cy="461.6" r="1.75"/><circle cx="165.6" cy="460.8" r="1.75"/><circle cx="167.2" cy="462" r="1.75"/><circle cx="168.8" cy="465.6" r="1.75"/><circle cx="171.2" cy="448" r="1.75"/><circle cx="172.8" cy="466.4" r="1.75"/><circle cx="175.2" cy="469.6" r="1.75"/><circle cx="177.6" cy="465.6" r="1.75"/><circle cx="180" cy="469.6" r="1.75"/><circle cx="182.4" cy="471.2" r="1.75"/><circle cx="184.3" cy="480.8" r="1.75"/><circle cx="186.4" cy="480" r="1.75"/><circle cx="188.8" cy="495.2" r="1.75"/><circle cx="191.7" cy="488.8" r="1.75"/><circle cx="193.6" cy="496" r="1.75"/><circle cx="196" cy="492" r="1.75"/><circle cx="198.4" cy="489.6" r="1.75"/><circle cx="200" cy="480" r="1.75"/><circle cx="201.9" cy="476.5" r="1.75"/><circle cx="203.5" cy="482" r="1.75"/><circle cx="205.6" cy="482.9" r="1.75"/><circle cx="208" cy="474.4" r="1.75"/><circle cx="210.4" cy="484.8" r="1.75"/><circle cx="212.8" cy="475.2" r="1.75"/><circle cx="215.2" cy="490.4" r="1.75"/><circle cx="217.3" cy="486.4" r="1.75"/><circle cx="219.6" cy="501.2" r="1.75"/><circle cx="222.1" cy="489.3" r="1.75"/><circle cx="224.4" cy="496.8" r="1.75"/><circle cx="226.9" cy="488" r="1.75"/><circle cx="229.2" cy="493.6" r="1.75"/><circle cx="231.2" cy="492.8" r="1.75"/><circle cx="233.6" cy="501.2" r="1.75"/><circle cx="236" cy="494.4" r="1.75"/><circle cx="238.4" cy="500" r="1.75"/><circle cx="240.5" cy="494.4" r="1.75"/><circle cx="242.9" cy="507.2" r="1.75"/><circle cx="244.9" cy="504" r="1.75"/><circle cx="247.3" cy="500.8" r="1.75"/><circle cx="249.7" cy="495.2" r="1.75"/><circle cx="252.1" cy="496" r="1.75"/><circle cx="254.5" cy="500" r="1.75"/><circle cx="256.9" cy="505.6" r="1.75"/><circle cx="258.9" cy="508.8" r="1.75"/><circle cx="261.2" cy="508" r="1.75"/><circle cx="263.7" cy="502.1" r="1.75"/><circle cx="266" cy="513.6" r="1.75"/><circle cx="268.1" cy="512.8" r="1.75"/><circle cx="270.5" cy="500" r="1.75"/><circle cx="272.9" cy="513.6" r="1.75"/><circle cx="275.3" cy="510.4" r="1.75"/><circle cx="277.7" cy="511.2" r="1.75"/><circle cx="280.1" cy="514.4" r="1.75"/></g><path d="M40.8 433.5C41.1 433.1 41.8 431.4 42.4 430.8C43 430.2 43.9 430.3 44.7 430C45.5 429.7 46.3 428.4 47.1 429.2C47.9 430 48.8 432.1 49.4 434.7C50 437.3 50.2 441.5 50.5 445C50.8 448.5 50.6 451.3 51 455.7C51.4 460.1 51.9 466.8 52.6 471.5C53.3 476.2 54.4 481.2 55 484.1C55.6 487 56 489.1 56.5 488.8C57 488.5 57.6 485.9 58.1 482.5C58.6 479.1 59.2 473.8 59.7 468.3C60.2 462.8 60.9 453.7 61.3 449.4C61.6 445.1 61.5 446.1 61.8 442.6C62 439.1 62.4 432.6 62.8 428.4C63.2 424.2 63.9 420 64.4 417.4C64.9 414.8 65.5 412 66 412.7C66.5 413.4 67.1 419.2 67.6 421.4C68.1 423.6 68.6 427.3 69.1 426.1C69.6 424.9 70.1 418.1 70.7 414.3C71.3 410.5 71.9 404 72.6 403.2C73.2 402.4 73.9 406.9 74.6 409.5C75.2 412.1 75.8 417 76.5 419C77.2 421 77.9 420.3 78.6 421.4C79.3 422.4 79.9 423.3 80.6 425.3C81.2 427.3 82 429.9 82.5 433.2C83 436.5 83.2 441.8 83.5 445C83.8 448.2 83.6 450.2 84.1 452.6C84.6 455.1 85.7 459.3 86.5 459.7C87.3 460.1 88.1 457.2 88.8 455C89.5 452.8 89.9 448.6 90.4 446.3C90.9 444 91.5 441.9 92 441C92.5 440.1 92.8 443.1 93.5 441C94.2 438.9 95.1 431.5 95.9 428.4C96.7 425.2 97.5 422.4 98.3 422.1C99.1 421.9 99.9 426.5 100.6 426.9C101.3 427.3 102 423.9 102.7 424.5C103.4 425.1 104 428.6 104.6 430.8C105.2 433.1 106 436.1 106.5 438C107 439.9 107.1 440.4 107.7 442C108.3 443.6 109.3 445.9 110.1 447.9C110.9 449.9 111.6 452.6 112.4 454.2C113.2 455.8 114 456.2 114.8 457.3C115.6 458.4 116.4 459.2 117.2 460.5C118 461.8 118.7 464.6 119.5 465.2C120.3 465.8 121.1 464.1 121.9 464.4C122.7 464.7 123.5 466.5 124.3 466.8C125.1 467.1 125.8 467.3 126.6 466C127.4 464.7 128.4 462.7 129 458.9C129.6 455.1 129.4 446.9 130 443.3C130.6 439.7 131.7 438.6 132.6 437.4C133.5 436.2 134.3 436 135.2 436.1C136.1 436.2 137.4 436.1 137.9 438.1C138.4 440.1 137.9 443.9 138.4 447.9C138.9 451.9 140 458.7 140.8 462C141.6 465.3 142.3 467.1 143.1 467.6C143.9 468.1 144.6 466.6 145.5 465.2C146.4 463.8 147.8 459.4 148.7 458.9C149.6 458.4 150.2 460.2 151 462C151.8 463.8 152.6 469.6 153.4 469.9C154.2 470.2 154.9 466.5 155.7 463.6C156.5 460.7 157.6 455.3 158.1 452.6C158.6 449.9 158.3 448.8 158.9 447.2C159.5 445.6 160.6 443.6 161.5 443.3C162.4 443 163.2 444.4 164.1 445.3C165 446.2 165.8 447.7 166.7 448.6C167.6 449.5 168.5 450 169.4 450.5C170.3 451 171.1 451.9 172 451.8C172.9 451.7 173.7 450.1 174.6 449.9C175.5 449.7 176.2 450.6 177.2 450.5C178.2 450.4 179.4 449.2 180.5 449.2C181.6 449.2 182.8 449.9 183.8 450.5C184.8 451.1 185.7 450.8 186.4 452.5C187.1 454.2 187.5 457 188 460.8C188.5 464.6 189.1 470.1 189.6 475.2C190.1 480.3 190.7 487.5 191.2 491.2C191.7 494.9 192.3 497.1 192.8 497.6C193.3 498.1 193.9 497.3 194.4 494.4C194.9 491.5 195.5 484.7 196 480C196.5 475.3 196.9 470.3 197.6 466.4C198.3 462.5 199.3 458.6 200 456.8C200.7 455 201.1 455.6 201.9 455.7C202.7 455.8 203.8 456.9 204.8 457.6C205.8 458.3 206.9 459.2 208 460C209.1 460.8 210.1 461.6 211.2 462.4C212.3 463.2 213.3 463.6 214.4 464.8C215.5 466 216.5 468.3 217.6 469.6C218.7 470.9 219.7 471.7 220.8 472.8C221.9 473.9 222.9 474.9 224 476C225.1 477.1 226.1 478.2 227.2 479.2C228.3 480.2 229.3 481.3 230.4 482C231.5 482.7 232.5 482.9 233.6 483.5C234.7 484.1 235.7 485 236.8 485.6C237.9 486.2 238.9 486.7 240 487.2C241.1 487.7 242.2 488.3 243.3 488.8C244.4 489.3 245.4 489.9 246.5 490C247.6 490.1 248.6 489.6 249.7 489.6C250.8 489.6 251.8 489.6 252.9 490C254 490.4 255 491.1 256.1 492C257.2 492.9 258.2 494.1 259.3 495.2C260.4 496.3 261.4 497.8 262.5 498.9C263.6 500 264.6 501 265.7 502.1C266.8 503.2 267.8 505.3 268.9 505.6C270 505.9 271 504.2 272.1 504C273.2 503.8 274.1 504.3 275.3 504.4C276.5 504.5 278.4 504.4 279.3 504.4C280.2 504.4 280.6 504.6 280.8 504.6" stroke="#f0bc00" stroke-width="1.8" fill="none" stroke-linejoin="round"/><path d="M40.8 459C41.1 458.3 41.8 456.2 42.4 455C43 453.8 43.9 453.4 44.7 452C45.5 450.6 46.4 446.4 47.1 446.5C47.8 446.6 48.2 449.8 48.7 452.6C49.2 455.5 49.7 460.5 50.2 463.6C50.7 466.8 51.3 469.1 51.8 471.5C52.3 473.9 52.9 476.5 53.4 477.8C53.9 479.1 54.5 481 55 479.4C55.5 477.8 56 472.8 56.5 468.3C57 463.8 57.6 457.9 58.1 452.6C58.6 447.3 59.1 442.4 59.7 436.3C60.4 430.2 61.4 421.6 62 415.8C62.6 410 63.1 403.8 63.6 401.7C64.1 399.6 64.7 404 65.2 403.2C65.7 402.4 66.2 399.1 66.8 396.9C67.4 394.7 68.1 389.4 68.7 389.9C69.3 390.4 69.7 396 70.2 400.1C70.7 404.2 71 412.7 71.5 414.3C72 415.9 72.5 409.2 73.1 409.5C73.7 409.8 74.3 415.4 75 415.8C75.7 416.2 76.4 411.5 77 411.9C77.6 412.3 78 418.2 78.6 418.2C79.2 418.2 79.9 411.8 80.6 411.9C81.2 412 81.8 416.4 82.5 419C83.2 421.6 84.1 424.2 84.9 427.7C85.7 431.2 86.4 436.4 87.2 440C88 443.6 88.9 448.6 89.6 449.4C90.3 450.2 90.8 447.7 91.2 444.7C91.6 441.7 91.5 435.4 92 431.6C92.5 427.8 93.5 424.5 94.3 422.1C95.1 419.7 96 418.8 96.7 417.4C97.4 416 97.9 414 98.6 414C99.2 414 99.9 416 100.6 417.4C101.3 418.8 102.2 419.7 103 422.1C103.8 424.5 104.6 428.3 105.4 431.6C106.2 434.9 107.2 438.8 107.7 441.8C108.2 444.8 108.1 446.5 108.5 449.4C108.9 452.2 109.4 455.8 110.1 458.9C110.8 462 111.7 465.1 112.4 468.3C113.1 471.5 113.7 477.3 114.3 477.8C114.9 478.3 115.3 476 115.9 471.5C116.5 467 117.4 453.1 118 451C118.6 448.9 119 455.8 119.5 458.9C120 462 120.6 467.8 121.1 469.9C121.6 472 122 473.6 122.7 471.5C123.4 469.4 124.2 460.7 125 457.3C125.8 453.9 126.6 451 127.4 451C128.2 451 129.4 456.6 129.8 457.3C130.2 458 129.6 457.4 130 455.1C130.4 452.8 131.2 446.4 132 443.3C132.8 440.2 133.8 437.4 134.6 436.7C135.4 436 135.8 439.9 136.6 439.4C137.4 438.9 138.3 434.4 139.2 433.9C140.1 433.3 141 435.4 141.8 436.1C142.6 436.8 143.2 436.5 143.8 438.1C144.5 439.7 144.9 444.1 145.7 445.9C146.5 447.6 147.5 447.7 148.4 448.6C149.3 449.5 150.1 450.3 151 451.2C151.9 452.1 152.7 453.5 153.6 453.8C154.5 454.1 155.3 452.7 156.2 453.1C157.1 453.5 158.3 455.4 158.9 456.4C159.5 457.4 159.3 458.7 160 459.2C160.7 459.7 162.3 459.6 163.2 459.5C164.1 459.4 164.8 457.6 165.6 458.4C166.4 459.1 167.3 464.4 168 464C168.7 463.6 169.1 458.7 169.6 456C170.1 453.3 170.4 450.8 170.8 448C171.2 445.2 171.4 442.3 172 439.4C172.6 436.5 173.8 431.3 174.4 430.6C175.1 429.9 175.4 433.1 175.9 435.4C176.4 437.7 176.9 442.4 177.5 444.6C178.1 446.8 178.8 446.7 179.6 448.6C180.4 450.5 181.4 454.1 182.4 456C183.4 457.9 184.5 459.1 185.6 460C186.7 460.9 187.7 460.7 188.8 461.6C189.9 462.5 191.1 464.3 192 465.6C192.9 466.9 193.7 467.5 194.4 469.6C195.2 471.7 195.9 475.5 196.5 478.4C197.1 481.3 197.6 487.7 198.1 487.2C198.6 486.7 199.2 478.7 199.7 475.2C200.2 471.7 200.6 468.1 201.3 466.4C202 464.7 203 464.9 204 464.8C205 464.7 206.3 465.5 207.2 465.6C208.1 465.7 208.8 465.6 209.6 465.3C210.4 465 211.2 462.9 212 464C212.8 465.1 213.6 470.8 214.4 472C215.2 473.2 216 471.7 216.8 471.2C217.6 470.7 218.4 469.1 219.2 468.8C220 468.5 220.8 468.9 221.6 469.6C222.4 470.3 223.1 471.6 224 472.8C224.9 474 226.1 475.5 227.2 476.8C228.3 478.1 229.3 479.9 230.4 480.8C231.5 481.7 232.7 481.6 233.6 482.4C234.5 483.2 235.1 485.5 236 485.6C236.9 485.7 238.1 483.3 239.3 483.2C240.5 483.1 241.8 484.1 243.3 484.8C244.8 485.5 246.5 486.4 248.1 487.2C249.7 487.9 251.3 488.7 252.9 489.3C254.5 489.9 256.1 490.4 257.7 490.9C259.3 491.4 260.9 492 262.5 492.5C264.1 493 265.7 493.7 267.3 494.1C268.9 494.6 270.5 494.8 272.1 495.2C273.7 495.6 275.4 496.3 276.9 496.8C278.3 497.3 280.1 497.8 280.8 498" stroke="#c20818" stroke-width="1.8" fill="none" stroke-linejoin="round"/></g><clipPath id="c21"><rect x="280.9" y="358.4" width="240.2" height="168"/></clipPath><g clip-path="url(#c21)"><path d="M281 413V437M281.6 402.9V436.7M283.1 404.8V426.8M284.7 395.6V425M286.3 392.9V413.5M287.8 400.8V423.2M289 409.2V440.8M290.2 434.3V455.7M291 426.3V452.7M292.4 443.1V466.9M293.4 448.8V472.2M295 452.7V476.1M295.7 417V436.8M297.3 432.2V458.8M298.6 431.1V448.9M300 415.5V434.5M301.3 405.2V421.8M302.8 390.5V409.5M304.4 375V395.2M306 377.5V402.5M307.6 370.8V390M309.1 377V393.2M310.3 383.2V400.8M311.5 358.5V397.5M313.1 376V391.2M314.6 368.7V388.9M316.2 411.8V429.4M317.8 380.3V400.3M319.2 391.7V408.3M320.6 395V414.6M322 406.3V423.7M323.5 420.8V439.2M325.7 444.2V464.2M327.2 436.5V453.5M328.8 429.8V442.8M330.5 433.9V446.1M332 422.8V441.2M332.8 442V456.8M333.5 419.8V432.4M335.9 416.6V434M337.5 410.8V425.2M339.1 412.3V427.3M341 420.3V435.7M342.5 427.4V438.6M344 432.3V443.7M346 432.9V447.1M347.7 444.5V454.3M348.5 438.3V451.7M350.1 447.1V456.5M352.4 446.2V459M354 448.6V461.4M355.5 449.9V464.1M357.2 447.4V461M358.7 453.1V464.7M360.5 457.1V466.9M362 460.3V469.7M363.5 458.7V470.1M365 458.7V470.1M367 463.6V472.4M368.8 455.3V468.7M370.6 459.6V470.8M372.3 448.9V461.1M373.7 445.5V454.9M375.3 438.3V447.9M377.6 439V447.2M379.2 457V467M380.8 453.3V462.7M382.4 462.5V472.7M383.9 463.3V473.3M385 465.8V478.2M386.3 473.1V485.7M387.5 467.6V476.4M388.7 464.2V474M390 467.7V476.3M391 471.4V482.6M392.2 463.6V476.4M393.4 468.7V477.5M395.3 462.5V474.1M397.3 467V476M398.4 461.2V468.8M399.4 455.6V467M401.6 452.2V461.4M404 467V475.4M406.4 464V473.6M408.3 465.3V473.9M410.9 460.9V470.3M413.3 464.8V474.4M415.7 456.9V466.3M417.9 479.4V489.6M420 469.2V478M422.4 466.5V474.3M424.8 469.7V477.5M427.2 474.5V482.3M429.6 484.7V494.5M431.7 493.1V502.1M433.9 495.2V506.4M436.5 485.5V495.3M438.7 485.6V496.2M441.3 485.6V497.6M443.5 476.5V484.1M445.9 482V489.2M448 488.1V495.9M450.4 488.3V497.3M452.8 487.5V497.5M455.2 486.6V497.4M457.6 488.1V496.9M460 494.1V505.9M462.1 500.1V507.3M464.5 485.7V496.7M466.9 489.6V497.6M469.2 489.2V500.4M471.6 504.4V511.6M474 496.6V508.2M476.5 500V510.6M478.4 495.4V507M480.9 500.7V510.5M482.9 496.9V504.7M485.3 493.5V504.9M487.7 504.7V513.7M490.1 506.7V514.1M492.5 501.5V511.3M494.9 501.4V510.6M497.3 501.9V510.9M499.6 499.4V507M501.7 500V507.4M504.1 504V513.6M506.5 504V513M508.9 505.1V512.5M511.3 510.8V519.6M513.7 507.8V517.8M515.6 507V517M517.7 512V521M520.1 506.1V514.7" stroke="#2e4ea4" stroke-width="1.1" fill="none"/><path d="M279.6 413h2.8M279.6 437h2.8M280.2 402.9h2.8M280.2 436.7h2.8M281.7 404.8h2.8M281.7 426.8h2.8M283.3 395.6h2.8M283.3 425h2.8M284.9 392.9h2.8M284.9 413.5h2.8M286.4 400.8h2.8M286.4 423.2h2.8M287.6 409.2h2.8M287.6 440.8h2.8M288.8 434.3h2.8M288.8 455.7h2.8M289.6 426.3h2.8M289.6 452.7h2.8M291 443.1h2.8M291 466.9h2.8M292 448.8h2.8M292 472.2h2.8M293.6 452.7h2.8M293.6 476.1h2.8M294.3 417h2.8M294.3 436.8h2.8M295.9 432.2h2.8M295.9 458.8h2.8M297.2 431.1h2.8M297.2 448.9h2.8M298.6 415.5h2.8M298.6 434.5h2.8M299.9 405.2h2.8M299.9 421.8h2.8M301.4 390.5h2.8M301.4 409.5h2.8M303 375h2.8M303 395.2h2.8M304.6 377.5h2.8M304.6 402.5h2.8M306.2 370.8h2.8M306.2 390h2.8M307.7 377h2.8M307.7 393.2h2.8M308.9 383.2h2.8M308.9 400.8h2.8M310.1 358.5h2.8M310.1 397.5h2.8M311.7 376h2.8M311.7 391.2h2.8M313.2 368.7h2.8M313.2 388.9h2.8M314.8 411.8h2.8M314.8 429.4h2.8M316.4 380.3h2.8M316.4 400.3h2.8M317.8 391.7h2.8M317.8 408.3h2.8M319.2 395h2.8M319.2 414.6h2.8M320.6 406.3h2.8M320.6 423.7h2.8M322.1 420.8h2.8M322.1 439.2h2.8M324.3 444.2h2.8M324.3 464.2h2.8M325.8 436.5h2.8M325.8 453.5h2.8M327.4 429.8h2.8M327.4 442.8h2.8M329.1 433.9h2.8M329.1 446.1h2.8M330.6 422.8h2.8M330.6 441.2h2.8M331.4 442h2.8M331.4 456.8h2.8M332.1 419.8h2.8M332.1 432.4h2.8M334.5 416.6h2.8M334.5 434h2.8M336.1 410.8h2.8M336.1 425.2h2.8M337.7 412.3h2.8M337.7 427.3h2.8M339.6 420.3h2.8M339.6 435.7h2.8M341.1 427.4h2.8M341.1 438.6h2.8M342.6 432.3h2.8M342.6 443.7h2.8M344.6 432.9h2.8M344.6 447.1h2.8M346.3 444.5h2.8M346.3 454.3h2.8M347.1 438.3h2.8M347.1 451.7h2.8M348.7 447.1h2.8M348.7 456.5h2.8M351 446.2h2.8M351 459h2.8M352.6 448.6h2.8M352.6 461.4h2.8M354.1 449.9h2.8M354.1 464.1h2.8M355.8 447.4h2.8M355.8 461h2.8M357.3 453.1h2.8M357.3 464.7h2.8M359.1 457.1h2.8M359.1 466.9h2.8M360.6 460.3h2.8M360.6 469.7h2.8M362.1 458.7h2.8M362.1 470.1h2.8M363.6 458.7h2.8M363.6 470.1h2.8M365.6 463.6h2.8M365.6 472.4h2.8M367.4 455.3h2.8M367.4 468.7h2.8M369.2 459.6h2.8M369.2 470.8h2.8M370.9 448.9h2.8M370.9 461.1h2.8M372.3 445.5h2.8M372.3 454.9h2.8M373.9 438.3h2.8M373.9 447.9h2.8M376.2 439h2.8M376.2 447.2h2.8M377.8 457h2.8M377.8 467h2.8M379.4 453.3h2.8M379.4 462.7h2.8M381 462.5h2.8M381 472.7h2.8M382.5 463.3h2.8M382.5 473.3h2.8M383.6 465.8h2.8M383.6 478.2h2.8M384.9 473.1h2.8M384.9 485.7h2.8M386.1 467.6h2.8M386.1 476.4h2.8M387.3 464.2h2.8M387.3 474h2.8M388.6 467.7h2.8M388.6 476.3h2.8M389.6 471.4h2.8M389.6 482.6h2.8M390.8 463.6h2.8M390.8 476.4h2.8M392 468.7h2.8M392 477.5h2.8M393.9 462.5h2.8M393.9 474.1h2.8M395.9 467h2.8M395.9 476h2.8M397 461.2h2.8M397 468.8h2.8M398 455.6h2.8M398 467h2.8M400.2 452.2h2.8M400.2 461.4h2.8M402.6 467h2.8M402.6 475.4h2.8M405 464h2.8M405 473.6h2.8M406.9 465.3h2.8M406.9 473.9h2.8M409.5 460.9h2.8M409.5 470.3h2.8M411.9 464.8h2.8M411.9 474.4h2.8M414.3 456.9h2.8M414.3 466.3h2.8M416.5 479.4h2.8M416.5 489.6h2.8M418.6 469.2h2.8M418.6 478h2.8M421 466.5h2.8M421 474.3h2.8M423.4 469.7h2.8M423.4 477.5h2.8M425.8 474.5h2.8M425.8 482.3h2.8M428.2 484.7h2.8M428.2 494.5h2.8M430.3 493.1h2.8M430.3 502.1h2.8M432.5 495.2h2.8M432.5 506.4h2.8M435.1 485.5h2.8M435.1 495.3h2.8M437.3 485.6h2.8M437.3 496.2h2.8M439.9 485.6h2.8M439.9 497.6h2.8M442.1 476.5h2.8M442.1 484.1h2.8M444.5 482h2.8M444.5 489.2h2.8M446.6 488.1h2.8M446.6 495.9h2.8M449 488.3h2.8M449 497.3h2.8M451.4 487.5h2.8M451.4 497.5h2.8M453.8 486.6h2.8M453.8 497.4h2.8M456.2 488.1h2.8M456.2 496.9h2.8M458.6 494.1h2.8M458.6 505.9h2.8M460.7 500.1h2.8M460.7 507.3h2.8M463.1 485.7h2.8M463.1 496.7h2.8M465.5 489.6h2.8M465.5 497.6h2.8M467.8 489.2h2.8M467.8 500.4h2.8M470.2 504.4h2.8M470.2 511.6h2.8M472.6 496.6h2.8M472.6 508.2h2.8M475.1 500h2.8M475.1 510.6h2.8M477 495.4h2.8M477 507h2.8M479.5 500.7h2.8M479.5 510.5h2.8M481.5 496.9h2.8M481.5 504.7h2.8M483.9 493.5h2.8M483.9 504.9h2.8M486.3 504.7h2.8M486.3 513.7h2.8M488.7 506.7h2.8M488.7 514.1h2.8M491.1 501.5h2.8M491.1 511.3h2.8M493.5 501.4h2.8M493.5 510.6h2.8M495.9 501.9h2.8M495.9 510.9h2.8M498.2 499.4h2.8M498.2 507h2.8M500.3 500h2.8M500.3 507.4h2.8M502.7 504h2.8M502.7 513.6h2.8M505.1 504h2.8M505.1 513h2.8M507.5 505.1h2.8M507.5 512.5h2.8M509.9 510.8h2.8M509.9 519.6h2.8M512.3 507.8h2.8M512.3 517.8h2.8M514.2 507h2.8M514.2 517h2.8M516.3 512h2.8M516.3 521h2.8M518.7 506.1h2.8M518.7 514.7h2.8" stroke="#1f3d98" stroke-width="1.2" fill="none"/><g fill="#183692"><circle cx="281" cy="425" r="1.75"/><circle cx="281.6" cy="419.8" r="1.75"/><circle cx="283.1" cy="415.8" r="1.75"/><circle cx="284.7" cy="410.3" r="1.75"/><circle cx="286.3" cy="403.2" r="1.75"/><circle cx="287.8" cy="412" r="1.75"/><circle cx="289" cy="425" r="1.75"/><circle cx="290.2" cy="445" r="1.75"/><circle cx="291" cy="439.5" r="1.75"/><circle cx="292.4" cy="455" r="1.75"/><circle cx="293.4" cy="460.5" r="1.75"/><circle cx="295" cy="464.4" r="1.75"/><circle cx="295.7" cy="426.9" r="1.75"/><circle cx="297.3" cy="445.5" r="1.75"/><circle cx="298.6" cy="440" r="1.75"/><circle cx="300" cy="425" r="1.75"/><circle cx="301.3" cy="413.5" r="1.75"/><circle cx="302.8" cy="400" r="1.75"/><circle cx="304.4" cy="385.1" r="1.75"/><circle cx="306" cy="390" r="1.75"/><circle cx="307.6" cy="380.4" r="1.75"/><circle cx="309.1" cy="385.1" r="1.75"/><circle cx="310.3" cy="392" r="1.75"/><circle cx="311.5" cy="378" r="1.75"/><circle cx="313.1" cy="383.6" r="1.75"/><circle cx="314.6" cy="378.8" r="1.75"/><circle cx="316.2" cy="420.6" r="1.75"/><circle cx="317.8" cy="390.3" r="1.75"/><circle cx="319.2" cy="400" r="1.75"/><circle cx="320.6" cy="404.8" r="1.75"/><circle cx="322" cy="415" r="1.75"/><circle cx="323.5" cy="430" r="1.75"/><circle cx="325.7" cy="454.2" r="1.75"/><circle cx="327.2" cy="445" r="1.75"/><circle cx="328.8" cy="436.3" r="1.75"/><circle cx="330.5" cy="440" r="1.75"/><circle cx="332" cy="432" r="1.75"/><circle cx="332.8" cy="449.4" r="1.75"/><circle cx="333.5" cy="426.1" r="1.75"/><circle cx="335.9" cy="425.3" r="1.75"/><circle cx="337.5" cy="418" r="1.75"/><circle cx="339.1" cy="419.8" r="1.75"/><circle cx="341" cy="428" r="1.75"/><circle cx="342.5" cy="433" r="1.75"/><circle cx="344" cy="438" r="1.75"/><circle cx="346" cy="440" r="1.75"/><circle cx="347.7" cy="449.4" r="1.75"/><circle cx="348.5" cy="445" r="1.75"/><circle cx="350.1" cy="451.8" r="1.75"/><circle cx="352.4" cy="452.6" r="1.75"/><circle cx="354" cy="455" r="1.75"/><circle cx="355.5" cy="457" r="1.75"/><circle cx="357.2" cy="454.2" r="1.75"/><circle cx="358.7" cy="458.9" r="1.75"/><circle cx="360.5" cy="462" r="1.75"/><circle cx="362" cy="465" r="1.75"/><circle cx="363.5" cy="464.4" r="1.75"/><circle cx="365" cy="464.4" r="1.75"/><circle cx="367" cy="468" r="1.75"/><circle cx="368.8" cy="462" r="1.75"/><circle cx="370.6" cy="465.2" r="1.75"/><circle cx="372.3" cy="455" r="1.75"/><circle cx="373.7" cy="450.2" r="1.75"/><circle cx="375.3" cy="443.1" r="1.75"/><circle cx="377.6" cy="443.1" r="1.75"/><circle cx="379.2" cy="462" r="1.75"/><circle cx="380.8" cy="458" r="1.75"/><circle cx="382.4" cy="467.6" r="1.75"/><circle cx="383.9" cy="468.3" r="1.75"/><circle cx="385" cy="472" r="1.75"/><circle cx="386.3" cy="479.4" r="1.75"/><circle cx="387.5" cy="472" r="1.75"/><circle cx="388.7" cy="469.1" r="1.75"/><circle cx="390" cy="472" r="1.75"/><circle cx="391" cy="477" r="1.75"/><circle cx="392.2" cy="470" r="1.75"/><circle cx="393.4" cy="473.1" r="1.75"/><circle cx="395.3" cy="468.3" r="1.75"/><circle cx="397.3" cy="471.5" r="1.75"/><circle cx="398.4" cy="465" r="1.75"/><circle cx="399.4" cy="461.3" r="1.75"/><circle cx="401.6" cy="456.8" r="1.75"/><circle cx="404" cy="471.2" r="1.75"/><circle cx="406.4" cy="468.8" r="1.75"/><circle cx="408.3" cy="469.6" r="1.75"/><circle cx="410.9" cy="465.6" r="1.75"/><circle cx="413.3" cy="469.6" r="1.75"/><circle cx="415.7" cy="461.6" r="1.75"/><circle cx="417.9" cy="484.5" r="1.75"/><circle cx="420" cy="473.6" r="1.75"/><circle cx="422.4" cy="470.4" r="1.75"/><circle cx="424.8" cy="473.6" r="1.75"/><circle cx="427.2" cy="478.4" r="1.75"/><circle cx="429.6" cy="489.6" r="1.75"/><circle cx="431.7" cy="497.6" r="1.75"/><circle cx="433.9" cy="500.8" r="1.75"/><circle cx="436.5" cy="490.4" r="1.75"/><circle cx="438.7" cy="490.9" r="1.75"/><circle cx="441.3" cy="491.6" r="1.75"/><circle cx="443.5" cy="480.3" r="1.75"/><circle cx="445.9" cy="485.6" r="1.75"/><circle cx="448" cy="492" r="1.75"/><circle cx="450.4" cy="492.8" r="1.75"/><circle cx="452.8" cy="492.5" r="1.75"/><circle cx="455.2" cy="492" r="1.75"/><circle cx="457.6" cy="492.5" r="1.75"/><circle cx="460" cy="500" r="1.75"/><circle cx="462.1" cy="503.7" r="1.75"/><circle cx="464.5" cy="491.2" r="1.75"/><circle cx="466.9" cy="493.6" r="1.75"/><circle cx="469.2" cy="494.8" r="1.75"/><circle cx="471.6" cy="508" r="1.75"/><circle cx="474" cy="502.4" r="1.75"/><circle cx="476.5" cy="505.3" r="1.75"/><circle cx="478.4" cy="501.2" r="1.75"/><circle cx="480.9" cy="505.6" r="1.75"/><circle cx="482.9" cy="500.8" r="1.75"/><circle cx="485.3" cy="499.2" r="1.75"/><circle cx="487.7" cy="509.2" r="1.75"/><circle cx="490.1" cy="510.4" r="1.75"/><circle cx="492.5" cy="506.4" r="1.75"/><circle cx="494.9" cy="506" r="1.75"/><circle cx="497.3" cy="506.4" r="1.75"/><circle cx="499.6" cy="503.2" r="1.75"/><circle cx="501.7" cy="503.7" r="1.75"/><circle cx="504.1" cy="508.8" r="1.75"/><circle cx="506.5" cy="508.5" r="1.75"/><circle cx="508.9" cy="508.8" r="1.75"/><circle cx="511.3" cy="515.2" r="1.75"/><circle cx="513.7" cy="512.8" r="1.75"/><circle cx="515.6" cy="512" r="1.75"/><circle cx="517.7" cy="516.5" r="1.75"/><circle cx="520.1" cy="510.4" r="1.75"/></g><path d="M280.8 429C281.1 428.5 281.8 427.8 282.4 426.1C283 424.4 283.9 421.6 284.7 419C285.5 416.4 286.4 410.3 287.1 410.3C287.8 410.3 288.2 415.4 288.7 419C289.2 422.6 289.8 425 290.2 431.6C290.6 438.2 290.6 451.2 291 458.9C291.4 466.6 292.1 473.6 292.6 477.8C293.1 482 293.7 484.1 294.2 484.1C294.7 484.1 295.1 481.2 295.7 477.8C296.3 474.4 297.1 468.3 297.6 463.6C298.1 458.9 298.4 453.2 298.9 449.4C299.4 445.6 300 445.3 300.5 441C301 436.7 301.5 428.7 302 423.7C302.5 418.7 303.1 414.8 303.6 411.1C304.1 407.4 304.5 404.4 305.2 401.7C305.9 398.9 306.8 396.5 307.6 394.6C308.4 392.8 309.1 392.1 309.9 390.6C310.7 389.2 311.6 386.8 312.3 385.9C313 385 313.4 384.6 313.9 385.1C314.4 385.6 314.9 386.6 315.4 389.1C315.9 391.6 316.5 396.8 317 400.1C317.5 403.4 318.1 407.1 318.6 408.8C319.1 410.5 319.7 408.9 320.2 410.3C320.7 411.7 321.2 414.6 321.7 417.4C322.2 420.2 322.8 423.1 323.3 426.9C323.8 430.7 324.2 437 324.9 440C325.5 443 326.5 444.2 327.2 444.7C327.9 445.2 328.4 444.8 328.8 443.1C329.2 441.4 329.1 437.9 329.6 434.7C330.1 431.5 331.2 426.4 332 423.7C332.8 420.9 333.5 420.2 334.3 418.2C335.1 416.2 336 413.3 336.7 411.9C337.4 410.4 337.8 409 338.3 409.5C338.8 410 339.3 414.3 339.8 415.1C340.3 415.9 340.7 414.8 341.3 414.4C341.9 414 342.7 412.1 343.3 412.5C343.9 412.9 344.6 415.5 345.2 417.1C345.8 418.7 346.5 419.9 347.2 422.3C347.9 424.7 348.6 429.1 349.2 431.5C349.8 433.9 349.9 436.1 350.5 436.7C351.1 437.3 351.9 434.9 352.5 435.4C353.1 435.8 353.9 438.3 354.4 439.4C354.9 440.5 355.1 441.8 355.7 442C356.2 442.2 357 440.1 357.7 440.7C358.4 441.3 359 443.5 359.7 445.9C360.4 448.3 361 453.4 361.7 455.1C362.4 456.9 362.9 456.4 363.6 456.4C364.4 456.4 365.3 456.2 366.2 455.1C367.1 454 368 452.3 368.9 449.9C369.8 447.5 370.7 443.2 371.5 440.7C372.3 438.2 372.9 436 373.5 434.8C374.1 433.6 374.6 433.1 375.2 433.5C375.8 433.9 376.7 436.3 377.4 437.4C378.1 438.5 378.7 437.5 379.4 440C380.1 442.5 380.9 448.9 381.6 452.6C382.4 456.3 383.2 459.9 383.9 462C384.5 464.1 384.8 465.4 385.5 465.2C386.2 464.9 387.1 462.1 387.9 460.5C388.7 458.9 389.3 456 390.2 455.7C391.1 455.4 392.5 458.5 393.4 458.9C394.3 459.3 395 459.1 395.7 458C396.4 456.9 396.9 454.4 397.7 452.5C398.5 450.6 399.6 448.2 400.4 446.6C401.2 445.1 401.5 443.4 402.4 443.2C403.3 443 404.5 444.7 405.6 445.6C406.7 446.5 407.6 448.1 408.8 448.8C410 449.5 411.6 449.5 412.8 449.9C414 450.3 414.9 450.9 416 451.2C417.1 451.5 418.1 451.2 419.2 451.5C420.3 451.8 421.5 452.1 422.4 452.8C423.3 453.6 424 454.4 424.8 456C425.6 457.6 426.4 459.7 427.2 462.4C428 465.1 428.8 469.1 429.6 472C430.4 474.9 431.2 478 432 480C432.8 482 433.7 484 434.4 484C435.1 484 435.5 482 436 480C436.5 478 436.9 474.1 437.6 472C438.3 469.9 439.1 468.4 440 467.2C440.9 466 442 465.2 442.9 464.8C443.8 464.4 444.6 464.4 445.6 464.8C446.6 465.2 447.7 466.3 448.8 467.2C449.9 468.1 450.9 469.3 452 470.4C453.1 471.5 454.1 472.6 455.2 473.6C456.3 474.6 457.3 475.7 458.4 476.5C459.5 477.3 460.5 477.8 461.6 478.4C462.7 479 463.7 479.7 464.8 480.3C465.9 480.9 467.1 481.3 468 482C468.9 482.7 469.5 483.8 470.4 484.5C471.3 485.2 472.5 485.9 473.6 486.4C474.7 486.9 475.7 486.8 476.8 487.7C477.9 488.6 479 491 480.1 492C481.2 493 482.2 493.3 483.3 493.6C484.4 493.9 485.4 493.9 486.5 493.6C487.6 493.3 488.6 491.7 489.7 491.6C490.8 491.5 491.8 492.4 492.9 492.8C494 493.2 495 493.5 496.1 494.1C497.2 494.7 498.2 495.7 499.3 496.4C500.4 497.1 501.4 497.7 502.5 498.4C503.6 499.1 504.6 499.8 505.7 500.5C506.8 501.2 507.8 502.1 508.9 502.4C510 502.7 511 502.4 512.1 502.4C513.2 502.4 514.2 502.3 515.3 502.4C516.4 502.5 517.6 502.8 518.5 503.2C519.4 503.6 520.4 504.3 520.8 504.5" stroke="#f0bc00" stroke-width="1.8" fill="none" stroke-linejoin="round"/><path d="M280.8 461.5C281.1 461.1 281.8 459.9 282.4 458.9C283 457.9 283.9 457 284.7 455.7C285.5 454.4 286.4 451 287.1 451C287.8 451 288.2 454.1 288.7 455.7C289.2 457.3 289.7 457.9 290.2 460.5C290.7 463.1 291.3 467.3 291.8 471.5C292.3 475.7 292.9 482.1 293.4 485.7C293.9 489.2 294.5 492.3 295 492.8C295.5 493.3 296 490 296.5 488.8C297 487.6 297.6 488.6 298.1 485.7C298.6 482.8 299.2 476.5 299.7 471.5C300.1 466.5 300.5 462.9 300.8 455.7C301.1 448.5 300.8 435 301.3 428.4C301.8 421.8 302.8 419.2 303.6 415.8C304.4 412.4 305.3 410.6 306 408C306.7 405.4 307.1 402.2 307.6 400.1C308.1 398 308.6 395.1 309.1 395.4C309.6 395.7 310.2 398.8 310.7 401.7C311.2 404.6 311.8 409 312.3 412.7C312.8 416.4 313.4 421.3 313.9 423.7C314.4 426.1 314.9 424.8 315.4 426.9C315.9 429 316.5 434.5 317 436.3C317.5 438.1 318.2 437.3 318.6 437.9C319 438.5 319 438.9 319.4 440C319.8 441.1 320.2 444.3 320.9 444.7C321.5 445.1 322.5 441.6 323.3 442.4C324.1 443.2 324.9 447.3 325.7 449.4C326.5 451.5 327.2 453.8 328 455C328.8 456.2 329.7 455.7 330.4 456.5C331.1 457.3 331.6 459.6 332.3 459.7C333 459.8 333.6 459 334.3 457.3C335 455.6 335.7 452.1 336.4 449.4C337.1 446.7 337.6 444.5 338.3 441C339 437.5 339.8 431.7 340.6 428.4C341.4 425.1 342.4 422.8 343 421.4C343.6 419.9 343.4 419.4 343.9 419.7C344.4 420 345.2 421 345.9 423C346.6 425 347.2 428.1 347.9 431.5C348.5 434.9 349.3 440.3 349.8 443.3C350.3 446.3 350.4 446.3 350.9 449.4C351.4 452.5 352.1 458.4 352.8 462C353.5 465.6 354.1 467.8 354.8 470.7C355.5 473.6 356.6 478.2 357.2 479.4C357.8 480.6 358.2 480.2 358.7 477.8C359.2 475.4 359.9 468.6 360.3 465.2C360.7 461.8 360.7 460.7 361 457.7C361.3 454.7 361.8 449.8 362.3 447.2C362.8 444.6 363.3 442 363.9 442C364.4 442 365.2 444.9 365.6 447.2C366.1 449.5 366.2 452.2 366.6 455.7C367 459.2 367.7 465.4 368.2 468.3C368.7 471.2 369.1 472.7 369.8 473.1C370.5 473.5 371.3 470.8 372.1 470.7C372.9 470.6 373.7 472 374.5 472.3C375.3 472.6 376.1 473 376.9 472.3C377.7 471.6 378.4 470.3 379.2 468.3C380 466.3 380.8 462.5 381.6 460.5C382.4 458.5 383.1 457.3 383.9 456.5C384.7 455.7 385.5 455.6 386.3 455.7C387.1 455.8 387.9 457.8 388.7 457.3C389.5 456.8 390.2 454 391 452.6C391.8 451.2 392.6 449.6 393.4 448.7C394.2 447.8 394.9 447 395.7 447.1C396.5 447.2 397.4 447.9 398.1 449.4C398.8 450.9 399.4 453.6 400 456C400.6 458.4 401.1 460 401.6 464C402.1 468 402.7 475.2 403.2 480C403.7 484.8 404.3 490.7 404.8 492.8C405.3 494.9 405.7 494.9 406.4 492.8C407.1 490.7 408 485.1 408.8 480C409.6 474.9 410.4 467.2 411.2 462.4C412 457.6 412.8 453.5 413.6 451.2C414.4 448.9 415.2 448.9 416 448.8C416.8 448.7 417.6 449.6 418.4 450.4C419.2 451.2 420 451.3 420.8 453.6C421.6 455.9 422.4 460.4 423.2 464C424 467.6 424.8 472.7 425.6 475.2C426.4 477.7 427.2 478.7 428 479.2C428.8 479.7 429.6 479.1 430.4 478.4C431.2 477.7 432.1 475.6 432.8 475.2C433.5 474.8 433.9 474.9 434.4 476C434.9 477.1 435.3 480.1 436 481.6C436.7 483.1 437.5 484.1 438.4 484.8C439.3 485.5 440.5 485.9 441.6 485.6C442.7 485.3 443.7 484 444.8 483.2C445.9 482.4 447.1 480.9 448 480.8C448.9 480.7 449.7 481.7 450.4 482.4C451.1 483.1 451.5 484.9 452 484.8C452.5 484.7 452.9 482.7 453.6 481.6C454.3 480.5 455.1 478.8 456 478.4C456.9 478 458.1 478.6 459.2 479.2C460.3 479.8 461.3 480.8 462.4 482C463.5 483.2 464.5 484.9 465.6 486.4C466.7 487.9 467.7 489.5 468.8 491.2C469.9 492.9 470.9 495.7 472 496.8C473.1 497.9 474.1 497.8 475.2 497.6C476.3 497.4 477.3 496.1 478.4 495.7C479.5 495.3 480.6 494.8 481.7 495.2C482.8 495.6 483.8 497.7 484.9 498.4C486 499.1 487 499.5 488.1 499.6C489.2 499.7 490.2 499.1 491.3 498.9C492.4 498.7 493.4 498.3 494.5 498.4C495.6 498.5 496.4 499.2 497.7 499.6C499 500 500.9 500.2 502.5 500.8C504.1 501.4 505.7 502.3 507.3 503.2C508.9 504.1 510.8 505.3 512.1 506.4C513.4 507.5 514.2 509.5 515.3 509.6C516.4 509.7 517.6 508 518.5 507.2C519.4 506.4 520.4 505.4 520.8 505" stroke="#c20818" stroke-width="1.8" fill="none" stroke-linejoin="round"/></g><clipPath id="c22"><rect x="521.1" y="358.4" width="240.2" height="168"/></clipPath><g clip-path="url(#c22)"><path d="M520 412.4V447.6M521.4 396V429.6M522.2 443.7V473.1M523 423.8V466.2M523.8 438.5V465.5M524.6 414.9V450.7M525.4 418.6V461.4M526.2 437.9V466.1M527.8 412.9V449.5M528.6 426.2V463.8M529.9 411.5V438.9M531 434.6V467.8M532.6 418.2V457.2M533.4 430.8V465.2M534.2 406.8V446M535 431.8V461M536.3 445.5V476.1M537.4 465.1V493.3M539 398.4V433.6M540.6 400.1V442.5M542 421.8V458.2M543.2 410.2V449.8M544.6 384.9V417.7M546 400.5V439.5M547.2 421.1V448.9M548.1 409.3V440.3M549.4 448.7V486.3M550.6 420.8V459.2M552.3 395.9V428.9M553.2 416.4V443.6M554.2 387V417.2M555.8 447V476.2M557.4 458.4V488.8M558.7 426.7V466.1M560.3 443.2V472M561.9 431.1V471.3M563.8 444.1V483.9M565.4 454.3V480.1M567 430.9V461.9M569 430.1V462.7M570.6 466.1V490.7M572.6 428.5V459.5M574.2 430.4V468.8M576.3 436.1V461.5M578 423.6V456.4M579.8 425.4V450.6M581.4 417.6V449.6M583 421.7V458.3M585 411.9V437.7M586.8 426.7V449.3M588.6 431.4V455M590.7 431.4V461.4M592.3 428.2V450.4M592.6 434.9V457.9M595 409.6V438.4M596.6 418.4V453M598.7 403V430M600 426.7V453.3M601 433.1V462.9M601.9 432.2V454.2M603.5 425.8V454.2M605.5 452V474.4M606.7 421.9V450.1M608.7 411.6V443.8M610 429.9V450.1M611.5 431.6V458M612.7 418.6V445.4M614.7 415.8V436.4M616.5 429.1V450.9M618.3 429.8V460.2M620 417V447M621.5 408.8V428M623.1 433.5V459.3M624.8 420.9V449.1M626 412.1V431.9M628.2 445.8V469.4M630.3 445.1V462.1M631.8 429.9V450.1M633 439.6V462.8M635.1 446.6V468.6M637.5 433.1V456.5M639 442V458M640.8 447.6V466M643.2 447.4V471M645.6 452V472.8M648 440.3V459.7M650.4 446.6V465.4M652.8 440.5V465.1M654.5 434.8V455.2M656 454.1V469.1M658.9 460.7V483.3M660.2 446V464M661.6 440.1V459.1M663.7 412.8V429.6M665.9 431.3V450.3M667.8 446.1V463.9M669.6 461V476.6M671.2 443.2V464M672.8 452.2V467.8M674.4 437.7V459.9M676 447.6V462.4M677.6 440.9V463.1M679.2 448.8V471.2M680.8 447.1V466.5M682.9 446.9V468.3M684.6 441.6V458.4M686.4 431.1V452.7M688.8 462V480.4M690 446.7V463.3M691.2 431.5V455.1M693.2 462.1V480.3M695.2 461.5V479.3M697.3 458.4V480.8M698.8 451.1V468.9M700.5 444.1V464.7M702.8 461.7V477.5M704.8 453.9V476.1M706.9 464.5V481.1M709.2 464.7V479.3M711.7 451.6V474.8M714 464.9V480.7M716 462.1V485.1M718.4 453.2V476.4M720.9 468.6V488.2M723.3 468.2V482.2M725.7 466.3V480.9M728.1 466.5V482.3M729.8 459.3V476.7M731.6 453.9V473.5M733 458.6V481.4M734.5 502.2V519.4M736.9 470.8V486M738.9 468.1V487.1M740.9 460V475M743.3 474.7V489.3M745.7 467.4V486.2M747.6 460V480M749.7 475.3V489.5M752.1 467.6V485.4M754 460.1V480.1M756.9 468.2V488.6M759.3 469.9V486.9M760.9 460.4V482" stroke="#2e4ea4" stroke-width="1.1" fill="none"/><path d="M518.6 412.4h2.8M518.6 447.6h2.8M520 396h2.8M520 429.6h2.8M520.8 443.7h2.8M520.8 473.1h2.8M521.6 423.8h2.8M521.6 466.2h2.8M522.4 438.5h2.8M522.4 465.5h2.8M523.2 414.9h2.8M523.2 450.7h2.8M524 418.6h2.8M524 461.4h2.8M524.8 437.9h2.8M524.8 466.1h2.8M526.4 412.9h2.8M526.4 449.5h2.8M527.2 426.2h2.8M527.2 463.8h2.8M528.5 411.5h2.8M528.5 438.9h2.8M529.6 434.6h2.8M529.6 467.8h2.8M531.2 418.2h2.8M531.2 457.2h2.8M532 430.8h2.8M532 465.2h2.8M532.8 406.8h2.8M532.8 446h2.8M533.6 431.8h2.8M533.6 461h2.8M534.9 445.5h2.8M534.9 476.1h2.8M536 465.1h2.8M536 493.3h2.8M537.6 398.4h2.8M537.6 433.6h2.8M539.2 400.1h2.8M539.2 442.5h2.8M540.6 421.8h2.8M540.6 458.2h2.8M541.8 410.2h2.8M541.8 449.8h2.8M543.2 384.9h2.8M543.2 417.7h2.8M544.6 400.5h2.8M544.6 439.5h2.8M545.8 421.1h2.8M545.8 448.9h2.8M546.7 409.3h2.8M546.7 440.3h2.8M548 448.7h2.8M548 486.3h2.8M549.2 420.8h2.8M549.2 459.2h2.8M550.9 395.9h2.8M550.9 428.9h2.8M551.8 416.4h2.8M551.8 443.6h2.8M552.8 387h2.8M552.8 417.2h2.8M554.4 447h2.8M554.4 476.2h2.8M556 458.4h2.8M556 488.8h2.8M557.3 426.7h2.8M557.3 466.1h2.8M558.9 443.2h2.8M558.9 472h2.8M560.5 431.1h2.8M560.5 471.3h2.8M562.4 444.1h2.8M562.4 483.9h2.8M564 454.3h2.8M564 480.1h2.8M565.6 430.9h2.8M565.6 461.9h2.8M567.6 430.1h2.8M567.6 462.7h2.8M569.2 466.1h2.8M569.2 490.7h2.8M571.2 428.5h2.8M571.2 459.5h2.8M572.8 430.4h2.8M572.8 468.8h2.8M574.9 436.1h2.8M574.9 461.5h2.8M576.6 423.6h2.8M576.6 456.4h2.8M578.4 425.4h2.8M578.4 450.6h2.8M580 417.6h2.8M580 449.6h2.8M581.6 421.7h2.8M581.6 458.3h2.8M583.6 411.9h2.8M583.6 437.7h2.8M585.4 426.7h2.8M585.4 449.3h2.8M587.2 431.4h2.8M587.2 455h2.8M589.3 431.4h2.8M589.3 461.4h2.8M590.9 428.2h2.8M590.9 450.4h2.8M591.2 434.9h2.8M591.2 457.9h2.8M593.6 409.6h2.8M593.6 438.4h2.8M595.2 418.4h2.8M595.2 453h2.8M597.3 403h2.8M597.3 430h2.8M598.6 426.7h2.8M598.6 453.3h2.8M599.6 433.1h2.8M599.6 462.9h2.8M600.5 432.2h2.8M600.5 454.2h2.8M602.1 425.8h2.8M602.1 454.2h2.8M604.1 452h2.8M604.1 474.4h2.8M605.3 421.9h2.8M605.3 450.1h2.8M607.3 411.6h2.8M607.3 443.8h2.8M608.6 429.9h2.8M608.6 450.1h2.8M610.1 431.6h2.8M610.1 458h2.8M611.3 418.6h2.8M611.3 445.4h2.8M613.3 415.8h2.8M613.3 436.4h2.8M615.1 429.1h2.8M615.1 450.9h2.8M616.9 429.8h2.8M616.9 460.2h2.8M618.6 417h2.8M618.6 447h2.8M620.1 408.8h2.8M620.1 428h2.8M621.7 433.5h2.8M621.7 459.3h2.8M623.4 420.9h2.8M623.4 449.1h2.8M624.6 412.1h2.8M624.6 431.9h2.8M626.8 445.8h2.8M626.8 469.4h2.8M628.9 445.1h2.8M628.9 462.1h2.8M630.4 429.9h2.8M630.4 450.1h2.8M631.6 439.6h2.8M631.6 462.8h2.8M633.7 446.6h2.8M633.7 468.6h2.8M636.1 433.1h2.8M636.1 456.5h2.8M637.6 442h2.8M637.6 458h2.8M639.4 447.6h2.8M639.4 466h2.8M641.8 447.4h2.8M641.8 471h2.8M644.2 452h2.8M644.2 472.8h2.8M646.6 440.3h2.8M646.6 459.7h2.8M649 446.6h2.8M649 465.4h2.8M651.4 440.5h2.8M651.4 465.1h2.8M653.1 434.8h2.8M653.1 455.2h2.8M654.6 454.1h2.8M654.6 469.1h2.8M657.5 460.7h2.8M657.5 483.3h2.8M658.8 446h2.8M658.8 464h2.8M660.2 440.1h2.8M660.2 459.1h2.8M662.3 412.8h2.8M662.3 429.6h2.8M664.5 431.3h2.8M664.5 450.3h2.8M666.4 446.1h2.8M666.4 463.9h2.8M668.2 461h2.8M668.2 476.6h2.8M669.8 443.2h2.8M669.8 464h2.8M671.4 452.2h2.8M671.4 467.8h2.8M673 437.7h2.8M673 459.9h2.8M674.6 447.6h2.8M674.6 462.4h2.8M676.2 440.9h2.8M676.2 463.1h2.8M677.8 448.8h2.8M677.8 471.2h2.8M679.4 447.1h2.8M679.4 466.5h2.8M681.5 446.9h2.8M681.5 468.3h2.8M683.2 441.6h2.8M683.2 458.4h2.8M685 431.1h2.8M685 452.7h2.8M687.4 462h2.8M687.4 480.4h2.8M688.6 446.7h2.8M688.6 463.3h2.8M689.8 431.5h2.8M689.8 455.1h2.8M691.8 462.1h2.8M691.8 480.3h2.8M693.8 461.5h2.8M693.8 479.3h2.8M695.9 458.4h2.8M695.9 480.8h2.8M697.4 451.1h2.8M697.4 468.9h2.8M699.1 444.1h2.8M699.1 464.7h2.8M701.4 461.7h2.8M701.4 477.5h2.8M703.4 453.9h2.8M703.4 476.1h2.8M705.5 464.5h2.8M705.5 481.1h2.8M707.8 464.7h2.8M707.8 479.3h2.8M710.3 451.6h2.8M710.3 474.8h2.8M712.6 464.9h2.8M712.6 480.7h2.8M714.6 462.1h2.8M714.6 485.1h2.8M717 453.2h2.8M717 476.4h2.8M719.5 468.6h2.8M719.5 488.2h2.8M721.9 468.2h2.8M721.9 482.2h2.8M724.3 466.3h2.8M724.3 480.9h2.8M726.7 466.5h2.8M726.7 482.3h2.8M728.4 459.3h2.8M728.4 476.7h2.8M730.2 453.9h2.8M730.2 473.5h2.8M731.6 458.6h2.8M731.6 481.4h2.8M733.1 502.2h2.8M733.1 519.4h2.8M735.5 470.8h2.8M735.5 486h2.8M737.5 468.1h2.8M737.5 487.1h2.8M739.5 460h2.8M739.5 475h2.8M741.9 474.7h2.8M741.9 489.3h2.8M744.3 467.4h2.8M744.3 486.2h2.8M746.2 460h2.8M746.2 480h2.8M748.3 475.3h2.8M748.3 489.5h2.8M750.7 467.6h2.8M750.7 485.4h2.8M752.6 460.1h2.8M752.6 480.1h2.8M755.5 468.2h2.8M755.5 488.6h2.8M757.9 469.9h2.8M757.9 486.9h2.8M759.5 460.4h2.8M759.5 482h2.8" stroke="#1f3d98" stroke-width="1.2" fill="none"/><g fill="#183692"><circle cx="520" cy="430" r="1.75"/><circle cx="521.4" cy="412.8" r="1.75"/><circle cx="522.2" cy="458.4" r="1.75"/><circle cx="523" cy="445" r="1.75"/><circle cx="523.8" cy="452" r="1.75"/><circle cx="524.6" cy="432.8" r="1.75"/><circle cx="525.4" cy="440" r="1.75"/><circle cx="526.2" cy="452" r="1.75"/><circle cx="527.8" cy="431.2" r="1.75"/><circle cx="528.6" cy="445" r="1.75"/><circle cx="529.9" cy="425.2" r="1.75"/><circle cx="531" cy="451.2" r="1.75"/><circle cx="532.6" cy="437.7" r="1.75"/><circle cx="533.4" cy="448" r="1.75"/><circle cx="534.2" cy="426.4" r="1.75"/><circle cx="535" cy="446.4" r="1.75"/><circle cx="536.3" cy="460.8" r="1.75"/><circle cx="537.4" cy="479.2" r="1.75"/><circle cx="539" cy="416" r="1.75"/><circle cx="540.6" cy="421.3" r="1.75"/><circle cx="542" cy="440" r="1.75"/><circle cx="543.2" cy="430" r="1.75"/><circle cx="544.6" cy="401.3" r="1.75"/><circle cx="546" cy="420" r="1.75"/><circle cx="547.2" cy="435" r="1.75"/><circle cx="548.1" cy="424.8" r="1.75"/><circle cx="549.4" cy="467.5" r="1.75"/><circle cx="550.6" cy="440" r="1.75"/><circle cx="552.3" cy="412.4" r="1.75"/><circle cx="553.2" cy="430" r="1.75"/><circle cx="554.2" cy="402.1" r="1.75"/><circle cx="555.8" cy="461.6" r="1.75"/><circle cx="557.4" cy="473.6" r="1.75"/><circle cx="558.7" cy="446.4" r="1.75"/><circle cx="560.3" cy="457.6" r="1.75"/><circle cx="561.9" cy="451.2" r="1.75"/><circle cx="563.8" cy="464" r="1.75"/><circle cx="565.4" cy="467.2" r="1.75"/><circle cx="567" cy="446.4" r="1.75"/><circle cx="569" cy="446.4" r="1.75"/><circle cx="570.6" cy="478.4" r="1.75"/><circle cx="572.6" cy="444" r="1.75"/><circle cx="574.2" cy="449.6" r="1.75"/><circle cx="576.3" cy="448.8" r="1.75"/><circle cx="578" cy="440" r="1.75"/><circle cx="579.8" cy="438" r="1.75"/><circle cx="581.4" cy="433.6" r="1.75"/><circle cx="583" cy="440" r="1.75"/><circle cx="585" cy="424.8" r="1.75"/><circle cx="586.8" cy="438" r="1.75"/><circle cx="588.6" cy="443.2" r="1.75"/><circle cx="590.7" cy="446.4" r="1.75"/><circle cx="592.3" cy="439.3" r="1.75"/><circle cx="592.6" cy="446.4" r="1.75"/><circle cx="595" cy="424" r="1.75"/><circle cx="596.6" cy="435.7" r="1.75"/><circle cx="598.7" cy="416.5" r="1.75"/><circle cx="600" cy="440" r="1.75"/><circle cx="601" cy="448" r="1.75"/><circle cx="601.9" cy="443.2" r="1.75"/><circle cx="603.5" cy="440" r="1.75"/><circle cx="605.5" cy="463.2" r="1.75"/><circle cx="606.7" cy="436" r="1.75"/><circle cx="608.7" cy="427.7" r="1.75"/><circle cx="610" cy="440" r="1.75"/><circle cx="611.5" cy="444.8" r="1.75"/><circle cx="612.7" cy="432" r="1.75"/><circle cx="614.7" cy="426.1" r="1.75"/><circle cx="616.5" cy="440" r="1.75"/><circle cx="618.3" cy="445" r="1.75"/><circle cx="620" cy="432" r="1.75"/><circle cx="621.5" cy="418.4" r="1.75"/><circle cx="623.1" cy="446.4" r="1.75"/><circle cx="624.8" cy="435" r="1.75"/><circle cx="626" cy="422" r="1.75"/><circle cx="628.2" cy="457.6" r="1.75"/><circle cx="630.3" cy="453.6" r="1.75"/><circle cx="631.8" cy="440" r="1.75"/><circle cx="633" cy="451.2" r="1.75"/><circle cx="635.1" cy="457.6" r="1.75"/><circle cx="637.5" cy="444.8" r="1.75"/><circle cx="639" cy="450" r="1.75"/><circle cx="640.8" cy="456.8" r="1.75"/><circle cx="643.2" cy="459.2" r="1.75"/><circle cx="645.6" cy="462.4" r="1.75"/><circle cx="648" cy="450" r="1.75"/><circle cx="650.4" cy="456" r="1.75"/><circle cx="652.8" cy="452.8" r="1.75"/><circle cx="654.5" cy="445" r="1.75"/><circle cx="656" cy="461.6" r="1.75"/><circle cx="658.9" cy="472" r="1.75"/><circle cx="660.2" cy="455" r="1.75"/><circle cx="661.6" cy="449.6" r="1.75"/><circle cx="663.7" cy="421.2" r="1.75"/><circle cx="665.9" cy="440.8" r="1.75"/><circle cx="667.8" cy="455" r="1.75"/><circle cx="669.6" cy="468.8" r="1.75"/><circle cx="671.2" cy="453.6" r="1.75"/><circle cx="672.8" cy="460" r="1.75"/><circle cx="674.4" cy="448.8" r="1.75"/><circle cx="676" cy="455" r="1.75"/><circle cx="677.6" cy="452" r="1.75"/><circle cx="679.2" cy="460" r="1.75"/><circle cx="680.8" cy="456.8" r="1.75"/><circle cx="682.9" cy="457.6" r="1.75"/><circle cx="684.6" cy="450" r="1.75"/><circle cx="686.4" cy="441.9" r="1.75"/><circle cx="688.8" cy="471.2" r="1.75"/><circle cx="690" cy="455" r="1.75"/><circle cx="691.2" cy="443.3" r="1.75"/><circle cx="693.2" cy="471.2" r="1.75"/><circle cx="695.2" cy="470.4" r="1.75"/><circle cx="697.3" cy="469.6" r="1.75"/><circle cx="698.8" cy="460" r="1.75"/><circle cx="700.5" cy="454.4" r="1.75"/><circle cx="702.8" cy="469.6" r="1.75"/><circle cx="704.8" cy="465" r="1.75"/><circle cx="706.9" cy="472.8" r="1.75"/><circle cx="709.2" cy="472" r="1.75"/><circle cx="711.7" cy="463.2" r="1.75"/><circle cx="714" cy="472.8" r="1.75"/><circle cx="716" cy="473.6" r="1.75"/><circle cx="718.4" cy="464.8" r="1.75"/><circle cx="720.9" cy="478.4" r="1.75"/><circle cx="723.3" cy="475.2" r="1.75"/><circle cx="725.7" cy="473.6" r="1.75"/><circle cx="728.1" cy="474.4" r="1.75"/><circle cx="729.8" cy="468" r="1.75"/><circle cx="731.6" cy="463.7" r="1.75"/><circle cx="733" cy="470" r="1.75"/><circle cx="734.5" cy="510.8" r="1.75"/><circle cx="736.9" cy="478.4" r="1.75"/><circle cx="738.9" cy="477.6" r="1.75"/><circle cx="740.9" cy="467.5" r="1.75"/><circle cx="743.3" cy="482" r="1.75"/><circle cx="745.7" cy="476.8" r="1.75"/><circle cx="747.6" cy="470" r="1.75"/><circle cx="749.7" cy="482.4" r="1.75"/><circle cx="752.1" cy="476.5" r="1.75"/><circle cx="754" cy="470.1" r="1.75"/><circle cx="756.9" cy="478.4" r="1.75"/><circle cx="759.3" cy="478.4" r="1.75"/><circle cx="760.9" cy="471.2" r="1.75"/></g><path d="M520.8 484C520.9 483.9 520.8 483.5 521.4 483.2C522 482.9 523.7 483.3 524.6 482.4C525.5 481.5 526.2 478.8 527 477.6C527.8 476.4 528.6 475.9 529.4 475.2C530.2 474.5 531.1 472.8 531.8 473.6C532.5 474.4 532.9 477.6 533.4 480C533.9 482.4 534.4 485.6 535 488C535.6 490.4 536.3 494.8 536.9 494.4C537.5 494 538 489.1 538.5 485.6C539 482.1 539.3 478.5 539.8 473.6C540.3 468.7 540.9 460.8 541.4 456C541.9 451.2 542.3 449.5 542.7 444.8C543.1 440.1 543.3 433.2 543.8 428C544.2 422.8 544.9 415.5 545.4 413.6C545.9 411.7 546.1 413.9 546.5 416.8C546.9 419.7 547.4 427 547.8 431.2C548.1 435.4 548.3 438.9 548.6 442C548.9 445.1 549 447 549.4 449.6C549.8 452.2 550.3 454.4 551 457.6C551.7 460.8 552.6 465.1 553.4 468.8C554.1 472.5 554.8 477.1 555.5 480C556.2 482.9 556.8 486.4 557.4 486.4C558 486.4 558.4 480.7 559 480C559.6 479.3 560.3 481.5 561 482.4C561.7 483.3 562.3 484.8 563 485.6C563.7 486.4 564.6 486.8 565.4 487.2C566.2 487.6 567 487.6 567.8 488C568.5 488.4 569.2 490.1 569.9 489.6C570.6 489.1 571.2 487.2 571.8 484.8C572.4 482.4 572.8 478.9 573.4 475.2C574 471.5 574.7 466.7 575.4 462.4C576.1 458.1 576.8 452.8 577.4 449.6C578 446.4 578.6 447.7 579 443.3C579.4 438.9 579.4 427.2 579.8 423.2C580.1 419.2 580.6 418.8 581.1 419.2C581.6 419.6 582.2 424.3 582.7 425.6C583.2 426.9 583.8 425.6 584.3 427.2C584.8 428.8 585.6 433.1 585.9 435.2C586.2 437.3 585.9 437.6 586.2 440C586.5 442.4 587.3 446.1 587.8 449.6C588.3 453.1 588.7 459.5 589.4 460.8C590.1 462.1 591 459.6 591.8 457.6C592.6 455.6 593.5 450.4 594.2 448.8C594.9 447.2 595.3 446.8 595.8 448C596.3 449.2 596.9 453.6 597.4 456C597.9 458.4 598.3 462.7 599 462.4C599.7 462.1 600.8 454.4 601.5 454.4C602.2 454.4 602.4 459.2 603.1 462.4C603.8 465.6 604.7 472 605.5 473.6C606.3 475.2 607.1 473.6 607.9 472C608.7 470.4 609.5 466.1 610.3 464C611.1 461.9 611.9 460.3 612.7 459.2C613.5 458.1 614.4 459.2 615.1 457.6C615.8 456 616.6 452 617 449.6C617.4 447.2 617 446.1 617.5 443.3C618 440.5 619.2 435.1 619.9 432.8C620.6 430.5 620.8 428.8 621.5 429.6C622.2 430.4 623.4 435.3 623.9 437.7C624.4 440.1 624.3 443.7 624.7 444C625.1 444.3 625.8 439.7 626.3 439.3C626.8 438.9 627.5 442.5 627.9 441.6C628.3 440.7 628.2 434.6 628.7 433.7C629.2 432.8 630.3 433.6 631.1 436C631.9 438.4 632.7 445.5 633.5 448C634.3 450.5 635.1 451.7 635.9 451.2C636.7 450.7 637.8 447.1 638.3 444.8C638.8 442.6 638.8 439.3 639.1 437.7C639.4 436.1 639.5 434.9 640 435.2C640.5 435.5 641.7 437.9 642.4 439.3C643.1 440.7 643.6 441.2 644 443.3C644.4 445.4 644.3 449.9 644.8 452C645.3 454.1 646.5 454 647.2 456C647.9 458 648.3 461.1 648.8 464C649.3 466.9 649.9 473.3 650.4 473.6C650.9 473.9 651.5 468.8 652 465.6C652.5 462.4 653.1 457.6 653.6 454.4C654.1 451.2 654.6 448.4 655.2 446.4C655.8 444.4 656.6 442.4 657.3 442.4C658 442.4 658.5 446 659.2 446.4C659.9 446.8 660.9 444.1 661.6 444.8C662.4 445.5 663 448 663.7 450.4C664.4 452.8 665 455.6 665.6 459.2C666.2 462.8 666.6 467.6 667.2 472C667.8 476.4 668.5 482.3 669.1 485.6C669.7 488.9 670.1 492 670.7 492C671.3 492 672 488.9 672.8 485.6C673.5 482.3 674.4 475.9 675.2 472C676 468.1 676.8 465.7 677.6 462.4C678.4 459.1 679.3 454.9 680 452C680.7 449.1 681.2 447.9 681.9 444.8C682.6 441.7 683.2 435.6 684 433.6C684.8 431.6 685.5 432.4 686.4 432.8C687.3 433.2 688.5 434.5 689.6 436C690.7 437.5 692 440.2 692.8 441.7C693.6 443.2 693.7 443.6 694.4 444.8C695.1 446 696 447.6 696.8 448.8C697.6 450 698.4 451.3 699.2 452C700 452.7 700.8 452.1 701.6 452.8C702.4 453.5 703.1 454.8 704 456C704.9 457.2 706.1 458.9 707.2 460C708.3 461.1 709.3 462.4 710.4 462.4C711.5 462.4 712.5 460.1 713.6 460C714.7 459.9 715.7 461.2 716.8 461.6C717.9 462 719 462 720.1 462.4C721.2 462.8 722.2 464 723.3 464C724.4 464 725.4 463 726.5 462.4C727.6 461.8 728.6 460.8 729.7 460.5C730.8 460.2 731.8 460.8 732.9 460.8C734 460.9 735 460.8 736.1 460.8C737.2 460.8 738.2 460.7 739.3 460.8C740.4 460.9 741.7 460.8 742.5 461.6C743.3 462.4 743.6 463.1 744.1 465.6C744.6 468.1 744.8 472.3 745.3 476.8C745.8 481.3 746.3 489.3 746.9 492.8C747.5 496.3 748.2 497.9 748.9 497.6C749.5 497.3 750.1 493.9 750.8 491.2C751.5 488.5 752.1 484.8 752.9 481.6C753.6 478.4 754.5 474.9 755.3 472C756.1 469.1 756.9 467.2 757.7 464C758.5 460.8 759.6 455.1 760.1 452.8C760.6 450.5 760.7 450.5 760.8 450" stroke="#f0bc00" stroke-width="1.8" fill="none" stroke-linejoin="round"/><path d="M520.8 490C521 489.8 521.3 489.5 522.2 488.8C523.1 488.1 524.9 486.7 526.2 485.6C527.5 484.5 529 482.8 530.2 482.4C531.4 482 532.5 482.7 533.4 483.2C534.3 483.7 535 485.1 535.8 485.6C536.5 486.1 537.2 487.3 537.9 486.4C538.6 485.5 539.2 483.5 539.8 480C540.4 476.5 541 470.4 541.7 465.6C542.4 460.8 543 454.1 543.8 451.2C544.5 448.3 545.4 448.4 546.2 448C547 447.6 547.9 447.9 548.6 448.8C549.3 449.7 549.7 452.7 550.2 453.6C550.7 454.5 551.3 452.4 551.8 454.4C552.3 456.4 552.8 460.8 553.4 465.6C554 470.4 554.8 478.7 555.5 483.2C556.2 487.7 556.8 491.7 557.4 492.8C558 493.9 558.4 489.9 559 489.6C559.6 489.3 560.3 491.6 561 491.2C561.7 490.8 562.3 487.7 563 487.2C563.7 486.7 564.6 487.6 565.4 488C566.2 488.4 567 488.7 567.8 489.6C568.6 490.5 569.4 493.2 570.2 493.6C571 494 571.8 494.5 572.6 492C573.4 489.5 574.3 483.6 575 478.4C575.7 473.2 576.3 466.1 577 460.8C577.7 455.5 578.3 449.5 579 446.4C579.7 443.2 580.4 442.4 581.1 441.9C581.8 441.4 582.4 442.2 583 443.2C583.6 444.2 584.3 445.1 585 448C585.7 450.9 586.3 456.8 587 460.8C587.7 464.8 588.4 468.3 589.1 472C589.8 475.7 590.4 481.5 591 483.2C591.6 484.9 592.3 482.5 593 482.4C593.7 482.3 594.3 481.6 595 482.4C595.7 483.2 596.4 488.1 597.1 487.2C597.8 486.3 598.4 479.7 599 476.8C599.6 473.9 600 471.2 600.7 469.6C601.4 468 602.4 467.1 603.1 467.2C603.8 467.3 604.1 468.3 604.7 470.4C605.3 472.5 605.9 477.2 606.7 480C607.5 482.8 608.6 487.5 609.5 487.2C610.4 486.9 611.1 482 611.9 478.4C612.7 474.8 613.5 469.1 614.3 465.6C615.1 462.1 615.8 459.7 616.7 457.6C617.6 455.5 619 454.9 619.9 452.8C620.8 450.7 621.6 447.2 622.3 444.8C623 442.4 623.2 439.3 623.9 438.5C624.6 437.7 625.5 437.6 626.3 440C627.1 442.4 627.9 450.3 628.7 452.8C629.5 455.3 630.4 455.7 631.1 455.2C631.8 454.7 632.6 453.3 633 449.6C633.4 445.9 633.1 436.3 633.5 432.8C633.9 429.3 634.9 428.3 635.6 428.8C636.3 429.3 637 431.5 637.5 436C638 440.5 638 449.7 638.3 456C638.6 462.3 638.9 470.1 639.4 473.6C639.9 477.1 640.5 476 641 476.8C641.5 477.6 641.9 476.8 642.4 478.4C642.9 480 643.5 483.2 644 486.4C644.5 489.6 645 494.8 645.6 497.6C646.2 500.4 647 502.9 647.7 503.2C648.4 503.5 648.9 502.5 649.6 499.2C650.3 495.9 651.2 489.3 652 483.2C652.8 477.1 653.6 467.9 654.4 462.4C655.2 456.9 656.1 452.1 656.8 450.4C657.5 448.7 657.7 450 658.4 452C659.1 454 660 459.1 660.8 462.4C661.6 465.7 662.4 469.5 663.2 472C664 474.5 664.7 475.9 665.6 477.6C666.5 479.3 667.7 483.3 668.5 482.4C669.3 481.5 669.8 475.1 670.4 472C671 468.9 671.5 467.2 672 464C672.5 460.8 673.2 456 673.6 452.8C674 449.6 674.3 447.8 674.6 445C674.9 442.2 675.1 440 675.5 436C675.9 432 676.6 422.5 677.1 420.8C677.6 419.1 678 423.6 678.4 426C678.8 428.4 679.3 432.3 679.7 435C680.1 437.7 680.4 439.6 681 442C681.6 444.4 682.6 447 683.2 449.6C683.8 452.2 684.1 456.1 684.8 457.6C685.5 459.1 686.4 458.8 687.2 458.4C688 458 688.9 455.9 689.6 455.2C690.3 454.5 690.9 453.7 691.6 454.4C692.3 455.1 693 457.6 693.6 459.2C694.2 460.8 694.6 463.1 695.2 464C695.8 464.9 696.6 463.5 697.3 464.8C698 466.1 698.5 469.3 699.2 472C699.9 474.7 700.8 478.4 701.6 480.8C702.4 483.2 703.2 485.2 704 486.4C704.8 487.6 705.6 487.8 706.4 488C707.2 488.2 708 487.3 708.8 487.7C709.6 488.1 710.4 489.9 711.2 490.4C712 490.9 712.8 491.6 713.6 490.9C714.4 490.2 715.2 488.5 716 486.4C716.8 484.3 717.6 480.5 718.4 478.4C719.2 476.3 720.1 474.1 720.9 473.6C721.7 473.1 722.5 474.7 723.3 475.2C724.1 475.7 724.9 476.9 725.7 476.8C726.5 476.7 727.3 475.6 728.1 474.4C728.9 473.2 729.7 470.7 730.5 469.6C731.3 468.5 732 468.3 732.9 468C733.8 467.7 735.2 467.6 736.1 468C737 468.4 737.6 469.4 738.5 470.4C739.4 471.4 740.5 473.3 741.7 473.9C742.9 474.5 744 473.9 745.7 473.9C747.4 473.9 749.6 473.9 752.1 473.9C754.6 473.9 759.3 473.9 760.8 473.9" stroke="#c20818" stroke-width="1.8" fill="none" stroke-linejoin="round"/></g><path d="M46.5 22.5v3.6M46.5 190.5v-3.6M52.3 22.5v3.6M52.3 190.5v-3.6M58.1 22.5v3.6M58.1 190.5v-3.6M63.9 22.5v3.6M63.9 190.5v-3.6M69.7 22.5v7.3M69.7 190.5v-7.3M75.5 22.5v3.6M75.5 190.5v-3.6M81.3 22.5v3.6M81.3 190.5v-3.6M87.1 22.5v3.6M87.1 190.5v-3.6M92.8 22.5v3.6M92.8 190.5v-3.6M98.6 22.5v3.6M98.6 190.5v-3.6M104.4 22.5v3.6M104.4 190.5v-3.6M110.2 22.5v3.6M110.2 190.5v-3.6M116 22.5v3.6M116 190.5v-3.6M121.8 22.5v3.6M121.8 190.5v-3.6M127.6 22.5v7.3M127.6 190.5v-7.3M133.4 22.5v3.6M133.4 190.5v-3.6M139.1 22.5v3.6M139.1 190.5v-3.6M144.9 22.5v3.6M144.9 190.5v-3.6M150.7 22.5v3.6M150.7 190.5v-3.6M156.5 22.5v3.6M156.5 190.5v-3.6M162.3 22.5v3.6M162.3 190.5v-3.6M168.1 22.5v3.6M168.1 190.5v-3.6M173.9 22.5v3.6M173.9 190.5v-3.6M179.7 22.5v3.6M179.7 190.5v-3.6M185.4 22.5v7.3M185.4 190.5v-7.3M191.2 22.5v3.6M191.2 190.5v-3.6M197 22.5v3.6M197 190.5v-3.6M202.8 22.5v3.6M202.8 190.5v-3.6M208.6 22.5v3.6M208.6 190.5v-3.6M214.4 22.5v3.6M214.4 190.5v-3.6M220.2 22.5v3.6M220.2 190.5v-3.6M226 22.5v3.6M226 190.5v-3.6M231.8 22.5v3.6M231.8 190.5v-3.6M237.5 22.5v3.6M237.5 190.5v-3.6M243.3 22.5v7.3M243.3 190.5v-7.3M249.1 22.5v3.6M249.1 190.5v-3.6M254.9 22.5v3.6M254.9 190.5v-3.6M260.7 22.5v3.6M260.7 190.5v-3.6M266.5 22.5v3.6M266.5 190.5v-3.6M272.3 22.5v3.6M272.3 190.5v-3.6M278.1 22.5v3.6M278.1 190.5v-3.6M40.8 186.8h7.3M280.9 186.8h-7.3M40.8 171.6h3.6M280.9 171.6h-3.6M40.8 156.3h7.3M280.9 156.3h-7.3M40.8 141.1h3.6M280.9 141.1h-3.6M40.8 125.8h7.3M280.9 125.8h-7.3M40.8 110.6h3.6M280.9 110.6h-3.6M40.8 95.4h7.3M280.9 95.4h-7.3M40.8 80.1h3.6M280.9 80.1h-3.6M40.8 64.9h7.3M280.9 64.9h-7.3M40.8 49.6h3.6M280.9 49.6h-3.6M40.8 34.4h7.3M280.9 34.4h-7.3M286.7 22.5v3.6M286.7 190.5v-3.6M292.5 22.5v3.6M292.5 190.5v-3.6M298.3 22.5v3.6M298.3 190.5v-3.6M304.1 22.5v3.6M304.1 190.5v-3.6M309.9 22.5v7.3M309.9 190.5v-7.3M315.7 22.5v3.6M315.7 190.5v-3.6M321.5 22.5v3.6M321.5 190.5v-3.6M327.3 22.5v3.6M327.3 190.5v-3.6M333 22.5v3.6M333 190.5v-3.6M338.8 22.5v3.6M338.8 190.5v-3.6M344.6 22.5v3.6M344.6 190.5v-3.6M350.4 22.5v3.6M350.4 190.5v-3.6M356.2 22.5v3.6M356.2 190.5v-3.6M362 22.5v3.6M362 190.5v-3.6M367.8 22.5v7.3M367.8 190.5v-7.3M373.6 22.5v3.6M373.6 190.5v-3.6M379.3 22.5v3.6M379.3 190.5v-3.6M385.1 22.5v3.6M385.1 190.5v-3.6M390.9 22.5v3.6M390.9 190.5v-3.6M396.7 22.5v3.6M396.7 190.5v-3.6M402.5 22.5v3.6M402.5 190.5v-3.6M408.3 22.5v3.6M408.3 190.5v-3.6M414.1 22.5v3.6M414.1 190.5v-3.6M419.9 22.5v3.6M419.9 190.5v-3.6M425.6 22.5v7.3M425.6 190.5v-7.3M431.4 22.5v3.6M431.4 190.5v-3.6M437.2 22.5v3.6M437.2 190.5v-3.6M443 22.5v3.6M443 190.5v-3.6M448.8 22.5v3.6M448.8 190.5v-3.6M454.6 22.5v3.6M454.6 190.5v-3.6M460.4 22.5v3.6M460.4 190.5v-3.6M466.2 22.5v3.6M466.2 190.5v-3.6M472 22.5v3.6M472 190.5v-3.6M477.7 22.5v3.6M477.7 190.5v-3.6M483.5 22.5v7.3M483.5 190.5v-7.3M489.3 22.5v3.6M489.3 190.5v-3.6M495.1 22.5v3.6M495.1 190.5v-3.6M500.9 22.5v3.6M500.9 190.5v-3.6M506.7 22.5v3.6M506.7 190.5v-3.6M512.5 22.5v3.6M512.5 190.5v-3.6M518.3 22.5v3.6M518.3 190.5v-3.6M280.9 186.8h7.3M521.1 186.8h-7.3M280.9 171.6h3.6M521.1 171.6h-3.6M280.9 156.3h7.3M521.1 156.3h-7.3M280.9 141.1h3.6M521.1 141.1h-3.6M280.9 125.8h7.3M521.1 125.8h-7.3M280.9 110.6h3.6M521.1 110.6h-3.6M280.9 95.4h7.3M521.1 95.4h-7.3M280.9 80.1h3.6M521.1 80.1h-3.6M280.9 64.9h7.3M521.1 64.9h-7.3M280.9 49.6h3.6M521.1 49.6h-3.6M280.9 34.4h7.3M521.1 34.4h-7.3M526.9 22.5v3.6M526.9 190.5v-3.6M532.7 22.5v3.6M532.7 190.5v-3.6M538.5 22.5v3.6M538.5 190.5v-3.6M544.3 22.5v3.6M544.3 190.5v-3.6M550.1 22.5v7.3M550.1 190.5v-7.3M555.9 22.5v3.6M555.9 190.5v-3.6M561.7 22.5v3.6M561.7 190.5v-3.6M567.5 22.5v3.6M567.5 190.5v-3.6M573.2 22.5v3.6M573.2 190.5v-3.6M579 22.5v3.6M579 190.5v-3.6M584.8 22.5v3.6M584.8 190.5v-3.6M590.6 22.5v3.6M590.6 190.5v-3.6M596.4 22.5v3.6M596.4 190.5v-3.6M602.2 22.5v3.6M602.2 190.5v-3.6M608 22.5v7.3M608 190.5v-7.3M613.8 22.5v3.6M613.8 190.5v-3.6M619.5 22.5v3.6M619.5 190.5v-3.6M625.3 22.5v3.6M625.3 190.5v-3.6M631.1 22.5v3.6M631.1 190.5v-3.6M636.9 22.5v3.6M636.9 190.5v-3.6M642.7 22.5v3.6M642.7 190.5v-3.6M648.5 22.5v3.6M648.5 190.5v-3.6M654.3 22.5v3.6M654.3 190.5v-3.6M660.1 22.5v3.6M660.1 190.5v-3.6M665.8 22.5v7.3M665.8 190.5v-7.3M671.6 22.5v3.6M671.6 190.5v-3.6M677.4 22.5v3.6M677.4 190.5v-3.6M683.2 22.5v3.6M683.2 190.5v-3.6M689 22.5v3.6M689 190.5v-3.6M694.8 22.5v3.6M694.8 190.5v-3.6M700.6 22.5v3.6M700.6 190.5v-3.6M706.4 22.5v3.6M706.4 190.5v-3.6M712.2 22.5v3.6M712.2 190.5v-3.6M717.9 22.5v3.6M717.9 190.5v-3.6M723.7 22.5v7.3M723.7 190.5v-7.3M729.5 22.5v3.6M729.5 190.5v-3.6M735.3 22.5v3.6M735.3 190.5v-3.6M741.1 22.5v3.6M741.1 190.5v-3.6M746.9 22.5v3.6M746.9 190.5v-3.6M752.7 22.5v3.6M752.7 190.5v-3.6M758.5 22.5v3.6M758.5 190.5v-3.6M521.1 186.8h7.3M761.3 186.8h-7.3M521.1 171.6h3.6M761.3 171.6h-3.6M521.1 156.3h7.3M761.3 156.3h-7.3M521.1 141.1h3.6M761.3 141.1h-3.6M521.1 125.8h7.3M761.3 125.8h-7.3M521.1 110.6h3.6M761.3 110.6h-3.6M521.1 95.4h7.3M761.3 95.4h-7.3M521.1 80.1h3.6M761.3 80.1h-3.6M521.1 64.9h7.3M761.3 64.9h-7.3M521.1 49.6h3.6M761.3 49.6h-3.6M521.1 34.4h7.3M761.3 34.4h-7.3M46.5 190.5v3.6M46.5 358.4v-3.6M52.3 190.5v3.6M52.3 358.4v-3.6M58.1 190.5v3.6M58.1 358.4v-3.6M63.9 190.5v3.6M63.9 358.4v-3.6M69.7 190.5v7.3M69.7 358.4v-7.3M75.5 190.5v3.6M75.5 358.4v-3.6M81.3 190.5v3.6M81.3 358.4v-3.6M87.1 190.5v3.6M87.1 358.4v-3.6M92.8 190.5v3.6M92.8 358.4v-3.6M98.6 190.5v3.6M98.6 358.4v-3.6M104.4 190.5v3.6M104.4 358.4v-3.6M110.2 190.5v3.6M110.2 358.4v-3.6M116 190.5v3.6M116 358.4v-3.6M121.8 190.5v3.6M121.8 358.4v-3.6M127.6 190.5v7.3M127.6 358.4v-7.3M133.4 190.5v3.6M133.4 358.4v-3.6M139.1 190.5v3.6M139.1 358.4v-3.6M144.9 190.5v3.6M144.9 358.4v-3.6M150.7 190.5v3.6M150.7 358.4v-3.6M156.5 190.5v3.6M156.5 358.4v-3.6M162.3 190.5v3.6M162.3 358.4v-3.6M168.1 190.5v3.6M168.1 358.4v-3.6M173.9 190.5v3.6M173.9 358.4v-3.6M179.7 190.5v3.6M179.7 358.4v-3.6M185.4 190.5v7.3M185.4 358.4v-7.3M191.2 190.5v3.6M191.2 358.4v-3.6M197 190.5v3.6M197 358.4v-3.6M202.8 190.5v3.6M202.8 358.4v-3.6M208.6 190.5v3.6M208.6 358.4v-3.6M214.4 190.5v3.6M214.4 358.4v-3.6M220.2 190.5v3.6M220.2 358.4v-3.6M226 190.5v3.6M226 358.4v-3.6M231.8 190.5v3.6M231.8 358.4v-3.6M237.5 190.5v3.6M237.5 358.4v-3.6M243.3 190.5v7.3M243.3 358.4v-7.3M249.1 190.5v3.6M249.1 358.4v-3.6M254.9 190.5v3.6M254.9 358.4v-3.6M260.7 190.5v3.6M260.7 358.4v-3.6M266.5 190.5v3.6M266.5 358.4v-3.6M272.3 190.5v3.6M272.3 358.4v-3.6M278.1 190.5v3.6M278.1 358.4v-3.6M40.8 354.8h7.3M280.9 354.8h-7.3M40.8 339.5h3.6M280.9 339.5h-3.6M40.8 324.3h7.3M280.9 324.3h-7.3M40.8 309.1h3.6M280.9 309.1h-3.6M40.8 293.8h7.3M280.9 293.8h-7.3M40.8 278.6h3.6M280.9 278.6h-3.6M40.8 263.3h7.3M280.9 263.3h-7.3M40.8 248.1h3.6M280.9 248.1h-3.6M40.8 232.8h7.3M280.9 232.8h-7.3M40.8 217.6h3.6M280.9 217.6h-3.6M40.8 202.4h7.3M280.9 202.4h-7.3M286.7 190.5v3.6M286.7 358.4v-3.6M292.5 190.5v3.6M292.5 358.4v-3.6M298.3 190.5v3.6M298.3 358.4v-3.6M304.1 190.5v3.6M304.1 358.4v-3.6M309.9 190.5v7.3M309.9 358.4v-7.3M315.7 190.5v3.6M315.7 358.4v-3.6M321.5 190.5v3.6M321.5 358.4v-3.6M327.3 190.5v3.6M327.3 358.4v-3.6M333 190.5v3.6M333 358.4v-3.6M338.8 190.5v3.6M338.8 358.4v-3.6M344.6 190.5v3.6M344.6 358.4v-3.6M350.4 190.5v3.6M350.4 358.4v-3.6M356.2 190.5v3.6M356.2 358.4v-3.6M362 190.5v3.6M362 358.4v-3.6M367.8 190.5v7.3M367.8 358.4v-7.3M373.6 190.5v3.6M373.6 358.4v-3.6M379.3 190.5v3.6M379.3 358.4v-3.6M385.1 190.5v3.6M385.1 358.4v-3.6M390.9 190.5v3.6M390.9 358.4v-3.6M396.7 190.5v3.6M396.7 358.4v-3.6M402.5 190.5v3.6M402.5 358.4v-3.6M408.3 190.5v3.6M408.3 358.4v-3.6M414.1 190.5v3.6M414.1 358.4v-3.6M419.9 190.5v3.6M419.9 358.4v-3.6M425.6 190.5v7.3M425.6 358.4v-7.3M431.4 190.5v3.6M431.4 358.4v-3.6M437.2 190.5v3.6M437.2 358.4v-3.6M443 190.5v3.6M443 358.4v-3.6M448.8 190.5v3.6M448.8 358.4v-3.6M454.6 190.5v3.6M454.6 358.4v-3.6M460.4 190.5v3.6M460.4 358.4v-3.6M466.2 190.5v3.6M466.2 358.4v-3.6M472 190.5v3.6M472 358.4v-3.6M477.7 190.5v3.6M477.7 358.4v-3.6M483.5 190.5v7.3M483.5 358.4v-7.3M489.3 190.5v3.6M489.3 358.4v-3.6M495.1 190.5v3.6M495.1 358.4v-3.6M500.9 190.5v3.6M500.9 358.4v-3.6M506.7 190.5v3.6M506.7 358.4v-3.6M512.5 190.5v3.6M512.5 358.4v-3.6M518.3 190.5v3.6M518.3 358.4v-3.6M280.9 354.8h7.3M521.1 354.8h-7.3M280.9 339.5h3.6M521.1 339.5h-3.6M280.9 324.3h7.3M521.1 324.3h-7.3M280.9 309.1h3.6M521.1 309.1h-3.6M280.9 293.8h7.3M521.1 293.8h-7.3M280.9 278.6h3.6M521.1 278.6h-3.6M280.9 263.3h7.3M521.1 263.3h-7.3M280.9 248.1h3.6M521.1 248.1h-3.6M280.9 232.8h7.3M521.1 232.8h-7.3M280.9 217.6h3.6M521.1 217.6h-3.6M280.9 202.4h7.3M521.1 202.4h-7.3M526.9 190.5v3.6M526.9 358.4v-3.6M532.7 190.5v3.6M532.7 358.4v-3.6M538.5 190.5v3.6M538.5 358.4v-3.6M544.3 190.5v3.6M544.3 358.4v-3.6M550.1 190.5v7.3M550.1 358.4v-7.3M555.9 190.5v3.6M555.9 358.4v-3.6M561.7 190.5v3.6M561.7 358.4v-3.6M567.5 190.5v3.6M567.5 358.4v-3.6M573.2 190.5v3.6M573.2 358.4v-3.6M579 190.5v3.6M579 358.4v-3.6M584.8 190.5v3.6M584.8 358.4v-3.6M590.6 190.5v3.6M590.6 358.4v-3.6M596.4 190.5v3.6M596.4 358.4v-3.6M602.2 190.5v3.6M602.2 358.4v-3.6M608 190.5v7.3M608 358.4v-7.3M613.8 190.5v3.6M613.8 358.4v-3.6M619.5 190.5v3.6M619.5 358.4v-3.6M625.3 190.5v3.6M625.3 358.4v-3.6M631.1 190.5v3.6M631.1 358.4v-3.6M636.9 190.5v3.6M636.9 358.4v-3.6M642.7 190.5v3.6M642.7 358.4v-3.6M648.5 190.5v3.6M648.5 358.4v-3.6M654.3 190.5v3.6M654.3 358.4v-3.6M660.1 190.5v3.6M660.1 358.4v-3.6M665.8 190.5v7.3M665.8 358.4v-7.3M671.6 190.5v3.6M671.6 358.4v-3.6M677.4 190.5v3.6M677.4 358.4v-3.6M683.2 190.5v3.6M683.2 358.4v-3.6M689 190.5v3.6M689 358.4v-3.6M694.8 190.5v3.6M694.8 358.4v-3.6M700.6 190.5v3.6M700.6 358.4v-3.6M706.4 190.5v3.6M706.4 358.4v-3.6M712.2 190.5v3.6M712.2 358.4v-3.6M717.9 190.5v3.6M717.9 358.4v-3.6M723.7 190.5v7.3M723.7 358.4v-7.3M729.5 190.5v3.6M729.5 358.4v-3.6M735.3 190.5v3.6M735.3 358.4v-3.6M741.1 190.5v3.6M741.1 358.4v-3.6M746.9 190.5v3.6M746.9 358.4v-3.6M752.7 190.5v3.6M752.7 358.4v-3.6M758.5 190.5v3.6M758.5 358.4v-3.6M521.1 354.8h7.3M761.3 354.8h-7.3M521.1 339.5h3.6M761.3 339.5h-3.6M521.1 324.3h7.3M761.3 324.3h-7.3M521.1 309.1h3.6M761.3 309.1h-3.6M521.1 293.8h7.3M761.3 293.8h-7.3M521.1 278.6h3.6M761.3 278.6h-3.6M521.1 263.3h7.3M761.3 263.3h-7.3M521.1 248.1h3.6M761.3 248.1h-3.6M521.1 232.8h7.3M761.3 232.8h-7.3M521.1 217.6h3.6M761.3 217.6h-3.6M521.1 202.4h7.3M761.3 202.4h-7.3M46.5 358.4v3.6M46.5 526.4v-3.6M52.3 358.4v3.6M52.3 526.4v-3.6M58.1 358.4v3.6M58.1 526.4v-3.6M63.9 358.4v3.6M63.9 526.4v-3.6M69.7 358.4v7.3M69.7 526.4v-7.3M75.5 358.4v3.6M75.5 526.4v-3.6M81.3 358.4v3.6M81.3 526.4v-3.6M87.1 358.4v3.6M87.1 526.4v-3.6M92.8 358.4v3.6M92.8 526.4v-3.6M98.6 358.4v3.6M98.6 526.4v-3.6M104.4 358.4v3.6M104.4 526.4v-3.6M110.2 358.4v3.6M110.2 526.4v-3.6M116 358.4v3.6M116 526.4v-3.6M121.8 358.4v3.6M121.8 526.4v-3.6M127.6 358.4v7.3M127.6 526.4v-7.3M133.4 358.4v3.6M133.4 526.4v-3.6M139.1 358.4v3.6M139.1 526.4v-3.6M144.9 358.4v3.6M144.9 526.4v-3.6M150.7 358.4v3.6M150.7 526.4v-3.6M156.5 358.4v3.6M156.5 526.4v-3.6M162.3 358.4v3.6M162.3 526.4v-3.6M168.1 358.4v3.6M168.1 526.4v-3.6M173.9 358.4v3.6M173.9 526.4v-3.6M179.7 358.4v3.6M179.7 526.4v-3.6M185.4 358.4v7.3M185.4 526.4v-7.3M191.2 358.4v3.6M191.2 526.4v-3.6M197 358.4v3.6M197 526.4v-3.6M202.8 358.4v3.6M202.8 526.4v-3.6M208.6 358.4v3.6M208.6 526.4v-3.6M214.4 358.4v3.6M214.4 526.4v-3.6M220.2 358.4v3.6M220.2 526.4v-3.6M226 358.4v3.6M226 526.4v-3.6M231.8 358.4v3.6M231.8 526.4v-3.6M237.5 358.4v3.6M237.5 526.4v-3.6M243.3 358.4v7.3M243.3 526.4v-7.3M249.1 358.4v3.6M249.1 526.4v-3.6M254.9 358.4v3.6M254.9 526.4v-3.6M260.7 358.4v3.6M260.7 526.4v-3.6M266.5 358.4v3.6M266.5 526.4v-3.6M272.3 358.4v3.6M272.3 526.4v-3.6M278.1 358.4v3.6M278.1 526.4v-3.6M40.8 522.8h7.3M280.9 522.8h-7.3M40.8 507.5h3.6M280.9 507.5h-3.6M40.8 492.3h7.3M280.9 492.3h-7.3M40.8 477h3.6M280.9 477h-3.6M40.8 461.8h7.3M280.9 461.8h-7.3M40.8 446.5h3.6M280.9 446.5h-3.6M40.8 431.3h7.3M280.9 431.3h-7.3M40.8 416.1h3.6M280.9 416.1h-3.6M40.8 400.8h7.3M280.9 400.8h-7.3M40.8 385.6h3.6M280.9 385.6h-3.6M40.8 370.3h7.3M280.9 370.3h-7.3M286.7 358.4v3.6M286.7 526.4v-3.6M292.5 358.4v3.6M292.5 526.4v-3.6M298.3 358.4v3.6M298.3 526.4v-3.6M304.1 358.4v3.6M304.1 526.4v-3.6M309.9 358.4v7.3M309.9 526.4v-7.3M315.7 358.4v3.6M315.7 526.4v-3.6M321.5 358.4v3.6M321.5 526.4v-3.6M327.3 358.4v3.6M327.3 526.4v-3.6M333 358.4v3.6M333 526.4v-3.6M338.8 358.4v3.6M338.8 526.4v-3.6M344.6 358.4v3.6M344.6 526.4v-3.6M350.4 358.4v3.6M350.4 526.4v-3.6M356.2 358.4v3.6M356.2 526.4v-3.6M362 358.4v3.6M362 526.4v-3.6M367.8 358.4v7.3M367.8 526.4v-7.3M373.6 358.4v3.6M373.6 526.4v-3.6M379.3 358.4v3.6M379.3 526.4v-3.6M385.1 358.4v3.6M385.1 526.4v-3.6M390.9 358.4v3.6M390.9 526.4v-3.6M396.7 358.4v3.6M396.7 526.4v-3.6M402.5 358.4v3.6M402.5 526.4v-3.6M408.3 358.4v3.6M408.3 526.4v-3.6M414.1 358.4v3.6M414.1 526.4v-3.6M419.9 358.4v3.6M419.9 526.4v-3.6M425.6 358.4v7.3M425.6 526.4v-7.3M431.4 358.4v3.6M431.4 526.4v-3.6M437.2 358.4v3.6M437.2 526.4v-3.6M443 358.4v3.6M443 526.4v-3.6M448.8 358.4v3.6M448.8 526.4v-3.6M454.6 358.4v3.6M454.6 526.4v-3.6M460.4 358.4v3.6M460.4 526.4v-3.6M466.2 358.4v3.6M466.2 526.4v-3.6M472 358.4v3.6M472 526.4v-3.6M477.7 358.4v3.6M477.7 526.4v-3.6M483.5 358.4v7.3M483.5 526.4v-7.3M489.3 358.4v3.6M489.3 526.4v-3.6M495.1 358.4v3.6M495.1 526.4v-3.6M500.9 358.4v3.6M500.9 526.4v-3.6M506.7 358.4v3.6M506.7 526.4v-3.6M512.5 358.4v3.6M512.5 526.4v-3.6M518.3 358.4v3.6M518.3 526.4v-3.6M280.9 522.8h7.3M521.1 522.8h-7.3M280.9 507.5h3.6M521.1 507.5h-3.6M280.9 492.3h7.3M521.1 492.3h-7.3M280.9 477h3.6M521.1 477h-3.6M280.9 461.8h7.3M521.1 461.8h-7.3M280.9 446.5h3.6M521.1 446.5h-3.6M280.9 431.3h7.3M521.1 431.3h-7.3M280.9 416.1h3.6M521.1 416.1h-3.6M280.9 400.8h7.3M521.1 400.8h-7.3M280.9 385.6h3.6M521.1 385.6h-3.6M280.9 370.3h7.3M521.1 370.3h-7.3M526.9 358.4v3.6M526.9 526.4v-3.6M532.7 358.4v3.6M532.7 526.4v-3.6M538.5 358.4v3.6M538.5 526.4v-3.6M544.3 358.4v3.6M544.3 526.4v-3.6M550.1 358.4v7.3M550.1 526.4v-7.3M555.9 358.4v3.6M555.9 526.4v-3.6M561.7 358.4v3.6M561.7 526.4v-3.6M567.5 358.4v3.6M567.5 526.4v-3.6M573.2 358.4v3.6M573.2 526.4v-3.6M579 358.4v3.6M579 526.4v-3.6M584.8 358.4v3.6M584.8 526.4v-3.6M590.6 358.4v3.6M590.6 526.4v-3.6M596.4 358.4v3.6M596.4 526.4v-3.6M602.2 358.4v3.6M602.2 526.4v-3.6M608 358.4v7.3M608 526.4v-7.3M613.8 358.4v3.6M613.8 526.4v-3.6M619.5 358.4v3.6M619.5 526.4v-3.6M625.3 358.4v3.6M625.3 526.4v-3.6M631.1 358.4v3.6M631.1 526.4v-3.6M636.9 358.4v3.6M636.9 526.4v-3.6M642.7 358.4v3.6M642.7 526.4v-3.6M648.5 358.4v3.6M648.5 526.4v-3.6M654.3 358.4v3.6M654.3 526.4v-3.6M660.1 358.4v3.6M660.1 526.4v-3.6M665.8 358.4v7.3M665.8 526.4v-7.3M671.6 358.4v3.6M671.6 526.4v-3.6M677.4 358.4v3.6M677.4 526.4v-3.6M683.2 358.4v3.6M683.2 526.4v-3.6M689 358.4v3.6M689 526.4v-3.6M694.8 358.4v3.6M694.8 526.4v-3.6M700.6 358.4v3.6M700.6 526.4v-3.6M706.4 358.4v3.6M706.4 526.4v-3.6M712.2 358.4v3.6M712.2 526.4v-3.6M717.9 358.4v3.6M717.9 526.4v-3.6M723.7 358.4v7.3M723.7 526.4v-7.3M729.5 358.4v3.6M729.5 526.4v-3.6M735.3 358.4v3.6M735.3 526.4v-3.6M741.1 358.4v3.6M741.1 526.4v-3.6M746.9 358.4v3.6M746.9 526.4v-3.6M752.7 358.4v3.6M752.7 526.4v-3.6M758.5 358.4v3.6M758.5 526.4v-3.6M521.1 522.8h7.3M761.3 522.8h-7.3M521.1 507.5h3.6M761.3 507.5h-3.6M521.1 492.3h7.3M761.3 492.3h-7.3M521.1 477h3.6M761.3 477h-3.6M521.1 461.8h7.3M761.3 461.8h-7.3M521.1 446.5h3.6M761.3 446.5h-3.6M521.1 431.3h7.3M761.3 431.3h-7.3M521.1 416.1h3.6M761.3 416.1h-3.6M521.1 400.8h7.3M761.3 400.8h-7.3M521.1 385.6h3.6M761.3 385.6h-3.6M521.1 370.3h7.3M761.3 370.3h-7.3" stroke="#222" stroke-width="1.1" fill="none"/><path d="M40.8 22.5H280.9V190.5H40.8ZM280.9 22.5H521.1V190.5H280.9ZM521.1 22.5H761.3V190.5H521.1ZM40.8 190.5H280.9V358.4H40.8ZM280.9 190.5H521.1V358.4H280.9ZM521.1 190.5H761.3V358.4H521.1ZM40.8 358.4H280.9V526.4H40.8ZM280.9 358.4H521.1V526.4H280.9ZM521.1 358.4H761.3V526.4H521.1Z" stroke="#222" stroke-width="1.3" fill="none"/><filter id="nf" filterUnits="userSpaceOnUse" x="0" y="0" width="762" height="585"><feOffset dx="0" dy="0"/></filter><g fill="#111" filter="url(#nf)"><text x="37.7" y="190.7" text-anchor="end" font-size="9.9" textLength="5.2" lengthAdjust="spacingAndGlyphs">0</text><text x="37.7" y="160.2" text-anchor="end" font-size="9.9" textLength="5.2" lengthAdjust="spacingAndGlyphs">2</text><text x="37.7" y="129.7" text-anchor="end" font-size="9.9" textLength="5.2" lengthAdjust="spacingAndGlyphs">4</text><text x="37.7" y="99.3" text-anchor="end" font-size="9.9" textLength="5.2" lengthAdjust="spacingAndGlyphs">6</text><text x="37.7" y="68.8" text-anchor="end" font-size="9.9" textLength="5.2" lengthAdjust="spacingAndGlyphs">8</text><text x="37.7" y="38.3" text-anchor="end" font-size="9.9" textLength="10.4" lengthAdjust="spacingAndGlyphs">10</text><text x="37.7" y="358.7" text-anchor="end" font-size="9.9" textLength="5.2" lengthAdjust="spacingAndGlyphs">0</text><text x="37.7" y="328.2" text-anchor="end" font-size="9.9" textLength="5.2" lengthAdjust="spacingAndGlyphs">2</text><text x="37.7" y="297.7" text-anchor="end" font-size="9.9" textLength="5.2" lengthAdjust="spacingAndGlyphs">4</text><text x="37.7" y="267.2" text-anchor="end" font-size="9.9" textLength="5.2" lengthAdjust="spacingAndGlyphs">6</text><text x="37.7" y="236.7" text-anchor="end" font-size="9.9" textLength="5.2" lengthAdjust="spacingAndGlyphs">8</text><text x="37.7" y="206.3" text-anchor="end" font-size="9.9" textLength="10.4" lengthAdjust="spacingAndGlyphs">10</text><text x="37.7" y="526.7" text-anchor="end" font-size="9.9" textLength="5.2" lengthAdjust="spacingAndGlyphs">0</text><text x="37.7" y="496.2" text-anchor="end" font-size="9.9" textLength="5.2" lengthAdjust="spacingAndGlyphs">2</text><text x="37.7" y="465.7" text-anchor="end" font-size="9.9" textLength="5.2" lengthAdjust="spacingAndGlyphs">4</text><text x="37.7" y="435.2" text-anchor="end" font-size="9.9" textLength="5.2" lengthAdjust="spacingAndGlyphs">6</text><text x="37.7" y="404.7" text-anchor="end" font-size="9.9" textLength="5.2" lengthAdjust="spacingAndGlyphs">8</text><text x="37.7" y="374.2" text-anchor="end" font-size="9.9" textLength="10.4" lengthAdjust="spacingAndGlyphs">10</text><text x="58.2" y="540.7" font-size="10.3" textLength="23" lengthAdjust="spacingAndGlyphs">4000</text><text x="116.1" y="540.7" font-size="10.3" textLength="23" lengthAdjust="spacingAndGlyphs">5000</text><text x="173.9" y="540.7" font-size="10.3" textLength="23" lengthAdjust="spacingAndGlyphs">6000</text><text x="231.8" y="540.7" font-size="10.3" textLength="23" lengthAdjust="spacingAndGlyphs">7000</text><text x="298.4" y="540.7" font-size="10.3" textLength="23" lengthAdjust="spacingAndGlyphs">4000</text><text x="356.3" y="540.7" font-size="10.3" textLength="23" lengthAdjust="spacingAndGlyphs">5000</text><text x="414.1" y="540.7" font-size="10.3" textLength="23" lengthAdjust="spacingAndGlyphs">6000</text><text x="472" y="540.7" font-size="10.3" textLength="23" lengthAdjust="spacingAndGlyphs">7000</text><text x="538.6" y="540.7" font-size="10.3" textLength="23" lengthAdjust="spacingAndGlyphs">4000</text><text x="596.5" y="540.7" font-size="10.3" textLength="23" lengthAdjust="spacingAndGlyphs">5000</text><text x="654.3" y="540.7" font-size="10.3" textLength="23" lengthAdjust="spacingAndGlyphs">6000</text><text x="712.2" y="540.7" font-size="10.3" textLength="23" lengthAdjust="spacingAndGlyphs">7000</text></g><g fill="#111" filter="url(#nf)"><text x="274.5" y="9.0" font-size="10.6" fill="#e4ae00" stroke="#e4ae00" stroke-width="0.2" textLength="16.1" lengthAdjust="spacingAndGlyphs">SN</text><text x="296.7" y="9.0" font-size="10.6" fill="#e4ae00" stroke="#e4ae00" stroke-width="0.2" textLength="10.5" lengthAdjust="spacingAndGlyphs">Ia</text><text x="314.1" y="9.0" font-size="10.6" fill="#e4ae00" stroke="#e4ae00" stroke-width="0.2" textLength="52.8" lengthAdjust="spacingAndGlyphs">Template</text><text x="386.4" y="9.0" font-size="10.6" fill="#b40c18" stroke="#b40c18" stroke-width="0.2" textLength="49.2" lengthAdjust="spacingAndGlyphs">Non–SN</text><text x="440.0" y="9.0" font-size="10.6" fill="#b40c18" stroke="#b40c18" stroke-width="0.2" textLength="10.3" lengthAdjust="spacingAndGlyphs">Ia</text><text x="456.6" y="9.0" font-size="10.6" fill="#b40c18" stroke="#b40c18" stroke-width="0.2" textLength="55.8" lengthAdjust="spacingAndGlyphs">Template</text><text x="185.7" y="56.4" font-size="16.5" fill="#2d4c9c" textLength="13.9" lengthAdjust="spacingAndGlyphs">Ia</text><text x="207.8" y="56.4" font-size="16.5" fill="#2d4c9c" textLength="58.5" lengthAdjust="spacingAndGlyphs">Passed</text><text x="366.0" y="56.2" font-size="16.5" fill="#2d4c9c" textLength="14.0" lengthAdjust="spacingAndGlyphs">Ia</text><text x="388.5" y="56.2" font-size="16.5" fill="#2d4c9c" textLength="24.7" lengthAdjust="spacingAndGlyphs">Did</text><text x="421.7" y="56.2" font-size="16.5" fill="#2d4c9c" textLength="27.2" lengthAdjust="spacingAndGlyphs">Not</text><text x="457.8" y="56.2" font-size="16.5" fill="#2d4c9c" textLength="39.0" lengthAdjust="spacingAndGlyphs">Pass</text><text x="615.0" y="56.0" font-size="16.5" fill="#2d4c9c" textLength="21.8" lengthAdjust="spacingAndGlyphs">CC</text><text x="645.9" y="56.0" font-size="16.5" fill="#2d4c9c" textLength="33.9" lengthAdjust="spacingAndGlyphs">That</text><text x="688.4" y="56.0" font-size="16.5" fill="#2d4c9c" textLength="57.9" lengthAdjust="spacingAndGlyphs">Passed</text><text x="234.7" y="76.4" font-size="12.1" stroke="#111" stroke-width="0.45" textLength="30.7" lengthAdjust="spacingAndGlyphs">Short</text><text x="221.6" y="221" font-size="12.1" stroke="#111" stroke-width="0.45" textLength="44" lengthAdjust="spacingAndGlyphs">Medium</text><text x="177.4" y="240.7" font-size="12.1" stroke="#111" stroke-width="0.45" textLength="88.2" lengthAdjust="spacingAndGlyphs">(Classification)</text><text x="238.1" y="389.6" font-size="12.1" stroke="#111" stroke-width="0.45" textLength="27.4" lengthAdjust="spacingAndGlyphs">Long</text><text x="227.3" y="408.6" font-size="12.1" stroke="#111" stroke-width="0.45" textLength="38.2" lengthAdjust="spacingAndGlyphs">(Peak)</text><text x="133" y="378.5" font-size="10.2" stroke="#111" stroke-width="0.55" textLength="34.9" lengthAdjust="spacingAndGlyphs">S ıı "W"</text><text x="185.5" y="381.6" font-size="10.2" stroke="#111" stroke-width="0.55" textLength="16.8" lengthAdjust="spacingAndGlyphs">Si ıı</text><text x="180.5" y="396.7" font-size="10.2" stroke="#111" stroke-width="0.55" textLength="26.6" lengthAdjust="spacingAndGlyphs">λ6355</text><text x="373.4" y="384.9" font-size="10.2" stroke="#111" stroke-width="0.55" textLength="34.6" lengthAdjust="spacingAndGlyphs">S ıı "W"</text><text x="425.8" y="387.6" font-size="10.2" stroke="#111" stroke-width="0.55" textLength="16.4" lengthAdjust="spacingAndGlyphs">Si ıı</text><text x="420.6" y="402.8" font-size="10.2" stroke="#111" stroke-width="0.55" textLength="26.5" lengthAdjust="spacingAndGlyphs">λ6355</text><path d="M151 382.7V412.5M194.1 401V431M391 388.3V419M434 410V440.3" stroke="#111" stroke-width="1.8"/><text x="323.0" y="580.7" font-size="14.8" fill="#111" stroke="#111" stroke-width="0.2" textLength="32.2" lengthAdjust="spacingAndGlyphs">Rest</text><text x="363.9" y="580.7" font-size="14.8" fill="#111" stroke="#111" stroke-width="0.2" textLength="83.9" lengthAdjust="spacingAndGlyphs">Wavelength</text><text x="456.5" y="580.7" font-size="14.8" fill="#111" stroke="#111" stroke-width="0.2" textLength="21.4" lengthAdjust="spacingAndGlyphs">(Å)</text><text transform="translate(13.6 314) rotate(-90)" font-size="15.6" fill="#111" stroke="#111" stroke-width="0.2"><tspan textLength="72.4" lengthAdjust="spacingAndGlyphs">Relative f</tspan><tspan font-size="11" dx="0.8" dy="3.2">λ</tspan></text></g></svg></body></html>
